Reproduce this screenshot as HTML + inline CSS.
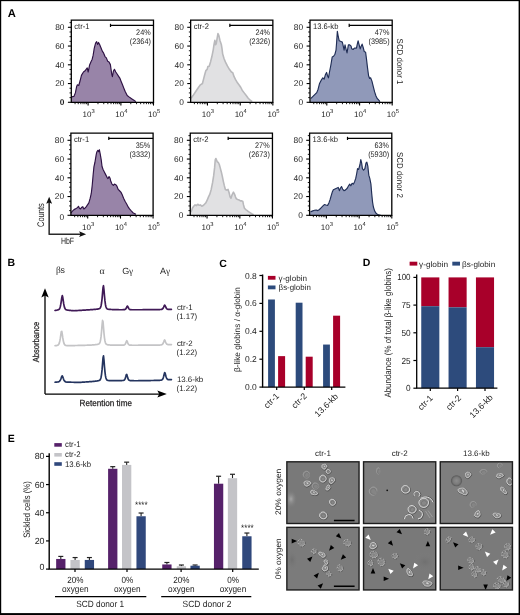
<!DOCTYPE html>
<html><head><meta charset="utf-8"><style>
html,body{margin:0;padding:0;background:#fff;}
svg{display:block;font-family:"Liberation Sans", sans-serif;text-rendering:geometricPrecision;}
</style></head><body>
<svg width="520" height="615" viewBox="0 0 520 615">
<defs><filter id="soft" x="0" y="0" width="1" height="1" color-interpolation-filters="sRGB"><feGaussianBlur stdDeviation="0.35"/></filter></defs>
<g filter="url(#soft)">
<rect x="0" y="0" width="520" height="615" fill="#fff"/>
<path d="M71.3,102.3 L72.02,96.92 L74.04,96.25 L75.38,92.88 L76.73,86.15 L77.4,84.81 L78.75,85.48 L80.1,80.77 L81.44,75.38 L83.46,72.02 L84.81,71.08 L86.15,69.33 L87.23,67.98 L88.17,72.02 L89.52,65.29 L90.87,61.92 L92.21,59.23 L93.15,55.19 L94.23,48.46 L95.58,43.08 L96.65,41.73 L97.6,44.42 L98.54,42.4 L99.62,44.42 L100.96,47.79 L102.31,51.15 L103.65,53.17 L105,56.54 L106.35,57.88 L107.69,61.25 L109.04,61.92 L110.38,64.62 L111.73,74.04 L112.4,76.73 L113.35,71.35 L114.42,69.33 L115.77,72.02 L117.12,74.04 L118.46,76.06 L119.81,78.08 L121.15,81.44 L122.5,84.81 L123.85,88.17 L125.19,91.54 L127.21,95.58 L129.9,97.6 L131.92,98.94 L133.94,100.29 L135.96,101.63 L135.96,102.3 Z" fill="#9884a8" stroke="none"/>
<path d="M72.02,96.92 L74.04,96.25 L75.38,92.88 L76.73,86.15 L77.4,84.81 L78.75,85.48 L80.1,80.77 L81.44,75.38 L83.46,72.02 L84.81,71.08 L86.15,69.33 L87.23,67.98 L88.17,72.02 L89.52,65.29 L90.87,61.92 L92.21,59.23 L93.15,55.19 L94.23,48.46 L95.58,43.08 L96.65,41.73 L97.6,44.42 L98.54,42.4 L99.62,44.42 L100.96,47.79 L102.31,51.15 L103.65,53.17 L105,56.54 L106.35,57.88 L107.69,61.25 L109.04,61.92 L110.38,64.62 L111.73,74.04 L112.4,76.73 L113.35,71.35 L114.42,69.33 L115.77,72.02 L117.12,74.04 L118.46,76.06 L119.81,78.08 L121.15,81.44 L122.5,84.81 L123.85,88.17 L125.19,91.54 L127.21,95.58 L129.9,97.6 L131.92,98.94 L133.94,100.29 L135.96,101.63" fill="none" stroke="#2e1244" stroke-width="1.15" stroke-linejoin="round"/>
<path d="M71.3,102.3 L71.3,20.2 L153.5,20.2 L153.5,102.3 Z" fill="none" stroke="#000" stroke-width="1.3"/>
<line x1="67.9" y1="102.3" x2="71.3" y2="102.3" stroke="#000" stroke-width="1.1"/>
<text x="64.5" y="105.2" font-size="8.4" fill="#1e1e1e" text-anchor="end" font-weight="bold">0</text>
<line x1="69.5" y1="97.61" x2="71.3" y2="97.61" stroke="#000" stroke-width="0.9"/>
<line x1="69.5" y1="92.92" x2="71.3" y2="92.92" stroke="#000" stroke-width="0.9"/>
<line x1="69.5" y1="88.24" x2="71.3" y2="88.24" stroke="#000" stroke-width="0.9"/>
<line x1="67.9" y1="83.55" x2="71.3" y2="83.55" stroke="#000" stroke-width="1.1"/>
<text x="64.5" y="86.45" font-size="8.4" fill="#1e1e1e" text-anchor="end">20</text>
<line x1="69.5" y1="78.86" x2="71.3" y2="78.86" stroke="#000" stroke-width="0.9"/>
<line x1="69.5" y1="74.17" x2="71.3" y2="74.17" stroke="#000" stroke-width="0.9"/>
<line x1="69.5" y1="69.49" x2="71.3" y2="69.49" stroke="#000" stroke-width="0.9"/>
<line x1="67.9" y1="64.8" x2="71.3" y2="64.8" stroke="#000" stroke-width="1.1"/>
<text x="64.5" y="67.7" font-size="8.4" fill="#1e1e1e" text-anchor="end">40</text>
<line x1="69.5" y1="60.11" x2="71.3" y2="60.11" stroke="#000" stroke-width="0.9"/>
<line x1="69.5" y1="55.42" x2="71.3" y2="55.42" stroke="#000" stroke-width="0.9"/>
<line x1="69.5" y1="50.74" x2="71.3" y2="50.74" stroke="#000" stroke-width="0.9"/>
<line x1="67.9" y1="46.05" x2="71.3" y2="46.05" stroke="#000" stroke-width="1.1"/>
<text x="64.5" y="48.95" font-size="8.4" fill="#1e1e1e" text-anchor="end">60</text>
<line x1="69.5" y1="41.36" x2="71.3" y2="41.36" stroke="#000" stroke-width="0.9"/>
<line x1="69.5" y1="36.67" x2="71.3" y2="36.67" stroke="#000" stroke-width="0.9"/>
<line x1="69.5" y1="31.99" x2="71.3" y2="31.99" stroke="#000" stroke-width="0.9"/>
<line x1="67.9" y1="27.3" x2="71.3" y2="27.3" stroke="#000" stroke-width="1.1"/>
<text x="64.5" y="30.2" font-size="8.4" fill="#1e1e1e" text-anchor="end">80</text>
<line x1="69.5" y1="22.61" x2="71.3" y2="22.61" stroke="#000" stroke-width="0.9"/>
<line x1="75.05" y1="102.3" x2="75.05" y2="104.2" stroke="#000" stroke-width="0.9"/>
<line x1="78.23" y1="102.3" x2="78.23" y2="104.2" stroke="#000" stroke-width="0.9"/>
<line x1="80.82" y1="102.3" x2="80.82" y2="104.2" stroke="#000" stroke-width="0.9"/>
<line x1="83.02" y1="102.3" x2="83.02" y2="104.2" stroke="#000" stroke-width="0.9"/>
<line x1="84.92" y1="102.3" x2="84.92" y2="104.2" stroke="#000" stroke-width="0.9"/>
<line x1="86.6" y1="102.3" x2="86.6" y2="104.2" stroke="#000" stroke-width="0.9"/>
<line x1="88.1" y1="102.3" x2="88.1" y2="105.6" stroke="#000" stroke-width="1.1"/>
<line x1="97.97" y1="102.3" x2="97.97" y2="104.2" stroke="#000" stroke-width="0.9"/>
<line x1="103.75" y1="102.3" x2="103.75" y2="104.2" stroke="#000" stroke-width="0.9"/>
<line x1="107.85" y1="102.3" x2="107.85" y2="104.2" stroke="#000" stroke-width="0.9"/>
<line x1="111.03" y1="102.3" x2="111.03" y2="104.2" stroke="#000" stroke-width="0.9"/>
<line x1="113.62" y1="102.3" x2="113.62" y2="104.2" stroke="#000" stroke-width="0.9"/>
<line x1="115.82" y1="102.3" x2="115.82" y2="104.2" stroke="#000" stroke-width="0.9"/>
<line x1="117.72" y1="102.3" x2="117.72" y2="104.2" stroke="#000" stroke-width="0.9"/>
<line x1="119.4" y1="102.3" x2="119.4" y2="104.2" stroke="#000" stroke-width="0.9"/>
<line x1="120.9" y1="102.3" x2="120.9" y2="105.6" stroke="#000" stroke-width="1.1"/>
<line x1="130.77" y1="102.3" x2="130.77" y2="104.2" stroke="#000" stroke-width="0.9"/>
<line x1="136.55" y1="102.3" x2="136.55" y2="104.2" stroke="#000" stroke-width="0.9"/>
<line x1="140.65" y1="102.3" x2="140.65" y2="104.2" stroke="#000" stroke-width="0.9"/>
<line x1="143.83" y1="102.3" x2="143.83" y2="104.2" stroke="#000" stroke-width="0.9"/>
<line x1="146.42" y1="102.3" x2="146.42" y2="104.2" stroke="#000" stroke-width="0.9"/>
<line x1="148.62" y1="102.3" x2="148.62" y2="104.2" stroke="#000" stroke-width="0.9"/>
<line x1="150.52" y1="102.3" x2="150.52" y2="104.2" stroke="#000" stroke-width="0.9"/>
<line x1="152.2" y1="102.3" x2="152.2" y2="104.2" stroke="#000" stroke-width="0.9"/>
<line x1="153.5" y1="102.3" x2="153.5" y2="105.6" stroke="#000" stroke-width="1.1"/>
<text x="82.5" y="116.8" font-size="8" fill="#1e1e1e">10<tspan dy="-3.6" font-size="5.8">3</tspan></text>
<text x="115.3" y="116.8" font-size="8" fill="#1e1e1e">10<tspan dy="-3.6" font-size="5.8">4</tspan></text>
<text x="148.1" y="116.8" font-size="8" fill="#1e1e1e">10<tspan dy="-3.6" font-size="5.8">5</tspan></text>
<text x="74.3" y="28.9" font-size="8.1" fill="#1e1e1e" textLength="15.23" lengthAdjust="spacingAndGlyphs">ctr-1</text>
<line x1="110.5" y1="25.4" x2="153.5" y2="25.4" stroke="#000" stroke-width="1.2"/>
<line x1="110.5" y1="23.8" x2="110.5" y2="27" stroke="#000" stroke-width="1.2"/>
<text x="150.7" y="34.8" font-size="8.1" fill="#1e1e1e" text-anchor="end" textLength="14.59" lengthAdjust="spacingAndGlyphs">24%</text>
<text x="150.9" y="43.8" font-size="8.1" fill="#1e1e1e" text-anchor="end" textLength="21.07" lengthAdjust="spacingAndGlyphs">(2364)</text>
<path d="M190.65,102.3 L191.02,98.27 L193.04,95.58 L195.73,91.54 L198.42,87.5 L200.44,84.81 L202.46,83.46 L203.81,78.08 L204.88,74.04 L205.83,70.67 L207.17,69.33 L207.85,66.63 L209.19,66.23 L210.54,61.92 L211.88,56.54 L213.23,49.81 L214.04,44.42 L214.85,40.38 L215.52,44.69 L216.19,43.75 L217,39.04 L217.94,33.52 L218.88,35.67 L219.96,40.38 L221.31,44.42 L221.98,48.46 L222.65,53.85 L224,58.56 L225.35,61.92 L227.37,65.96 L229.38,69.33 L231.4,72.02 L232.75,72.69 L234.1,76.73 L235.44,79.42 L237.46,82.79 L239.48,85.48 L240.83,87.5 L242.17,90.19 L244.19,92.88 L246.21,95.58 L248.23,98.27 L250.25,100.29 L252.27,101.63 L252.27,102.3 Z" fill="#e1e1e3" stroke="none"/>
<path d="M191.02,98.27 L193.04,95.58 L195.73,91.54 L198.42,87.5 L200.44,84.81 L202.46,83.46 L203.81,78.08 L204.88,74.04 L205.83,70.67 L207.17,69.33 L207.85,66.63 L209.19,66.23 L210.54,61.92 L211.88,56.54 L213.23,49.81 L214.04,44.42 L214.85,40.38 L215.52,44.69 L216.19,43.75 L217,39.04 L217.94,33.52 L218.88,35.67 L219.96,40.38 L221.31,44.42 L221.98,48.46 L222.65,53.85 L224,58.56 L225.35,61.92 L227.37,65.96 L229.38,69.33 L231.4,72.02 L232.75,72.69 L234.1,76.73 L235.44,79.42 L237.46,82.79 L239.48,85.48 L240.83,87.5 L242.17,90.19 L244.19,92.88 L246.21,95.58 L248.23,98.27 L250.25,100.29 L252.27,101.63" fill="none" stroke="#b9b9bc" stroke-width="1.6" stroke-linejoin="round"/>
<path d="M190.65,102.3 L190.65,20.2 L272.85,20.2 L272.85,102.3 Z" fill="none" stroke="#000" stroke-width="1.3"/>
<line x1="187.25" y1="102.3" x2="190.65" y2="102.3" stroke="#000" stroke-width="1.1"/>
<text x="183.85" y="105.2" font-size="8.4" fill="#1e1e1e" text-anchor="end">0</text>
<line x1="188.85" y1="97.61" x2="190.65" y2="97.61" stroke="#000" stroke-width="0.9"/>
<line x1="188.85" y1="92.92" x2="190.65" y2="92.92" stroke="#000" stroke-width="0.9"/>
<line x1="188.85" y1="88.24" x2="190.65" y2="88.24" stroke="#000" stroke-width="0.9"/>
<line x1="187.25" y1="83.55" x2="190.65" y2="83.55" stroke="#000" stroke-width="1.1"/>
<text x="183.85" y="86.45" font-size="8.4" fill="#1e1e1e" text-anchor="end">20</text>
<line x1="188.85" y1="78.86" x2="190.65" y2="78.86" stroke="#000" stroke-width="0.9"/>
<line x1="188.85" y1="74.17" x2="190.65" y2="74.17" stroke="#000" stroke-width="0.9"/>
<line x1="188.85" y1="69.49" x2="190.65" y2="69.49" stroke="#000" stroke-width="0.9"/>
<line x1="187.25" y1="64.8" x2="190.65" y2="64.8" stroke="#000" stroke-width="1.1"/>
<text x="183.85" y="67.7" font-size="8.4" fill="#1e1e1e" text-anchor="end">40</text>
<line x1="188.85" y1="60.11" x2="190.65" y2="60.11" stroke="#000" stroke-width="0.9"/>
<line x1="188.85" y1="55.42" x2="190.65" y2="55.42" stroke="#000" stroke-width="0.9"/>
<line x1="188.85" y1="50.74" x2="190.65" y2="50.74" stroke="#000" stroke-width="0.9"/>
<line x1="187.25" y1="46.05" x2="190.65" y2="46.05" stroke="#000" stroke-width="1.1"/>
<text x="183.85" y="48.95" font-size="8.4" fill="#1e1e1e" text-anchor="end">60</text>
<line x1="188.85" y1="41.36" x2="190.65" y2="41.36" stroke="#000" stroke-width="0.9"/>
<line x1="188.85" y1="36.67" x2="190.65" y2="36.67" stroke="#000" stroke-width="0.9"/>
<line x1="188.85" y1="31.99" x2="190.65" y2="31.99" stroke="#000" stroke-width="0.9"/>
<line x1="187.25" y1="27.3" x2="190.65" y2="27.3" stroke="#000" stroke-width="1.1"/>
<text x="183.85" y="30.2" font-size="8.4" fill="#1e1e1e" text-anchor="end">80</text>
<line x1="188.85" y1="22.61" x2="190.65" y2="22.61" stroke="#000" stroke-width="0.9"/>
<line x1="194.4" y1="102.3" x2="194.4" y2="104.2" stroke="#000" stroke-width="0.9"/>
<line x1="197.58" y1="102.3" x2="197.58" y2="104.2" stroke="#000" stroke-width="0.9"/>
<line x1="200.17" y1="102.3" x2="200.17" y2="104.2" stroke="#000" stroke-width="0.9"/>
<line x1="202.37" y1="102.3" x2="202.37" y2="104.2" stroke="#000" stroke-width="0.9"/>
<line x1="204.27" y1="102.3" x2="204.27" y2="104.2" stroke="#000" stroke-width="0.9"/>
<line x1="205.95" y1="102.3" x2="205.95" y2="104.2" stroke="#000" stroke-width="0.9"/>
<line x1="207.45" y1="102.3" x2="207.45" y2="105.6" stroke="#000" stroke-width="1.1"/>
<line x1="217.32" y1="102.3" x2="217.32" y2="104.2" stroke="#000" stroke-width="0.9"/>
<line x1="223.1" y1="102.3" x2="223.1" y2="104.2" stroke="#000" stroke-width="0.9"/>
<line x1="227.2" y1="102.3" x2="227.2" y2="104.2" stroke="#000" stroke-width="0.9"/>
<line x1="230.38" y1="102.3" x2="230.38" y2="104.2" stroke="#000" stroke-width="0.9"/>
<line x1="232.97" y1="102.3" x2="232.97" y2="104.2" stroke="#000" stroke-width="0.9"/>
<line x1="235.17" y1="102.3" x2="235.17" y2="104.2" stroke="#000" stroke-width="0.9"/>
<line x1="237.07" y1="102.3" x2="237.07" y2="104.2" stroke="#000" stroke-width="0.9"/>
<line x1="238.75" y1="102.3" x2="238.75" y2="104.2" stroke="#000" stroke-width="0.9"/>
<line x1="240.25" y1="102.3" x2="240.25" y2="105.6" stroke="#000" stroke-width="1.1"/>
<line x1="250.12" y1="102.3" x2="250.12" y2="104.2" stroke="#000" stroke-width="0.9"/>
<line x1="255.9" y1="102.3" x2="255.9" y2="104.2" stroke="#000" stroke-width="0.9"/>
<line x1="260" y1="102.3" x2="260" y2="104.2" stroke="#000" stroke-width="0.9"/>
<line x1="263.18" y1="102.3" x2="263.18" y2="104.2" stroke="#000" stroke-width="0.9"/>
<line x1="265.77" y1="102.3" x2="265.77" y2="104.2" stroke="#000" stroke-width="0.9"/>
<line x1="267.97" y1="102.3" x2="267.97" y2="104.2" stroke="#000" stroke-width="0.9"/>
<line x1="269.87" y1="102.3" x2="269.87" y2="104.2" stroke="#000" stroke-width="0.9"/>
<line x1="271.55" y1="102.3" x2="271.55" y2="104.2" stroke="#000" stroke-width="0.9"/>
<line x1="272.85" y1="102.3" x2="272.85" y2="105.6" stroke="#000" stroke-width="1.1"/>
<text x="201.85" y="116.8" font-size="8" fill="#1e1e1e">10<tspan dy="-3.6" font-size="5.8">3</tspan></text>
<text x="234.65" y="116.8" font-size="8" fill="#1e1e1e">10<tspan dy="-3.6" font-size="5.8">4</tspan></text>
<text x="267.45" y="116.8" font-size="8" fill="#1e1e1e">10<tspan dy="-3.6" font-size="5.8">5</tspan></text>
<text x="193.65" y="28.9" font-size="8.1" fill="#1e1e1e" textLength="15.23" lengthAdjust="spacingAndGlyphs">ctr-2</text>
<line x1="229.85" y1="25.4" x2="272.85" y2="25.4" stroke="#000" stroke-width="1.2"/>
<line x1="229.85" y1="23.8" x2="229.85" y2="27" stroke="#000" stroke-width="1.2"/>
<text x="270.05" y="34.8" font-size="8.1" fill="#1e1e1e" text-anchor="end" textLength="14.59" lengthAdjust="spacingAndGlyphs">24%</text>
<text x="270.25" y="43.8" font-size="8.1" fill="#1e1e1e" text-anchor="end" textLength="21.07" lengthAdjust="spacingAndGlyphs">(2326)</text>
<path d="M310,102.3 L310.69,98.65 L312.71,96.63 L314.73,94.62 L316.75,92.6 L318.1,89.23 L319.44,83.85 L321.46,79.81 L322.81,77.79 L324.15,79.13 L325.5,74.42 L326.58,72.4 L327.52,75.77 L328.46,77.79 L329.54,71.73 L330.88,65 L332.23,56.92 L333.58,56.25 L334.92,54.23 L336,50.19 L336.54,43.46 L337.35,31.35 L338.29,36.73 L339.23,40.77 L340.98,41.44 L342.33,42.12 L343.27,46.15 L344.08,50.19 L345.02,44.81 L345.96,48.85 L347.04,52.88 L348.38,44.81 L349.73,44.81 L351.08,46.15 L351.75,48.85 L353.1,49.52 L354.44,48.17 L356.46,48.17 L357.13,44.81 L358.08,40.77 L359.15,44.81 L360.23,48.85 L361.17,46.15 L362.12,44.13 L363.19,47.5 L364.27,51.54 L365.62,52.21 L366.56,59.62 L367.5,67.69 L368.58,75.77 L369.65,78.46 L370.6,77.79 L371.94,81.15 L373.29,86.54 L374.63,91.92 L375.98,95.96 L377.33,98.65 L378.67,100 L380.02,101.62 L380.02,102.3 Z" fill="#9099b9" stroke="none"/>
<path d="M310.69,98.65 L312.71,96.63 L314.73,94.62 L316.75,92.6 L318.1,89.23 L319.44,83.85 L321.46,79.81 L322.81,77.79 L324.15,79.13 L325.5,74.42 L326.58,72.4 L327.52,75.77 L328.46,77.79 L329.54,71.73 L330.88,65 L332.23,56.92 L333.58,56.25 L334.92,54.23 L336,50.19 L336.54,43.46 L337.35,31.35 L338.29,36.73 L339.23,40.77 L340.98,41.44 L342.33,42.12 L343.27,46.15 L344.08,50.19 L345.02,44.81 L345.96,48.85 L347.04,52.88 L348.38,44.81 L349.73,44.81 L351.08,46.15 L351.75,48.85 L353.1,49.52 L354.44,48.17 L356.46,48.17 L357.13,44.81 L358.08,40.77 L359.15,44.81 L360.23,48.85 L361.17,46.15 L362.12,44.13 L363.19,47.5 L364.27,51.54 L365.62,52.21 L366.56,59.62 L367.5,67.69 L368.58,75.77 L369.65,78.46 L370.6,77.79 L371.94,81.15 L373.29,86.54 L374.63,91.92 L375.98,95.96 L377.33,98.65 L378.67,100 L380.02,101.62" fill="none" stroke="#1f2d55" stroke-width="1.15" stroke-linejoin="round"/>
<path d="M310,102.3 L310,20.2 L392.2,20.2 L392.2,102.3 Z" fill="none" stroke="#000" stroke-width="1.3"/>
<line x1="306.6" y1="102.3" x2="310" y2="102.3" stroke="#000" stroke-width="1.1"/>
<text x="303.2" y="105.2" font-size="8.4" fill="#1e1e1e" text-anchor="end">0</text>
<line x1="308.2" y1="97.61" x2="310" y2="97.61" stroke="#000" stroke-width="0.9"/>
<line x1="308.2" y1="92.92" x2="310" y2="92.92" stroke="#000" stroke-width="0.9"/>
<line x1="308.2" y1="88.24" x2="310" y2="88.24" stroke="#000" stroke-width="0.9"/>
<line x1="306.6" y1="83.55" x2="310" y2="83.55" stroke="#000" stroke-width="1.1"/>
<text x="303.2" y="86.45" font-size="8.4" fill="#1e1e1e" text-anchor="end">20</text>
<line x1="308.2" y1="78.86" x2="310" y2="78.86" stroke="#000" stroke-width="0.9"/>
<line x1="308.2" y1="74.17" x2="310" y2="74.17" stroke="#000" stroke-width="0.9"/>
<line x1="308.2" y1="69.49" x2="310" y2="69.49" stroke="#000" stroke-width="0.9"/>
<line x1="306.6" y1="64.8" x2="310" y2="64.8" stroke="#000" stroke-width="1.1"/>
<text x="303.2" y="67.7" font-size="8.4" fill="#1e1e1e" text-anchor="end">40</text>
<line x1="308.2" y1="60.11" x2="310" y2="60.11" stroke="#000" stroke-width="0.9"/>
<line x1="308.2" y1="55.42" x2="310" y2="55.42" stroke="#000" stroke-width="0.9"/>
<line x1="308.2" y1="50.74" x2="310" y2="50.74" stroke="#000" stroke-width="0.9"/>
<line x1="306.6" y1="46.05" x2="310" y2="46.05" stroke="#000" stroke-width="1.1"/>
<text x="303.2" y="48.95" font-size="8.4" fill="#1e1e1e" text-anchor="end">60</text>
<line x1="308.2" y1="41.36" x2="310" y2="41.36" stroke="#000" stroke-width="0.9"/>
<line x1="308.2" y1="36.67" x2="310" y2="36.67" stroke="#000" stroke-width="0.9"/>
<line x1="308.2" y1="31.99" x2="310" y2="31.99" stroke="#000" stroke-width="0.9"/>
<line x1="306.6" y1="27.3" x2="310" y2="27.3" stroke="#000" stroke-width="1.1"/>
<text x="303.2" y="30.2" font-size="8.4" fill="#1e1e1e" text-anchor="end">80</text>
<line x1="308.2" y1="22.61" x2="310" y2="22.61" stroke="#000" stroke-width="0.9"/>
<line x1="313.75" y1="102.3" x2="313.75" y2="104.2" stroke="#000" stroke-width="0.9"/>
<line x1="316.93" y1="102.3" x2="316.93" y2="104.2" stroke="#000" stroke-width="0.9"/>
<line x1="319.52" y1="102.3" x2="319.52" y2="104.2" stroke="#000" stroke-width="0.9"/>
<line x1="321.72" y1="102.3" x2="321.72" y2="104.2" stroke="#000" stroke-width="0.9"/>
<line x1="323.62" y1="102.3" x2="323.62" y2="104.2" stroke="#000" stroke-width="0.9"/>
<line x1="325.3" y1="102.3" x2="325.3" y2="104.2" stroke="#000" stroke-width="0.9"/>
<line x1="326.8" y1="102.3" x2="326.8" y2="105.6" stroke="#000" stroke-width="1.1"/>
<line x1="336.67" y1="102.3" x2="336.67" y2="104.2" stroke="#000" stroke-width="0.9"/>
<line x1="342.45" y1="102.3" x2="342.45" y2="104.2" stroke="#000" stroke-width="0.9"/>
<line x1="346.55" y1="102.3" x2="346.55" y2="104.2" stroke="#000" stroke-width="0.9"/>
<line x1="349.73" y1="102.3" x2="349.73" y2="104.2" stroke="#000" stroke-width="0.9"/>
<line x1="352.32" y1="102.3" x2="352.32" y2="104.2" stroke="#000" stroke-width="0.9"/>
<line x1="354.52" y1="102.3" x2="354.52" y2="104.2" stroke="#000" stroke-width="0.9"/>
<line x1="356.42" y1="102.3" x2="356.42" y2="104.2" stroke="#000" stroke-width="0.9"/>
<line x1="358.1" y1="102.3" x2="358.1" y2="104.2" stroke="#000" stroke-width="0.9"/>
<line x1="359.6" y1="102.3" x2="359.6" y2="105.6" stroke="#000" stroke-width="1.1"/>
<line x1="369.47" y1="102.3" x2="369.47" y2="104.2" stroke="#000" stroke-width="0.9"/>
<line x1="375.25" y1="102.3" x2="375.25" y2="104.2" stroke="#000" stroke-width="0.9"/>
<line x1="379.35" y1="102.3" x2="379.35" y2="104.2" stroke="#000" stroke-width="0.9"/>
<line x1="382.53" y1="102.3" x2="382.53" y2="104.2" stroke="#000" stroke-width="0.9"/>
<line x1="385.12" y1="102.3" x2="385.12" y2="104.2" stroke="#000" stroke-width="0.9"/>
<line x1="387.32" y1="102.3" x2="387.32" y2="104.2" stroke="#000" stroke-width="0.9"/>
<line x1="389.22" y1="102.3" x2="389.22" y2="104.2" stroke="#000" stroke-width="0.9"/>
<line x1="390.9" y1="102.3" x2="390.9" y2="104.2" stroke="#000" stroke-width="0.9"/>
<line x1="392.2" y1="102.3" x2="392.2" y2="105.6" stroke="#000" stroke-width="1.1"/>
<text x="321.2" y="116.8" font-size="8" fill="#1e1e1e">10<tspan dy="-3.6" font-size="5.8">3</tspan></text>
<text x="354" y="116.8" font-size="8" fill="#1e1e1e">10<tspan dy="-3.6" font-size="5.8">4</tspan></text>
<text x="386.8" y="116.8" font-size="8" fill="#1e1e1e">10<tspan dy="-3.6" font-size="5.8">5</tspan></text>
<text x="313" y="28.9" font-size="8.1" fill="#1e1e1e" textLength="25.4" lengthAdjust="spacingAndGlyphs">13.6-kb</text>
<line x1="349.2" y1="25.4" x2="392.2" y2="25.4" stroke="#000" stroke-width="1.2"/>
<line x1="349.2" y1="23.8" x2="349.2" y2="27" stroke="#000" stroke-width="1.2"/>
<text x="389.4" y="34.8" font-size="8.1" fill="#1e1e1e" text-anchor="end" textLength="14.59" lengthAdjust="spacingAndGlyphs">47%</text>
<text x="389.6" y="43.8" font-size="8.1" fill="#1e1e1e" text-anchor="end" textLength="21.07" lengthAdjust="spacingAndGlyphs">(3985)</text>
<text x="397" y="38.6" font-size="8.6" fill="#1e1e1e" textLength="45.8" lengthAdjust="spacingAndGlyphs" transform="rotate(90 397 38.6)">SCD donor 1</text>
<path d="M70.9,215.3 L70.9,212.98 L72.69,210.96 L74.04,209.62 L76.06,208.54 L77.4,207.6 L78.48,206.25 L79.42,208.27 L80.5,208.94 L81.85,207.19 L82.79,206.65 L83.87,208.94 L84.81,208.27 L86.15,206.92 L87.5,204.9 L88.85,202.88 L90.19,198.17 L91.27,193.46 L92.21,185.38 L93.15,174.62 L93.96,166.54 L94.9,162.5 L95.58,158.46 L96.25,154.42 L96.92,151.73 L97.87,150.38 L98.67,151.73 L99.35,149.71 L100.29,154.42 L101.23,159.81 L102.04,166.54 L102.98,169.23 L104.33,171.92 L105.67,174.62 L107.02,177.31 L107.96,178.65 L109.04,176.63 L109.98,177.98 L110.79,181.35 L112,184.04 L113.35,185.38 L114.42,184.04 L115.77,184.71 L116.85,186.06 L118.19,189.42 L119.54,190.77 L120.88,192.12 L122.23,194.81 L123.58,198.17 L125.19,201.54 L126.81,204.23 L128.15,206.92 L129.5,208.94 L131.25,210.96 L133.27,212.98 L135.96,214.33 L135.96,215.3 Z" fill="#9884a8" stroke="none"/>
<path d="M70.9,212.98 L72.69,210.96 L74.04,209.62 L76.06,208.54 L77.4,207.6 L78.48,206.25 L79.42,208.27 L80.5,208.94 L81.85,207.19 L82.79,206.65 L83.87,208.94 L84.81,208.27 L86.15,206.92 L87.5,204.9 L88.85,202.88 L90.19,198.17 L91.27,193.46 L92.21,185.38 L93.15,174.62 L93.96,166.54 L94.9,162.5 L95.58,158.46 L96.25,154.42 L96.92,151.73 L97.87,150.38 L98.67,151.73 L99.35,149.71 L100.29,154.42 L101.23,159.81 L102.04,166.54 L102.98,169.23 L104.33,171.92 L105.67,174.62 L107.02,177.31 L107.96,178.65 L109.04,176.63 L109.98,177.98 L110.79,181.35 L112,184.04 L113.35,185.38 L114.42,184.04 L115.77,184.71 L116.85,186.06 L118.19,189.42 L119.54,190.77 L120.88,192.12 L122.23,194.81 L123.58,198.17 L125.19,201.54 L126.81,204.23 L128.15,206.92 L129.5,208.94 L131.25,210.96 L133.27,212.98 L135.96,214.33" fill="none" stroke="#2e1244" stroke-width="1.15" stroke-linejoin="round"/>
<path d="M70.9,215.3 L70.9,133.2 L153.1,133.2 L153.1,215.3 Z" fill="none" stroke="#000" stroke-width="1.3"/>
<line x1="67.5" y1="215.3" x2="70.9" y2="215.3" stroke="#000" stroke-width="1.1"/>
<text x="64.1" y="220.1" font-size="8.4" fill="#1e1e1e" text-anchor="end">0</text>
<line x1="69.1" y1="210.61" x2="70.9" y2="210.61" stroke="#000" stroke-width="0.9"/>
<line x1="69.1" y1="205.93" x2="70.9" y2="205.93" stroke="#000" stroke-width="0.9"/>
<line x1="69.1" y1="201.24" x2="70.9" y2="201.24" stroke="#000" stroke-width="0.9"/>
<line x1="67.5" y1="196.55" x2="70.9" y2="196.55" stroke="#000" stroke-width="1.1"/>
<text x="64.1" y="199.45" font-size="8.4" fill="#1e1e1e" text-anchor="end">20</text>
<line x1="69.1" y1="191.86" x2="70.9" y2="191.86" stroke="#000" stroke-width="0.9"/>
<line x1="69.1" y1="187.18" x2="70.9" y2="187.18" stroke="#000" stroke-width="0.9"/>
<line x1="69.1" y1="182.49" x2="70.9" y2="182.49" stroke="#000" stroke-width="0.9"/>
<line x1="67.5" y1="177.8" x2="70.9" y2="177.8" stroke="#000" stroke-width="1.1"/>
<text x="64.1" y="180.7" font-size="8.4" fill="#1e1e1e" text-anchor="end">40</text>
<line x1="69.1" y1="173.11" x2="70.9" y2="173.11" stroke="#000" stroke-width="0.9"/>
<line x1="69.1" y1="168.43" x2="70.9" y2="168.43" stroke="#000" stroke-width="0.9"/>
<line x1="69.1" y1="163.74" x2="70.9" y2="163.74" stroke="#000" stroke-width="0.9"/>
<line x1="67.5" y1="159.05" x2="70.9" y2="159.05" stroke="#000" stroke-width="1.1"/>
<text x="64.1" y="161.95" font-size="8.4" fill="#1e1e1e" text-anchor="end">60</text>
<line x1="69.1" y1="154.36" x2="70.9" y2="154.36" stroke="#000" stroke-width="0.9"/>
<line x1="69.1" y1="149.68" x2="70.9" y2="149.68" stroke="#000" stroke-width="0.9"/>
<line x1="69.1" y1="144.99" x2="70.9" y2="144.99" stroke="#000" stroke-width="0.9"/>
<line x1="67.5" y1="140.3" x2="70.9" y2="140.3" stroke="#000" stroke-width="1.1"/>
<text x="64.1" y="143.2" font-size="8.4" fill="#1e1e1e" text-anchor="end">80</text>
<line x1="69.1" y1="135.61" x2="70.9" y2="135.61" stroke="#000" stroke-width="0.9"/>
<line x1="74.65" y1="215.3" x2="74.65" y2="217.2" stroke="#000" stroke-width="0.9"/>
<line x1="77.83" y1="215.3" x2="77.83" y2="217.2" stroke="#000" stroke-width="0.9"/>
<line x1="80.42" y1="215.3" x2="80.42" y2="217.2" stroke="#000" stroke-width="0.9"/>
<line x1="82.62" y1="215.3" x2="82.62" y2="217.2" stroke="#000" stroke-width="0.9"/>
<line x1="84.52" y1="215.3" x2="84.52" y2="217.2" stroke="#000" stroke-width="0.9"/>
<line x1="86.2" y1="215.3" x2="86.2" y2="217.2" stroke="#000" stroke-width="0.9"/>
<line x1="87.7" y1="215.3" x2="87.7" y2="218.6" stroke="#000" stroke-width="1.1"/>
<line x1="97.57" y1="215.3" x2="97.57" y2="217.2" stroke="#000" stroke-width="0.9"/>
<line x1="103.35" y1="215.3" x2="103.35" y2="217.2" stroke="#000" stroke-width="0.9"/>
<line x1="107.45" y1="215.3" x2="107.45" y2="217.2" stroke="#000" stroke-width="0.9"/>
<line x1="110.63" y1="215.3" x2="110.63" y2="217.2" stroke="#000" stroke-width="0.9"/>
<line x1="113.22" y1="215.3" x2="113.22" y2="217.2" stroke="#000" stroke-width="0.9"/>
<line x1="115.42" y1="215.3" x2="115.42" y2="217.2" stroke="#000" stroke-width="0.9"/>
<line x1="117.32" y1="215.3" x2="117.32" y2="217.2" stroke="#000" stroke-width="0.9"/>
<line x1="119" y1="215.3" x2="119" y2="217.2" stroke="#000" stroke-width="0.9"/>
<line x1="120.5" y1="215.3" x2="120.5" y2="218.6" stroke="#000" stroke-width="1.1"/>
<line x1="130.37" y1="215.3" x2="130.37" y2="217.2" stroke="#000" stroke-width="0.9"/>
<line x1="136.15" y1="215.3" x2="136.15" y2="217.2" stroke="#000" stroke-width="0.9"/>
<line x1="140.25" y1="215.3" x2="140.25" y2="217.2" stroke="#000" stroke-width="0.9"/>
<line x1="143.43" y1="215.3" x2="143.43" y2="217.2" stroke="#000" stroke-width="0.9"/>
<line x1="146.02" y1="215.3" x2="146.02" y2="217.2" stroke="#000" stroke-width="0.9"/>
<line x1="148.22" y1="215.3" x2="148.22" y2="217.2" stroke="#000" stroke-width="0.9"/>
<line x1="150.12" y1="215.3" x2="150.12" y2="217.2" stroke="#000" stroke-width="0.9"/>
<line x1="151.8" y1="215.3" x2="151.8" y2="217.2" stroke="#000" stroke-width="0.9"/>
<line x1="153.1" y1="215.3" x2="153.1" y2="218.6" stroke="#000" stroke-width="1.1"/>
<text x="82.1" y="229.8" font-size="8" fill="#1e1e1e">10<tspan dy="-3.6" font-size="5.8">3</tspan></text>
<text x="114.9" y="229.8" font-size="8" fill="#1e1e1e">10<tspan dy="-3.6" font-size="5.8">4</tspan></text>
<text x="147.7" y="229.8" font-size="8" fill="#1e1e1e">10<tspan dy="-3.6" font-size="5.8">5</tspan></text>
<text x="73.9" y="141.9" font-size="8.1" fill="#1e1e1e" textLength="15.23" lengthAdjust="spacingAndGlyphs">ctr-1</text>
<line x1="108.8" y1="138.4" x2="153.1" y2="138.4" stroke="#000" stroke-width="1.2"/>
<line x1="108.8" y1="136.8" x2="108.8" y2="140" stroke="#000" stroke-width="1.2"/>
<text x="150.3" y="147.8" font-size="8.1" fill="#1e1e1e" text-anchor="end" textLength="14.59" lengthAdjust="spacingAndGlyphs">35%</text>
<text x="150.5" y="156.8" font-size="8.1" fill="#1e1e1e" text-anchor="end" textLength="21.07" lengthAdjust="spacingAndGlyphs">(3332)</text>
<path d="M190.25,215.3 L191.02,212.31 L192.37,208.27 L193.71,206.25 L195.06,204.9 L196.4,205.58 L197.75,204.23 L199.1,205.31 L200.44,204.9 L201.79,206.25 L203.13,205.58 L204.48,204.23 L205.83,202.88 L207.17,200.19 L208.52,196.83 L209.87,194.13 L211.21,189.42 L212.56,182.69 L213.63,175.96 L214.58,167.88 L215.25,159.81 L215.92,158.46 L217.27,161.83 L218.35,162.5 L219.29,164.52 L220.23,167.88 L221.31,171.92 L222.38,176.63 L223.33,181.35 L224.27,185.38 L225.35,189.42 L226.69,190.1 L228.04,189.42 L229.12,192.79 L230.06,196.83 L231,198.17 L232.08,194.81 L233.42,192.12 L234.5,194.13 L235.44,196.83 L236.38,198.85 L237.73,199.52 L239.08,199.92 L240.42,200.87 L241.77,200.87 L242.85,201.54 L243.52,204.9 L244.46,208.27 L245.81,209.62 L247.56,210.96 L249.58,212.31 L251.6,213.65 L253.62,214.73 L253.62,215.3 Z" fill="#e1e1e3" stroke="none"/>
<path d="M191.02,212.31 L192.37,208.27 L193.71,206.25 L195.06,204.9 L196.4,205.58 L197.75,204.23 L199.1,205.31 L200.44,204.9 L201.79,206.25 L203.13,205.58 L204.48,204.23 L205.83,202.88 L207.17,200.19 L208.52,196.83 L209.87,194.13 L211.21,189.42 L212.56,182.69 L213.63,175.96 L214.58,167.88 L215.25,159.81 L215.92,158.46 L217.27,161.83 L218.35,162.5 L219.29,164.52 L220.23,167.88 L221.31,171.92 L222.38,176.63 L223.33,181.35 L224.27,185.38 L225.35,189.42 L226.69,190.1 L228.04,189.42 L229.12,192.79 L230.06,196.83 L231,198.17 L232.08,194.81 L233.42,192.12 L234.5,194.13 L235.44,196.83 L236.38,198.85 L237.73,199.52 L239.08,199.92 L240.42,200.87 L241.77,200.87 L242.85,201.54 L243.52,204.9 L244.46,208.27 L245.81,209.62 L247.56,210.96 L249.58,212.31 L251.6,213.65 L253.62,214.73" fill="none" stroke="#b9b9bc" stroke-width="1.6" stroke-linejoin="round"/>
<path d="M190.25,215.3 L190.25,133.2 L272.45,133.2 L272.45,215.3 Z" fill="none" stroke="#000" stroke-width="1.3"/>
<line x1="186.85" y1="215.3" x2="190.25" y2="215.3" stroke="#000" stroke-width="1.1"/>
<text x="183.45" y="218.2" font-size="8.4" fill="#1e1e1e" text-anchor="end">0</text>
<line x1="188.45" y1="210.61" x2="190.25" y2="210.61" stroke="#000" stroke-width="0.9"/>
<line x1="188.45" y1="205.93" x2="190.25" y2="205.93" stroke="#000" stroke-width="0.9"/>
<line x1="188.45" y1="201.24" x2="190.25" y2="201.24" stroke="#000" stroke-width="0.9"/>
<line x1="186.85" y1="196.55" x2="190.25" y2="196.55" stroke="#000" stroke-width="1.1"/>
<text x="183.45" y="199.45" font-size="8.4" fill="#1e1e1e" text-anchor="end">20</text>
<line x1="188.45" y1="191.86" x2="190.25" y2="191.86" stroke="#000" stroke-width="0.9"/>
<line x1="188.45" y1="187.18" x2="190.25" y2="187.18" stroke="#000" stroke-width="0.9"/>
<line x1="188.45" y1="182.49" x2="190.25" y2="182.49" stroke="#000" stroke-width="0.9"/>
<line x1="186.85" y1="177.8" x2="190.25" y2="177.8" stroke="#000" stroke-width="1.1"/>
<text x="183.45" y="180.7" font-size="8.4" fill="#1e1e1e" text-anchor="end">40</text>
<line x1="188.45" y1="173.11" x2="190.25" y2="173.11" stroke="#000" stroke-width="0.9"/>
<line x1="188.45" y1="168.43" x2="190.25" y2="168.43" stroke="#000" stroke-width="0.9"/>
<line x1="188.45" y1="163.74" x2="190.25" y2="163.74" stroke="#000" stroke-width="0.9"/>
<line x1="186.85" y1="159.05" x2="190.25" y2="159.05" stroke="#000" stroke-width="1.1"/>
<text x="183.45" y="161.95" font-size="8.4" fill="#1e1e1e" text-anchor="end">60</text>
<line x1="188.45" y1="154.36" x2="190.25" y2="154.36" stroke="#000" stroke-width="0.9"/>
<line x1="188.45" y1="149.68" x2="190.25" y2="149.68" stroke="#000" stroke-width="0.9"/>
<line x1="188.45" y1="144.99" x2="190.25" y2="144.99" stroke="#000" stroke-width="0.9"/>
<line x1="186.85" y1="140.3" x2="190.25" y2="140.3" stroke="#000" stroke-width="1.1"/>
<text x="183.45" y="143.2" font-size="8.4" fill="#1e1e1e" text-anchor="end">80</text>
<line x1="188.45" y1="135.61" x2="190.25" y2="135.61" stroke="#000" stroke-width="0.9"/>
<line x1="194" y1="215.3" x2="194" y2="217.2" stroke="#000" stroke-width="0.9"/>
<line x1="197.18" y1="215.3" x2="197.18" y2="217.2" stroke="#000" stroke-width="0.9"/>
<line x1="199.77" y1="215.3" x2="199.77" y2="217.2" stroke="#000" stroke-width="0.9"/>
<line x1="201.97" y1="215.3" x2="201.97" y2="217.2" stroke="#000" stroke-width="0.9"/>
<line x1="203.87" y1="215.3" x2="203.87" y2="217.2" stroke="#000" stroke-width="0.9"/>
<line x1="205.55" y1="215.3" x2="205.55" y2="217.2" stroke="#000" stroke-width="0.9"/>
<line x1="207.05" y1="215.3" x2="207.05" y2="218.6" stroke="#000" stroke-width="1.1"/>
<line x1="216.92" y1="215.3" x2="216.92" y2="217.2" stroke="#000" stroke-width="0.9"/>
<line x1="222.7" y1="215.3" x2="222.7" y2="217.2" stroke="#000" stroke-width="0.9"/>
<line x1="226.8" y1="215.3" x2="226.8" y2="217.2" stroke="#000" stroke-width="0.9"/>
<line x1="229.98" y1="215.3" x2="229.98" y2="217.2" stroke="#000" stroke-width="0.9"/>
<line x1="232.57" y1="215.3" x2="232.57" y2="217.2" stroke="#000" stroke-width="0.9"/>
<line x1="234.77" y1="215.3" x2="234.77" y2="217.2" stroke="#000" stroke-width="0.9"/>
<line x1="236.67" y1="215.3" x2="236.67" y2="217.2" stroke="#000" stroke-width="0.9"/>
<line x1="238.35" y1="215.3" x2="238.35" y2="217.2" stroke="#000" stroke-width="0.9"/>
<line x1="239.85" y1="215.3" x2="239.85" y2="218.6" stroke="#000" stroke-width="1.1"/>
<line x1="249.72" y1="215.3" x2="249.72" y2="217.2" stroke="#000" stroke-width="0.9"/>
<line x1="255.5" y1="215.3" x2="255.5" y2="217.2" stroke="#000" stroke-width="0.9"/>
<line x1="259.6" y1="215.3" x2="259.6" y2="217.2" stroke="#000" stroke-width="0.9"/>
<line x1="262.78" y1="215.3" x2="262.78" y2="217.2" stroke="#000" stroke-width="0.9"/>
<line x1="265.37" y1="215.3" x2="265.37" y2="217.2" stroke="#000" stroke-width="0.9"/>
<line x1="267.57" y1="215.3" x2="267.57" y2="217.2" stroke="#000" stroke-width="0.9"/>
<line x1="269.47" y1="215.3" x2="269.47" y2="217.2" stroke="#000" stroke-width="0.9"/>
<line x1="271.15" y1="215.3" x2="271.15" y2="217.2" stroke="#000" stroke-width="0.9"/>
<line x1="272.45" y1="215.3" x2="272.45" y2="218.6" stroke="#000" stroke-width="1.1"/>
<text x="201.45" y="229.8" font-size="8" fill="#1e1e1e">10<tspan dy="-3.6" font-size="5.8">3</tspan></text>
<text x="234.25" y="229.8" font-size="8" fill="#1e1e1e">10<tspan dy="-3.6" font-size="5.8">4</tspan></text>
<text x="267.05" y="229.8" font-size="8" fill="#1e1e1e">10<tspan dy="-3.6" font-size="5.8">5</tspan></text>
<text x="193.25" y="141.9" font-size="8.1" fill="#1e1e1e" textLength="15.23" lengthAdjust="spacingAndGlyphs">ctr-2</text>
<line x1="228.15" y1="138.4" x2="272.45" y2="138.4" stroke="#000" stroke-width="1.2"/>
<line x1="228.15" y1="136.8" x2="228.15" y2="140" stroke="#000" stroke-width="1.2"/>
<text x="269.65" y="147.8" font-size="8.1" fill="#1e1e1e" text-anchor="end" textLength="14.59" lengthAdjust="spacingAndGlyphs">27%</text>
<text x="269.85" y="156.8" font-size="8.1" fill="#1e1e1e" text-anchor="end" textLength="21.07" lengthAdjust="spacingAndGlyphs">(2673)</text>
<path d="M309.6,215.3 L310.45,211.92 L312.09,211.11 L314.54,210.29 L316.17,209.96 L317.81,210.62 L319.44,209.47 L321.08,207.84 L322.71,206.2 L324.35,204.57 L325.98,205.06 L327.62,205.39 L328.92,202.93 L330.07,199.66 L331.21,195.58 L332.19,192.31 L333.34,189.86 L334.97,189.04 L336.61,188.22 L338.24,187.4 L339.38,190.67 L340.37,188.22 L341.51,186.59 L342.65,189.04 L343.96,190.67 L345.6,189.86 L347.23,188.22 L348.54,185.77 L349.68,184.13 L350.83,185.77 L352.13,183.32 L353.44,184.13 L354.59,181.68 L355.73,178.41 L356.71,173.51 L357.53,168.61 L358.67,169.42 L359.98,164.52 L360.8,159.62 L361.62,162.88 L362.43,168.61 L363.58,170.24 L364.89,168.61 L366.03,162.88 L366.85,162.07 L367.83,166.15 L368.81,175.14 L369.79,178.41 L370.93,184.13 L371.75,193.94 L372.57,202.12 L373.39,207.02 L374.69,211.11 L376.33,213.56 L378.29,214.87 L380.74,215.3 L380.74,215.3 Z" fill="#9099b9" stroke="none"/>
<path d="M310.45,211.92 L312.09,211.11 L314.54,210.29 L316.17,209.96 L317.81,210.62 L319.44,209.47 L321.08,207.84 L322.71,206.2 L324.35,204.57 L325.98,205.06 L327.62,205.39 L328.92,202.93 L330.07,199.66 L331.21,195.58 L332.19,192.31 L333.34,189.86 L334.97,189.04 L336.61,188.22 L338.24,187.4 L339.38,190.67 L340.37,188.22 L341.51,186.59 L342.65,189.04 L343.96,190.67 L345.6,189.86 L347.23,188.22 L348.54,185.77 L349.68,184.13 L350.83,185.77 L352.13,183.32 L353.44,184.13 L354.59,181.68 L355.73,178.41 L356.71,173.51 L357.53,168.61 L358.67,169.42 L359.98,164.52 L360.8,159.62 L361.62,162.88 L362.43,168.61 L363.58,170.24 L364.89,168.61 L366.03,162.88 L366.85,162.07 L367.83,166.15 L368.81,175.14 L369.79,178.41 L370.93,184.13 L371.75,193.94 L372.57,202.12 L373.39,207.02 L374.69,211.11 L376.33,213.56 L378.29,214.87 L380.74,215.3" fill="none" stroke="#1f2d55" stroke-width="1.15" stroke-linejoin="round"/>
<path d="M309.6,215.3 L309.6,133.2 L391.8,133.2 L391.8,215.3 Z" fill="none" stroke="#000" stroke-width="1.3"/>
<line x1="306.2" y1="215.3" x2="309.6" y2="215.3" stroke="#000" stroke-width="1.1"/>
<text x="302.8" y="218.2" font-size="8.4" fill="#1e1e1e" text-anchor="end">0</text>
<line x1="307.8" y1="210.61" x2="309.6" y2="210.61" stroke="#000" stroke-width="0.9"/>
<line x1="307.8" y1="205.93" x2="309.6" y2="205.93" stroke="#000" stroke-width="0.9"/>
<line x1="307.8" y1="201.24" x2="309.6" y2="201.24" stroke="#000" stroke-width="0.9"/>
<line x1="306.2" y1="196.55" x2="309.6" y2="196.55" stroke="#000" stroke-width="1.1"/>
<text x="302.8" y="199.45" font-size="8.4" fill="#1e1e1e" text-anchor="end">20</text>
<line x1="307.8" y1="191.86" x2="309.6" y2="191.86" stroke="#000" stroke-width="0.9"/>
<line x1="307.8" y1="187.18" x2="309.6" y2="187.18" stroke="#000" stroke-width="0.9"/>
<line x1="307.8" y1="182.49" x2="309.6" y2="182.49" stroke="#000" stroke-width="0.9"/>
<line x1="306.2" y1="177.8" x2="309.6" y2="177.8" stroke="#000" stroke-width="1.1"/>
<text x="302.8" y="180.7" font-size="8.4" fill="#1e1e1e" text-anchor="end">40</text>
<line x1="307.8" y1="173.11" x2="309.6" y2="173.11" stroke="#000" stroke-width="0.9"/>
<line x1="307.8" y1="168.43" x2="309.6" y2="168.43" stroke="#000" stroke-width="0.9"/>
<line x1="307.8" y1="163.74" x2="309.6" y2="163.74" stroke="#000" stroke-width="0.9"/>
<line x1="306.2" y1="159.05" x2="309.6" y2="159.05" stroke="#000" stroke-width="1.1"/>
<text x="302.8" y="161.95" font-size="8.4" fill="#1e1e1e" text-anchor="end">60</text>
<line x1="307.8" y1="154.36" x2="309.6" y2="154.36" stroke="#000" stroke-width="0.9"/>
<line x1="307.8" y1="149.68" x2="309.6" y2="149.68" stroke="#000" stroke-width="0.9"/>
<line x1="307.8" y1="144.99" x2="309.6" y2="144.99" stroke="#000" stroke-width="0.9"/>
<line x1="306.2" y1="140.3" x2="309.6" y2="140.3" stroke="#000" stroke-width="1.1"/>
<text x="302.8" y="143.2" font-size="8.4" fill="#1e1e1e" text-anchor="end">80</text>
<line x1="307.8" y1="135.61" x2="309.6" y2="135.61" stroke="#000" stroke-width="0.9"/>
<line x1="313.35" y1="215.3" x2="313.35" y2="217.2" stroke="#000" stroke-width="0.9"/>
<line x1="316.53" y1="215.3" x2="316.53" y2="217.2" stroke="#000" stroke-width="0.9"/>
<line x1="319.12" y1="215.3" x2="319.12" y2="217.2" stroke="#000" stroke-width="0.9"/>
<line x1="321.32" y1="215.3" x2="321.32" y2="217.2" stroke="#000" stroke-width="0.9"/>
<line x1="323.22" y1="215.3" x2="323.22" y2="217.2" stroke="#000" stroke-width="0.9"/>
<line x1="324.9" y1="215.3" x2="324.9" y2="217.2" stroke="#000" stroke-width="0.9"/>
<line x1="326.4" y1="215.3" x2="326.4" y2="218.6" stroke="#000" stroke-width="1.1"/>
<line x1="336.27" y1="215.3" x2="336.27" y2="217.2" stroke="#000" stroke-width="0.9"/>
<line x1="342.05" y1="215.3" x2="342.05" y2="217.2" stroke="#000" stroke-width="0.9"/>
<line x1="346.15" y1="215.3" x2="346.15" y2="217.2" stroke="#000" stroke-width="0.9"/>
<line x1="349.33" y1="215.3" x2="349.33" y2="217.2" stroke="#000" stroke-width="0.9"/>
<line x1="351.92" y1="215.3" x2="351.92" y2="217.2" stroke="#000" stroke-width="0.9"/>
<line x1="354.12" y1="215.3" x2="354.12" y2="217.2" stroke="#000" stroke-width="0.9"/>
<line x1="356.02" y1="215.3" x2="356.02" y2="217.2" stroke="#000" stroke-width="0.9"/>
<line x1="357.7" y1="215.3" x2="357.7" y2="217.2" stroke="#000" stroke-width="0.9"/>
<line x1="359.2" y1="215.3" x2="359.2" y2="218.6" stroke="#000" stroke-width="1.1"/>
<line x1="369.07" y1="215.3" x2="369.07" y2="217.2" stroke="#000" stroke-width="0.9"/>
<line x1="374.85" y1="215.3" x2="374.85" y2="217.2" stroke="#000" stroke-width="0.9"/>
<line x1="378.95" y1="215.3" x2="378.95" y2="217.2" stroke="#000" stroke-width="0.9"/>
<line x1="382.13" y1="215.3" x2="382.13" y2="217.2" stroke="#000" stroke-width="0.9"/>
<line x1="384.72" y1="215.3" x2="384.72" y2="217.2" stroke="#000" stroke-width="0.9"/>
<line x1="386.92" y1="215.3" x2="386.92" y2="217.2" stroke="#000" stroke-width="0.9"/>
<line x1="388.82" y1="215.3" x2="388.82" y2="217.2" stroke="#000" stroke-width="0.9"/>
<line x1="390.5" y1="215.3" x2="390.5" y2="217.2" stroke="#000" stroke-width="0.9"/>
<line x1="391.8" y1="215.3" x2="391.8" y2="218.6" stroke="#000" stroke-width="1.1"/>
<text x="320.8" y="229.8" font-size="8" fill="#1e1e1e">10<tspan dy="-3.6" font-size="5.8">3</tspan></text>
<text x="353.6" y="229.8" font-size="8" fill="#1e1e1e">10<tspan dy="-3.6" font-size="5.8">4</tspan></text>
<text x="386.4" y="229.8" font-size="8" fill="#1e1e1e">10<tspan dy="-3.6" font-size="5.8">5</tspan></text>
<text x="312.6" y="141.9" font-size="8.1" fill="#1e1e1e" textLength="25.4" lengthAdjust="spacingAndGlyphs">13.6-kb</text>
<line x1="347.5" y1="138.4" x2="391.8" y2="138.4" stroke="#000" stroke-width="1.2"/>
<line x1="347.5" y1="136.8" x2="347.5" y2="140" stroke="#000" stroke-width="1.2"/>
<text x="389" y="147.8" font-size="8.1" fill="#1e1e1e" text-anchor="end" textLength="14.59" lengthAdjust="spacingAndGlyphs">63%</text>
<text x="389.2" y="156.8" font-size="8.1" fill="#1e1e1e" text-anchor="end" textLength="21.07" lengthAdjust="spacingAndGlyphs">(5930)</text>
<text x="397" y="152" font-size="8.6" fill="#1e1e1e" textLength="45.8" lengthAdjust="spacingAndGlyphs" transform="rotate(90 397 152)">SCD donor 2</text>
<text x="7.7" y="16.9" font-size="11.2" fill="#000" font-weight="bold">A</text>
<path d="M49.15,234.2 L49.15,201 M48.5,234.2 L81,234.2" stroke="#2a2a2a" stroke-width="1.5" fill="none"/>
<path d="M49.15,196.8 L52.1,203.8 L49.15,202.4 L46.2,203.8 Z" fill="#111"/>
<path d="M86.1,234.2 L79.1,237.1 L80.5,234.2 L79.1,231.3 Z" fill="#111"/>
<text x="43.9" y="227" font-size="9.6" fill="#1e1e1e" textLength="23.8" lengthAdjust="spacingAndGlyphs" transform="rotate(-90 43.9 227)">Counts</text>
<text x="60.9" y="243.5" font-size="9.0" fill="#1e1e1e" textLength="13.2" lengthAdjust="spacingAndGlyphs">HbF</text>
<text x="7.6" y="266.4" font-size="10.5" fill="#000" font-weight="bold">B</text>
<path d="M55,310.48 L55.48,310.4 L55.97,310.31 L56.45,310.22 L56.94,310.12 L57.42,310.01 L57.91,309.87 L58.4,309.74 L58.88,309.5 L59.37,309.02 L59.85,308.1 L60.34,306.53 L60.82,304.18 L61.3,301.08 L61.79,297.62 L62.27,295.6 L62.76,297.29 L63.25,300.73 L63.73,303.9 L64.22,306.33 L64.7,307.97 L65.19,308.94 L65.67,309.46 L66.16,309.73 L66.64,309.9 L67.12,310.01 L67.61,310.09 L68.09,310.16 L68.58,310.23 L69.06,310.28 L69.55,310.34 L70.03,310.39 L70.52,310.44 L71,310.48 L71.49,310.53 L71.97,310.57 L72.46,310.61 L72.94,310.65 L73.43,310.69 L73.92,310.73 L74.4,310.72 L74.89,310.69 L75.37,310.66 L75.86,310.64 L76.34,310.61 L76.83,310.58 L77.31,310.55 L77.8,310.52 L78.28,310.49 L78.77,310.46 L79.25,310.43 L79.73,310.4 L80.22,310.37 L80.7,310.34 L81.19,310.31 L81.67,310.28 L82.16,310.25 L82.64,310.22 L83.13,310.19 L83.62,310.16 L84.1,310.13 L84.59,310.1 L85.07,310.07 L85.56,310.03 L86.04,310 L86.53,309.97 L87.01,309.94 L87.5,309.91 L87.98,309.88 L88.47,309.84 L88.95,309.81 L89.44,309.78 L89.92,309.74 L90.41,309.71 L90.89,309.68 L91.38,309.64 L91.86,309.61 L92.34,309.57 L92.83,309.54 L93.31,309.5 L93.8,309.46 L94.28,309.42 L94.77,309.38 L95.25,309.33 L95.74,309.29 L96.22,309.24 L96.71,309.18 L97.2,309.12 L97.68,309.05 L98.16,308.96 L98.65,308.86 L99.13,308.72 L99.62,308.49 L100.11,308.08 L100.59,307.28 L101.08,305.72 L101.56,302.98 L102.05,298.85 L102.53,293.44 L103.02,287.72 L103.5,285.73 L103.99,290.01 L104.47,295.91 L104.96,300.88 L105.44,304.48 L105.92,306.73 L106.41,307.98 L106.9,308.62 L107.38,308.93 L107.87,309.11 L108.35,309.22 L108.84,309.29 L109.32,309.35 L109.81,309.39 L110.29,309.43 L110.78,309.46 L111.26,309.49 L111.75,309.52 L112.23,309.54 L112.72,309.56 L113.2,309.58 L113.69,309.6 L114.17,309.61 L114.66,309.63 L115.14,309.64 L115.62,309.65 L116.11,309.66 L116.59,309.68 L117.08,309.69 L117.56,309.7 L118.05,309.71 L118.53,309.72 L119.02,309.73 L119.51,309.74 L119.99,309.74 L120.47,309.74 L120.96,309.74 L121.45,309.74 L121.93,309.73 L122.42,309.73 L122.9,309.72 L123.39,309.71 L123.87,309.69 L124.36,309.65 L124.84,309.55 L125.33,309.32 L125.81,308.85 L126.3,308.07 L126.78,307 L127.27,306.05 L127.75,306.39 L128.24,307.5 L128.72,308.46 L129.2,309.1 L129.69,309.45 L130.18,309.61 L130.66,309.68 L131.14,309.71 L131.63,309.73 L132.12,309.74 L132.6,309.75 L133.09,309.75 L133.57,309.76 L134.06,309.76 L134.54,309.77 L135.03,309.77 L135.51,309.77 L136,309.77 L136.48,309.76 L136.97,309.76 L137.45,309.76 L137.94,309.76 L138.42,309.75 L138.91,309.75 L139.39,309.75 L139.88,309.74 L140.36,309.74 L140.84,309.74 L141.33,309.73 L141.81,309.73 L142.3,309.73 L142.79,309.72 L143.27,309.72 L143.75,309.72 L144.24,309.71 L144.72,309.71 L145.21,309.7 L145.69,309.7 L146.18,309.7 L146.67,309.69 L147.15,309.69 L147.63,309.69 L148.12,309.68 L148.61,309.68 L149.09,309.67 L149.57,309.67 L150.06,309.67 L150.55,309.66 L151.03,309.66 L151.52,309.65 L152,309.65 L152.49,309.64 L152.97,309.64 L153.45,309.63 L153.94,309.63 L154.43,309.62 L154.91,309.62 L155.4,309.61 L155.88,309.61 L156.37,309.6 L156.85,309.6 L157.34,309.59 L157.82,309.58 L158.31,309.57 L158.79,309.56 L159.28,309.55 L159.76,309.54 L160.25,309.52 L160.73,309.49 L161.22,309.44 L161.7,309.35 L162.19,309.16 L162.67,308.78 L163.16,308.13 L163.64,307.16 L164.12,305.96 L164.61,305.04 L165.1,305.51 L165.58,306.7 L166.06,307.76 L166.55,308.51 L167.04,308.97 L167.52,309.2 L168,309.3 L168.49,309.34 L168.97,309.36 L169.46,309.37 L169.94,309.37 L170.43,309.37 L170.92,309.37 L171.4,309.36" fill="none" stroke="#401a57" stroke-width="1.7" stroke-linejoin="round" stroke-linecap="round"/>
<path d="M55,345.75 L55.48,345.69 L55.97,345.62 L56.45,345.54 L56.94,345.45 L57.42,345.32 L57.91,345.12 L58.4,344.75 L58.88,344.07 L59.37,342.85 L59.85,340.9 L60.34,338.21 L60.82,334.88 L61.3,331.72 L61.79,331.31 L62.27,334.19 L62.76,337.65 L63.25,340.54 L63.73,342.64 L64.22,343.98 L64.7,344.75 L65.19,345.16 L65.67,345.37 L66.16,345.48 L66.64,345.53 L67.12,345.56 L67.61,345.58 L68.09,345.59 L68.58,345.6 L69.06,345.6 L69.55,345.6 L70.03,345.6 L70.52,345.6 L71,345.59 L71.49,345.59 L71.97,345.58 L72.46,345.57 L72.94,345.56 L73.43,345.56 L73.92,345.55 L74.4,345.54 L74.89,345.53 L75.37,345.52 L75.86,345.51 L76.34,345.5 L76.83,345.49 L77.31,345.48 L77.8,345.46 L78.28,345.45 L78.77,345.44 L79.25,345.43 L79.73,345.42 L80.22,345.41 L80.7,345.39 L81.19,345.38 L81.67,345.37 L82.16,345.36 L82.64,345.34 L83.13,345.33 L83.62,345.32 L84.1,345.3 L84.59,345.29 L85.07,345.28 L85.56,345.26 L86.04,345.25 L86.53,345.24 L87.01,345.22 L87.5,345.21 L87.98,345.19 L88.47,345.18 L88.95,345.16 L89.44,345.15 L89.92,345.13 L90.41,345.1 L90.89,345.07 L91.38,345.03 L91.86,345 L92.34,344.96 L92.83,344.92 L93.31,344.88 L93.8,344.84 L94.28,344.8 L94.77,344.75 L95.25,344.7 L95.74,344.64 L96.22,344.58 L96.71,344.52 L97.2,344.44 L97.68,344.35 L98.16,344.22 L98.65,344.05 L99.13,343.74 L99.62,343.14 L100.11,341.97 L100.59,339.85 L101.08,336.38 L101.56,331.46 L102.05,325.44 L102.53,320.47 L103.02,321.59 L103.5,327.41 L103.99,333.27 L104.47,337.84 L104.96,340.95 L105.44,342.8 L105.92,343.78 L106.41,344.27 L106.9,344.54 L107.38,344.7 L107.87,344.82 L108.35,344.89 L108.84,344.94 L109.32,344.97 L109.81,345 L110.29,345.03 L110.78,345.05 L111.26,345.07 L111.75,345.09 L112.23,345.1 L112.72,345.11 L113.2,345.12 L113.69,345.13 L114.17,345.14 L114.66,345.15 L115.14,345.16 L115.62,345.16 L116.11,345.17 L116.59,345.17 L117.08,345.18 L117.56,345.18 L118.05,345.18 L118.53,345.19 L119.02,345.19 L119.51,345.19 L119.99,345.19 L120.47,345.19 L120.96,345.19 L121.45,345.19 L121.93,345.18 L122.42,345.17 L122.9,345.16 L123.39,345.13 L123.87,345.07 L124.36,344.93 L124.84,344.59 L125.33,343.94 L125.81,342.9 L126.3,341.57 L126.78,340.67 L127.27,341.46 L127.75,342.81 L128.24,343.89 L128.72,344.58 L129.2,344.94 L129.69,345.1 L130.18,345.17 L130.66,345.2 L131.14,345.21 L131.63,345.22 L132.12,345.23 L132.6,345.23 L133.09,345.23 L133.57,345.23 L134.06,345.24 L134.54,345.24 L135.03,345.23 L135.51,345.23 L136,345.23 L136.48,345.23 L136.97,345.23 L137.45,345.23 L137.94,345.23 L138.42,345.22 L138.91,345.22 L139.39,345.22 L139.88,345.22 L140.36,345.21 L140.84,345.21 L141.33,345.21 L141.81,345.2 L142.3,345.2 L142.79,345.2 L143.27,345.2 L143.75,345.19 L144.24,345.19 L144.72,345.19 L145.21,345.18 L145.69,345.18 L146.18,345.18 L146.67,345.17 L147.15,345.17 L147.63,345.17 L148.12,345.16 L148.61,345.16 L149.09,345.16 L149.57,345.15 L150.06,345.15 L150.55,345.15 L151.03,345.14 L151.52,345.14 L152,345.14 L152.49,345.13 L152.97,345.13 L153.45,345.12 L153.94,345.12 L154.43,345.11 L154.91,345.11 L155.4,345.11 L155.88,345.1 L156.37,345.09 L156.85,345.09 L157.34,345.08 L157.82,345.07 L158.31,345.06 L158.79,345.05 L159.28,345.04 L159.76,345.03 L160.25,345 L160.73,344.95 L161.22,344.88 L161.7,344.76 L162.19,344.5 L162.67,344.03 L163.16,343.23 L163.64,342.1 L164.12,340.76 L164.61,339.99 L165.1,340.77 L165.58,342.07 L166.06,343.15 L166.55,343.88 L167.04,344.31 L167.52,344.51 L168,344.59 L168.49,344.61 L168.97,344.62 L169.46,344.61 L169.94,344.6 L170.43,344.59 L170.92,344.58 L171.4,344.56" fill="none" stroke="#c4c4c6" stroke-width="1.7" stroke-linejoin="round" stroke-linecap="round"/>
<path d="M55,382.24 L55.48,382.2 L55.97,382.16 L56.45,382.12 L56.94,382.07 L57.42,382.02 L57.91,381.95 L58.4,381.85 L58.88,381.69 L59.37,381.39 L59.85,380.89 L60.34,380.14 L60.82,379.08 L61.3,377.76 L61.79,376.4 L62.27,375.89 L62.76,376.83 L63.25,378.26 L63.73,379.54 L64.22,380.53 L64.7,381.21 L65.19,381.63 L65.67,381.86 L66.16,381.98 L66.64,382.05 L67.12,382.09 L67.61,382.12 L68.09,382.14 L68.58,382.16 L69.06,382.17 L69.55,382.19 L70.03,382.2 L70.52,382.21 L71,382.22 L71.49,382.23 L71.97,382.24 L72.46,382.25 L72.94,382.26 L73.43,382.27 L73.92,382.28 L74.4,382.29 L74.89,382.3 L75.37,382.3 L75.86,382.31 L76.34,382.32 L76.83,382.33 L77.31,382.33 L77.8,382.34 L78.28,382.35 L78.77,382.35 L79.25,382.36 L79.73,382.37 L80.22,382.36 L80.7,382.32 L81.19,382.29 L81.67,382.26 L82.16,382.22 L82.64,382.19 L83.13,382.16 L83.62,382.13 L84.1,382.09 L84.59,382.06 L85.07,382.02 L85.56,381.99 L86.04,381.96 L86.53,381.92 L87.01,381.89 L87.5,381.85 L87.98,381.82 L88.47,381.78 L88.95,381.75 L89.44,381.71 L89.92,381.68 L90.41,381.64 L90.89,381.6 L91.38,381.57 L91.86,381.53 L92.34,381.49 L92.83,381.45 L93.31,381.41 L93.8,381.37 L94.28,381.32 L94.77,381.27 L95.25,381.22 L95.74,381.16 L96.22,381.1 L96.71,381.03 L97.2,380.96 L97.68,380.88 L98.16,380.78 L98.65,380.66 L99.13,380.5 L99.62,380.26 L100.11,379.81 L100.59,378.93 L101.08,377.24 L101.56,374.32 L102.05,369.91 L102.53,364.15 L103.02,358.06 L103.5,355.92 L103.99,360.42 L104.47,366.63 L104.96,371.87 L105.44,375.64 L105.92,378 L106.41,379.29 L106.9,379.93 L107.38,380.23 L107.87,380.39 L108.35,380.48 L108.84,380.54 L109.32,380.58 L109.81,380.62 L110.29,380.64 L110.78,380.66 L111.26,380.67 L111.75,380.68 L112.23,380.69 L112.72,380.69 L113.2,380.69 L113.69,380.69 L114.17,380.69 L114.66,380.69 L115.14,380.68 L115.62,380.68 L116.11,380.68 L116.59,380.67 L117.08,380.66 L117.56,380.66 L118.05,380.65 L118.53,380.64 L119.02,380.63 L119.51,380.62 L119.99,380.61 L120.47,380.6 L120.96,380.58 L121.45,380.56 L121.93,380.54 L122.42,380.52 L122.9,380.48 L123.39,380.42 L123.87,380.29 L124.36,379.98 L124.84,379.35 L125.33,378.22 L125.81,376.58 L126.3,374.74 L126.78,374.41 L127.27,376.12 L127.75,377.89 L128.24,379.17 L128.72,379.93 L129.2,380.3 L129.69,380.47 L130.18,380.55 L130.66,380.59 L131.14,380.62 L131.63,380.65 L132.12,380.67 L132.6,380.69 L133.09,380.7 L133.57,380.72 L134.06,380.73 L134.54,380.75 L135.03,380.76 L135.51,380.76 L136,380.75 L136.48,380.74 L136.97,380.74 L137.45,380.73 L137.94,380.73 L138.42,380.72 L138.91,380.71 L139.39,380.71 L139.88,380.7 L140.36,380.69 L140.84,380.69 L141.33,380.68 L141.81,380.67 L142.3,380.66 L142.79,380.66 L143.27,380.65 L143.75,380.64 L144.24,380.63 L144.72,380.63 L145.21,380.62 L145.69,380.61 L146.18,380.6 L146.67,380.6 L147.15,380.59 L147.63,380.58 L148.12,380.57 L148.61,380.56 L149.09,380.56 L149.57,380.55 L150.06,380.54 L150.55,380.53 L151.03,380.52 L151.52,380.51 L152,380.5 L152.49,380.5 L152.97,380.49 L153.45,380.48 L153.94,380.47 L154.43,380.46 L154.91,380.45 L155.4,380.44 L155.88,380.43 L156.37,380.42 L156.85,380.4 L157.34,380.39 L157.82,380.38 L158.31,380.36 L158.79,380.34 L159.28,380.32 L159.76,380.3 L160.25,380.26 L160.73,380.19 L161.22,380.1 L161.7,379.95 L162.19,379.65 L162.67,379.08 L163.16,378.06 L163.64,376.51 L164.12,374.51 L164.61,372.69 L165.1,372.94 L165.58,374.86 L166.06,376.72 L166.55,378.08 L167.04,378.92 L167.52,379.35 L168,379.54 L168.49,379.61 L168.97,379.62 L169.46,379.62 L169.94,379.6 L170.43,379.58 L170.92,379.56 L171.4,379.54" fill="none" stroke="#24345f" stroke-width="1.7" stroke-linejoin="round" stroke-linecap="round"/>
<path d="M45,394.1 L45,294 M45,394.1 L161,394.1" stroke="#000" stroke-width="1.3" fill="none"/>
<path d="M45,288.2 L48.7,297.6 L45,295.6 L41.3,297.6 Z" fill="#000"/>
<path d="M166.8,394.1 L157.3,397.6 L159.2,394.1 L157.3,390.6 Z" fill="#000"/>
<text x="39.4" y="362.2" font-size="8.8" fill="#1e1e1e" textLength="40.5" lengthAdjust="spacingAndGlyphs" transform="rotate(-90 39.4 362.2)" stroke="#231f20" stroke-width="0.25">Absorbance</text>
<text x="79.5" y="406.4" font-size="8.8" fill="#1e1e1e" textLength="52.5" lengthAdjust="spacingAndGlyphs" stroke="#231f20" stroke-width="0.25">Retention time</text>
<text x="56" y="273.4" font-size="9.4" fill="#2a2a2a" font-family="Liberation Serif">β</text>
<text x="60.6" y="273.4" font-size="8.8" fill="#2a2a2a">s</text>
<text x="99.4" y="273.9" font-size="9.8" fill="#2a2a2a" font-family="Liberation Serif">α</text>
<text x="122.3" y="273.6" font-size="9.0" fill="#2a2a2a">G</text>
<text x="129" y="273.6" font-size="9.2" fill="#2a2a2a" font-family="Liberation Serif">γ</text>
<text x="159.9" y="273.6" font-size="9.0" fill="#2a2a2a">A</text>
<text x="166" y="273.6" font-size="9.2" fill="#2a2a2a" font-family="Liberation Serif">γ</text>
<text x="176.9" y="310.2" font-size="7.9" fill="#1e1e1e">ctr-1</text>
<text x="176.6" y="319.1" font-size="7.9" fill="#1e1e1e">(1.17)</text>
<text x="176.9" y="346.2" font-size="7.9" fill="#1e1e1e">ctr-2</text>
<text x="176.6" y="355.1" font-size="7.9" fill="#1e1e1e">(1.22)</text>
<text x="176.9" y="382.4" font-size="7.9" fill="#1e1e1e">13.6-kb</text>
<text x="176.6" y="391.3" font-size="7.9" fill="#1e1e1e">(1.22)</text>
<text x="219.2" y="266.6" font-size="10.5" fill="#000" font-weight="bold">C</text>
<line x1="259.4" y1="387.1" x2="262.6" y2="387.1" stroke="#000" stroke-width="1.2"/>
<text x="256.8" y="390.1" font-size="8.6" fill="#1e1e1e" text-anchor="end" textLength="11.8" lengthAdjust="spacingAndGlyphs">0.0</text>
<line x1="259.4" y1="359.2" x2="262.6" y2="359.2" stroke="#000" stroke-width="1.2"/>
<text x="256.8" y="362.2" font-size="8.6" fill="#1e1e1e" text-anchor="end" textLength="11.8" lengthAdjust="spacingAndGlyphs">0.2</text>
<line x1="259.4" y1="331.3" x2="262.6" y2="331.3" stroke="#000" stroke-width="1.2"/>
<text x="256.8" y="334.3" font-size="8.6" fill="#1e1e1e" text-anchor="end" textLength="11.8" lengthAdjust="spacingAndGlyphs">0.4</text>
<line x1="259.4" y1="303.4" x2="262.6" y2="303.4" stroke="#000" stroke-width="1.2"/>
<text x="256.8" y="306.4" font-size="8.6" fill="#1e1e1e" text-anchor="end" textLength="11.8" lengthAdjust="spacingAndGlyphs">0.6</text>
<line x1="259.4" y1="275.5" x2="262.6" y2="275.5" stroke="#000" stroke-width="1.2"/>
<text x="256.8" y="278.5" font-size="8.6" fill="#1e1e1e" text-anchor="end" textLength="11.8" lengthAdjust="spacingAndGlyphs">0.8</text>
<rect x="268.1" y="299.49" width="6.8" height="87.61" fill="#2d4b7c"/>
<rect x="278.1" y="356.13" width="7" height="30.97" fill="#a8002a"/>
<line x1="276.7" y1="387.1" x2="276.7" y2="389.9" stroke="#000" stroke-width="1.2"/>
<rect x="295.7" y="302.7" width="6.8" height="84.4" fill="#2d4b7c"/>
<rect x="305.7" y="356.69" width="7" height="30.41" fill="#a8002a"/>
<line x1="304.3" y1="387.1" x2="304.3" y2="389.9" stroke="#000" stroke-width="1.2"/>
<rect x="323.1" y="344.55" width="6.8" height="42.55" fill="#2d4b7c"/>
<rect x="333.1" y="315.68" width="7" height="71.42" fill="#a8002a"/>
<line x1="331.7" y1="387.1" x2="331.7" y2="389.9" stroke="#000" stroke-width="1.2"/>
<path d="M262.6,274.6 L262.6,387.1 L345.4,387.1" stroke="#000" stroke-width="1.4" fill="none"/>
<rect x="267.9" y="275.9" width="7.6" height="3.8" fill="#a8002a"/>
<rect x="267.9" y="285.5" width="7.6" height="3.8" fill="#2d4b7c"/>
<text x="278.6" y="280.7" font-size="8" fill="#1e1e1e" textLength="28.4" lengthAdjust="spacingAndGlyphs">γ-globin</text>
<text x="278.6" y="289.9" font-size="8" fill="#1e1e1e" textLength="32.2" lengthAdjust="spacingAndGlyphs">βs-globin</text>
<text x="240.4" y="372" font-size="8.3" fill="#1e1e1e" textLength="84.8" lengthAdjust="spacingAndGlyphs" transform="rotate(-90 240.4 372)">β-like globins / α-globin</text>
<text x="279.6" y="396.6" font-size="8.7" fill="#1e1e1e" text-anchor="end" transform="rotate(-45 279.6 396.6)">ctr-1</text>
<text x="307.3" y="396.6" font-size="8.7" fill="#1e1e1e" text-anchor="end" transform="rotate(-45 307.3 396.6)">ctr-2</text>
<text x="338.6" y="397" font-size="8.7" fill="#1e1e1e" text-anchor="end" transform="rotate(-45 338.6 397)">13.6-kb</text>
<text x="362.8" y="266.4" font-size="10.5" fill="#000" font-weight="bold">D</text>
<line x1="413.4" y1="388.2" x2="416.7" y2="388.2" stroke="#000" stroke-width="1.2"/>
<text x="410.6" y="391.2" font-size="8.8" fill="#1e1e1e" text-anchor="end" textLength="4.6" lengthAdjust="spacingAndGlyphs">0</text>
<line x1="413.4" y1="360.5" x2="416.7" y2="360.5" stroke="#000" stroke-width="1.2"/>
<text x="410.6" y="363.5" font-size="8.8" fill="#1e1e1e" text-anchor="end" textLength="9.2" lengthAdjust="spacingAndGlyphs">25</text>
<line x1="413.4" y1="332.8" x2="416.7" y2="332.8" stroke="#000" stroke-width="1.2"/>
<text x="410.6" y="335.8" font-size="8.8" fill="#1e1e1e" text-anchor="end" textLength="9.2" lengthAdjust="spacingAndGlyphs">50</text>
<line x1="413.4" y1="305.1" x2="416.7" y2="305.1" stroke="#000" stroke-width="1.2"/>
<text x="410.6" y="308.1" font-size="8.8" fill="#1e1e1e" text-anchor="end" textLength="9.2" lengthAdjust="spacingAndGlyphs">75</text>
<line x1="413.4" y1="277.4" x2="416.7" y2="277.4" stroke="#000" stroke-width="1.2"/>
<text x="410.6" y="280.4" font-size="8.8" fill="#1e1e1e" text-anchor="end" textLength="13.4" lengthAdjust="spacingAndGlyphs">100</text>
<rect x="421.25" y="277.4" width="18.1" height="28.81" fill="#a8002a"/>
<rect x="421.25" y="306.21" width="18.1" height="81.99" fill="#2d4b7c"/>
<line x1="430.3" y1="388.2" x2="430.3" y2="391" stroke="#000" stroke-width="1.2"/>
<rect x="448.55" y="277.4" width="18.1" height="29.92" fill="#a8002a"/>
<rect x="448.55" y="307.32" width="18.1" height="80.88" fill="#2d4b7c"/>
<line x1="457.6" y1="388.2" x2="457.6" y2="391" stroke="#000" stroke-width="1.2"/>
<rect x="475.95" y="277.4" width="18.1" height="69.8" fill="#a8002a"/>
<rect x="475.95" y="347.2" width="18.1" height="41" fill="#2d4b7c"/>
<line x1="485" y1="388.2" x2="485" y2="391" stroke="#000" stroke-width="1.2"/>
<path d="M416.7,274.6 L416.7,388.2 L497.4,388.2" stroke="#000" stroke-width="1.3" fill="none"/>
<rect x="409.6" y="261.7" width="7.7" height="3.9" fill="#a8002a"/>
<text x="419" y="266.7" font-size="8" fill="#1e1e1e" textLength="29" lengthAdjust="spacingAndGlyphs">γ-globin</text>
<rect x="452.3" y="261.7" width="7.7" height="3.9" fill="#2d4b7c"/>
<text x="462" y="266.7" font-size="8" fill="#1e1e1e" textLength="33.2" lengthAdjust="spacingAndGlyphs">βs-globin</text>
<text x="391.2" y="397.6" font-size="9.2" fill="#1e1e1e" textLength="129.4" lengthAdjust="spacingAndGlyphs" transform="rotate(-90 391.2 397.6)">Abundance (% of total β-like globins)</text>
<text x="433.5" y="398.5" font-size="8.7" fill="#1e1e1e" text-anchor="end" transform="rotate(-45 433.5 398.5)">ctr-1</text>
<text x="461.7" y="398.5" font-size="8.7" fill="#1e1e1e" text-anchor="end" transform="rotate(-45 461.7 398.5)">ctr-2</text>
<text x="493.5" y="398" font-size="8.7" fill="#1e1e1e" text-anchor="end" transform="rotate(-45 493.5 398)">13.6-kb</text>
<text x="7.8" y="442" font-size="10.5" fill="#000" font-weight="bold">E</text>
<line x1="46" y1="569.1" x2="49.2" y2="569.1" stroke="#000" stroke-width="1.2"/>
<text x="44.5" y="570.4" font-size="8.9" fill="#1e1e1e" text-anchor="end">0</text>
<line x1="46" y1="540.92" x2="49.2" y2="540.92" stroke="#000" stroke-width="1.2"/>
<text x="44.5" y="544.02" font-size="8.9" fill="#1e1e1e" text-anchor="end">20</text>
<line x1="46" y1="512.74" x2="49.2" y2="512.74" stroke="#000" stroke-width="1.2"/>
<text x="44.5" y="515.84" font-size="8.9" fill="#1e1e1e" text-anchor="end">40</text>
<line x1="46" y1="484.56" x2="49.2" y2="484.56" stroke="#000" stroke-width="1.2"/>
<text x="44.5" y="487.66" font-size="8.9" fill="#1e1e1e" text-anchor="end">60</text>
<line x1="46" y1="456.38" x2="49.2" y2="456.38" stroke="#000" stroke-width="1.2"/>
<text x="44.5" y="459.48" font-size="8.9" fill="#1e1e1e" text-anchor="end">80</text>
<line x1="60.8" y1="556.42" x2="60.8" y2="558.96" stroke="#222" stroke-width="1.1"/>
<line x1="58.3" y1="556.42" x2="63.3" y2="556.42" stroke="#222" stroke-width="1.2"/>
<rect x="56.15" y="558.96" width="9.3" height="10.14" fill="#56216a"/>
<line x1="75.1" y1="557.55" x2="75.1" y2="559.94" stroke="#222" stroke-width="1.1"/>
<line x1="72.6" y1="557.55" x2="77.6" y2="557.55" stroke="#222" stroke-width="1.2"/>
<rect x="70.45" y="559.94" width="9.3" height="9.16" fill="#c4c4c8"/>
<line x1="89.4" y1="557.55" x2="89.4" y2="559.94" stroke="#222" stroke-width="1.1"/>
<line x1="86.9" y1="557.55" x2="91.9" y2="557.55" stroke="#222" stroke-width="1.2"/>
<rect x="84.75" y="559.94" width="9.3" height="9.16" fill="#30487c"/>
<line x1="112.75" y1="466.67" x2="112.75" y2="468.78" stroke="#222" stroke-width="1.1"/>
<line x1="110.25" y1="466.67" x2="115.25" y2="466.67" stroke="#222" stroke-width="1.2"/>
<rect x="108.1" y="468.78" width="9.3" height="100.32" fill="#56216a"/>
<line x1="126.65" y1="462.16" x2="126.65" y2="464.9" stroke="#222" stroke-width="1.1"/>
<line x1="124.15" y1="462.16" x2="129.15" y2="462.16" stroke="#222" stroke-width="1.2"/>
<rect x="122" y="464.9" width="9.3" height="104.2" fill="#c4c4c8"/>
<line x1="141.1" y1="513.02" x2="141.1" y2="516.26" stroke="#222" stroke-width="1.1"/>
<line x1="138.6" y1="513.02" x2="143.6" y2="513.02" stroke="#222" stroke-width="1.2"/>
<rect x="136.45" y="516.26" width="9.3" height="52.84" fill="#30487c"/>
<line x1="166.9" y1="562.48" x2="166.9" y2="564.45" stroke="#222" stroke-width="1.1"/>
<line x1="164.4" y1="562.48" x2="169.4" y2="562.48" stroke="#222" stroke-width="1.2"/>
<rect x="162.25" y="564.45" width="9.3" height="4.65" fill="#56216a"/>
<line x1="181.4" y1="565.01" x2="181.4" y2="566.28" stroke="#222" stroke-width="1.1"/>
<line x1="178.9" y1="565.01" x2="183.9" y2="565.01" stroke="#222" stroke-width="1.2"/>
<rect x="176.75" y="566.28" width="9.3" height="2.82" fill="#c4c4c8"/>
<line x1="195.1" y1="565.01" x2="195.1" y2="565.72" stroke="#222" stroke-width="1.1"/>
<line x1="192.6" y1="565.01" x2="197.6" y2="565.01" stroke="#222" stroke-width="1.2"/>
<rect x="190.45" y="565.72" width="9.3" height="3.38" fill="#30487c"/>
<line x1="218.6" y1="476.25" x2="218.6" y2="483.71" stroke="#222" stroke-width="1.1"/>
<line x1="216.1" y1="476.25" x2="221.1" y2="476.25" stroke="#222" stroke-width="1.2"/>
<rect x="213.95" y="483.71" width="9.3" height="85.39" fill="#56216a"/>
<line x1="232.5" y1="474.27" x2="232.5" y2="478.22" stroke="#222" stroke-width="1.1"/>
<line x1="230" y1="474.27" x2="235" y2="474.27" stroke="#222" stroke-width="1.2"/>
<rect x="227.85" y="478.22" width="9.3" height="90.88" fill="#c4c4c8"/>
<line x1="246.9" y1="533.03" x2="246.9" y2="536.27" stroke="#222" stroke-width="1.1"/>
<line x1="244.4" y1="533.03" x2="249.4" y2="533.03" stroke="#222" stroke-width="1.2"/>
<rect x="242.25" y="536.27" width="9.3" height="32.83" fill="#30487c"/>
<path d="M49.2,453.2 L49.2,569.1 L258.8,569.1" stroke="#000" stroke-width="1.4" fill="none"/>
<line x1="75" y1="569.1" x2="75" y2="571.9" stroke="#000" stroke-width="1.2"/>
<line x1="127" y1="569.1" x2="127" y2="571.9" stroke="#000" stroke-width="1.2"/>
<line x1="181.1" y1="569.1" x2="181.1" y2="571.9" stroke="#000" stroke-width="1.2"/>
<line x1="232.7" y1="569.1" x2="232.7" y2="571.9" stroke="#000" stroke-width="1.2"/>
<text x="141.3" y="508.4" font-size="9.4" fill="#1e1e1e" text-anchor="middle" textLength="12.6" lengthAdjust="spacingAndGlyphs">****</text>
<text x="247.4" y="531.2" font-size="9.4" fill="#1e1e1e" text-anchor="middle" textLength="12.6" lengthAdjust="spacingAndGlyphs">****</text>
<text x="75.3" y="582.8" font-size="9.0" fill="#1e1e1e" text-anchor="middle" textLength="16.21" lengthAdjust="spacingAndGlyphs">20%</text>
<text x="75.3" y="591.8" font-size="9.0" fill="#1e1e1e" text-anchor="middle" textLength="26.6" lengthAdjust="spacingAndGlyphs">oxygen</text>
<text x="127.3" y="582.8" font-size="9.0" fill="#1e1e1e" text-anchor="middle" textLength="11.71" lengthAdjust="spacingAndGlyphs">0%</text>
<text x="127.3" y="591.8" font-size="9.0" fill="#1e1e1e" text-anchor="middle" textLength="26.6" lengthAdjust="spacingAndGlyphs">oxygen</text>
<text x="181.4" y="582.8" font-size="9.0" fill="#1e1e1e" text-anchor="middle" textLength="16.21" lengthAdjust="spacingAndGlyphs">20%</text>
<text x="181.4" y="591.8" font-size="9.0" fill="#1e1e1e" text-anchor="middle" textLength="26.6" lengthAdjust="spacingAndGlyphs">oxygen</text>
<text x="233" y="582.8" font-size="9.0" fill="#1e1e1e" text-anchor="middle" textLength="11.71" lengthAdjust="spacingAndGlyphs">0%</text>
<text x="233" y="591.8" font-size="9.0" fill="#1e1e1e" text-anchor="middle" textLength="26.6" lengthAdjust="spacingAndGlyphs">oxygen</text>
<line x1="55" y1="596.6" x2="146.3" y2="596.6" stroke="#000" stroke-width="1.2"/>
<line x1="161.2" y1="596.6" x2="251.3" y2="596.6" stroke="#000" stroke-width="1.2"/>
<text x="100.2" y="607.4" font-size="9.0" fill="#1e1e1e" text-anchor="middle" textLength="47.8" lengthAdjust="spacingAndGlyphs">SCD donor 1</text>
<text x="207" y="607.4" font-size="9.0" fill="#1e1e1e" text-anchor="middle" textLength="48.8" lengthAdjust="spacingAndGlyphs">SCD donor 2</text>
<text x="29.6" y="537.8" font-size="9.4" fill="#1e1e1e" textLength="56.6" lengthAdjust="spacingAndGlyphs" transform="rotate(-90 29.6 537.8)">Sickled cells (%)</text>
<rect x="54.3" y="443.1" width="7.5" height="3.6" fill="#56216a"/>
<rect x="54.3" y="453" width="7.5" height="3.6" fill="#c4c4c8"/>
<rect x="54.3" y="462.2" width="7.5" height="3.6" fill="#30487c"/>
<text x="65" y="447.3" font-size="8.2" fill="#1e1e1e" textLength="15.58" lengthAdjust="spacingAndGlyphs">ctr-1</text>
<text x="65" y="457" font-size="8.2" fill="#1e1e1e" textLength="15.58" lengthAdjust="spacingAndGlyphs">ctr-2</text>
<text x="65" y="466.6" font-size="8.2" fill="#1e1e1e" textLength="25.98" lengthAdjust="spacingAndGlyphs">13.6-kb</text>
<text x="322.95" y="456.2" font-size="8" fill="#1e1e1e" text-anchor="middle">ctr-1</text>
<text x="399.65" y="456.2" font-size="8" fill="#1e1e1e" text-anchor="middle">ctr-2</text>
<text x="476.35" y="456.2" font-size="8" fill="#1e1e1e" text-anchor="middle">13.6-kb</text>
<text x="281.3" y="515" font-size="8.0" fill="#1e1e1e" textLength="46.3" lengthAdjust="spacingAndGlyphs" transform="rotate(-90 281.3 515)">20% oxygen</text>
<text x="281.3" y="579.2" font-size="8.0" fill="#1e1e1e" textLength="40.8" lengthAdjust="spacingAndGlyphs" transform="rotate(-90 281.3 579.2)">0% oxygen</text>
<defs><radialGradient id="blob" cx="0.5" cy="0.5" r="0.5"><stop offset="0" stop-color="#a6a6a6"/><stop offset="1" stop-color="#7e7e7e" stop-opacity="0"/></radialGradient><radialGradient id="oof" cx="0.5" cy="0.5" r="0.5"><stop offset="0" stop-color="#8c8c8c"/><stop offset="0.55" stop-color="#7a7a7a"/><stop offset="0.8" stop-color="#5e5e5e"/><stop offset="1" stop-color="#7e7e7e" stop-opacity="0"/></radialGradient><radialGradient id="dk" cx="0.5" cy="0.5" r="0.5"><stop offset="0" stop-color="#707070"/><stop offset="1" stop-color="#7e7e7e" stop-opacity="0"/></radialGradient></defs>
<clipPath id="clip00"><rect x="286.85" y="461.8" width="72.2" height="61.7"/></clipPath>
<g clip-path="url(#clip00)">
<rect x="286.85" y="461.8" width="72.2" height="61.7" fill="#797979"/>
<ellipse cx="291" cy="499" rx="6" ry="9" fill="url(#blob)"/>
<path d="M327.35,467.39 Q326.96,467.86 326.59,468.15 Q326.23,468.44 326.05,469.12 Q325.87,469.79 325.11,470 Q324.36,470.21 323.63,469.79 Q322.89,469.38 322.38,468.84 Q321.87,468.31 321.87,467.69 Q321.87,467.07 321.9,466.55 Q321.92,466.03 322.11,465.49 Q322.29,464.96 322.93,464.86 Q323.57,464.75 324.19,464.54 Q324.8,464.33 325.65,464.34 Q326.5,464.35 327.01,464.98 Q327.52,465.61 327.63,466.27 Q327.75,466.92 327.35,467.39 Z" fill="none" stroke="#454545" stroke-width="0.8"/>
<path d="M326.6,466.86 Q326.26,467.25 325.95,467.49 Q325.63,467.73 325.48,468.31 Q325.33,468.89 324.68,469.05 Q324.02,469.22 323.38,468.86 Q322.73,468.5 322.28,468.04 Q321.83,467.58 321.83,467.06 Q321.82,466.53 321.84,466.09 Q321.86,465.65 322.01,465.2 Q322.17,464.75 322.73,464.66 Q323.29,464.58 323.82,464.41 Q324.35,464.24 325.09,464.25 Q325.83,464.27 326.28,464.81 Q326.73,465.34 326.84,465.9 Q326.94,466.47 326.6,466.86 Z" fill="#8e8e8e" stroke="#d8d8d8" stroke-width="0.9"/>
<path d="M325.33,467.39 Q325.11,467.53 324.85,467.5 Q324.59,467.47 324.38,467.32 Q324.17,467.17 324.02,467.01 Q323.87,466.85 323.61,466.7 Q323.35,466.56 323.24,466.25 Q323.13,465.95 323.26,465.71 Q323.4,465.48 323.57,465.32 Q323.74,465.16 323.98,465.17 Q324.22,465.18 324.43,465.26 Q324.65,465.34 324.87,465.46 Q325.08,465.59 325.17,465.84 Q325.26,466.09 325.36,466.34 Q325.47,466.59 325.51,466.92 Q325.56,467.25 325.33,467.39 Z" fill="#d0d0d0" stroke="#5a5a5a" stroke-width="0.5"/>
<path d="M331.14,471.28 Q331.26,471.85 331.11,472.41 Q330.96,472.96 330.55,473.34 Q330.14,473.72 329.66,473.93 Q329.17,474.14 328.63,474.22 Q328.09,474.3 327.58,474.07 Q327.07,473.83 326.72,473.39 Q326.37,472.95 326.22,472.4 Q326.07,471.85 326.23,471.3 Q326.38,470.76 326.74,470.32 Q327.09,469.89 327.6,469.67 Q328.1,469.46 328.64,469.52 Q329.17,469.57 329.68,469.74 Q330.2,469.91 330.61,470.31 Q331.02,470.71 331.14,471.28 Z" fill="none" stroke="#505050" stroke-width="0.8"/>
<path d="M330.19,470.94 Q330.29,471.4 330.17,471.84 Q330.04,472.29 329.72,472.59 Q329.39,472.9 329.01,473.06 Q328.62,473.23 328.19,473.3 Q327.75,473.36 327.34,473.17 Q326.94,472.98 326.66,472.63 Q326.38,472.28 326.26,471.84 Q326.14,471.4 326.26,470.96 Q326.39,470.53 326.67,470.18 Q326.95,469.83 327.36,469.66 Q327.76,469.49 328.19,469.53 Q328.62,469.58 329.03,469.71 Q329.44,469.85 329.77,470.17 Q330.1,470.49 330.19,470.94 Z" fill="#888" stroke="#e2e2e2" stroke-width="1.0"/>
<path d="M329.45,471.48 Q329.49,471.7 329.5,471.95 Q329.52,472.19 329.38,472.41 Q329.24,472.63 329,472.71 Q328.75,472.79 328.5,472.8 Q328.25,472.81 328.03,472.69 Q327.81,472.57 327.68,472.36 Q327.56,472.15 327.5,471.93 Q327.44,471.7 327.51,471.48 Q327.58,471.26 327.7,471.05 Q327.81,470.84 328.02,470.66 Q328.22,470.48 328.49,470.52 Q328.76,470.55 328.96,470.71 Q329.16,470.87 329.29,471.07 Q329.41,471.26 329.45,471.48 Z" fill="none" stroke="#6a6a6a" stroke-width="0.6"/>
<path d="M309.31,473.92 Q309.42,474.6 309.39,475.32 Q309.37,476.03 308.96,476.66 Q308.54,477.29 307.86,477.66 Q307.19,478.04 306.41,477.98 Q305.64,477.92 305.05,477.48 Q304.46,477.03 303.99,476.51 Q303.52,475.99 303.32,475.29 Q303.12,474.6 303.31,473.9 Q303.5,473.2 303.9,472.59 Q304.3,471.97 304.97,471.63 Q305.64,471.28 306.4,471.28 Q307.16,471.28 307.85,471.6 Q308.53,471.92 308.87,472.59 Q309.2,473.25 309.31,473.92 Z" fill="#858585" stroke="#a0a0a0" stroke-width="0.9"/>
<path d="M309.22,474.55 Q309.26,475.1 309.16,475.62 Q309.06,476.14 308.73,476.57 Q308.41,476.99 307.91,477.17 Q307.41,477.35 306.87,477.48 Q306.33,477.61 305.75,477.44 Q305.18,477.26 304.88,476.74 Q304.58,476.22 304.53,475.66 Q304.48,475.1 304.7,474.62 Q304.93,474.15 305.21,473.75 Q305.5,473.35 305.91,472.93 Q306.31,472.52 306.9,472.51 Q307.49,472.5 307.99,472.8 Q308.49,473.11 308.83,473.56 Q309.17,474.01 309.22,474.55 Z" fill="none" stroke="#6e6e6e" stroke-width="0.6"/>
<path d="M326.93,478.22 Q327.16,479.05 326.9,479.87 Q326.65,480.69 326.13,481.35 Q325.62,482.02 324.87,482.46 Q324.13,482.89 323.24,482.92 Q322.36,482.95 321.52,482.62 Q320.67,482.28 320.19,481.52 Q319.7,480.76 319.66,479.9 Q319.62,479.05 319.75,478.24 Q319.88,477.43 320.35,476.72 Q320.82,476.01 321.59,475.57 Q322.35,475.13 323.26,475.09 Q324.16,475.05 324.92,475.53 Q325.67,476.01 326.19,476.7 Q326.7,477.39 326.93,478.22 Z" fill="none" stroke="#505050" stroke-width="0.8"/>
<path d="M326.01,477.88 Q326.21,478.6 325.98,479.31 Q325.76,480.03 325.31,480.61 Q324.87,481.19 324.22,481.57 Q323.56,481.95 322.79,481.98 Q322.02,482 321.29,481.71 Q320.55,481.42 320.13,480.75 Q319.71,480.09 319.67,479.34 Q319.64,478.6 319.75,477.89 Q319.86,477.19 320.27,476.57 Q320.68,475.95 321.35,475.56 Q322.02,475.18 322.81,475.14 Q323.6,475.11 324.25,475.53 Q324.91,475.95 325.36,476.55 Q325.81,477.15 326.01,477.88 Z" fill="#888" stroke="#e2e2e2" stroke-width="1.0"/>
<path d="M325.01,478.46 Q325.1,478.9 324.99,479.33 Q324.87,479.75 324.52,480 Q324.17,480.24 323.81,480.36 Q323.46,480.47 323.07,480.6 Q322.68,480.73 322.27,480.59 Q321.86,480.46 321.58,480.11 Q321.3,479.77 321.22,479.33 Q321.14,478.9 321.32,478.51 Q321.49,478.13 321.73,477.81 Q321.97,477.48 322.33,477.29 Q322.69,477.09 323.09,477.15 Q323.49,477.21 323.87,477.33 Q324.26,477.44 324.59,477.73 Q324.92,478.02 325.01,478.46 Z" fill="none" stroke="#6a6a6a" stroke-width="0.6"/>
<path d="M333.09,483.48 Q332.78,484.21 332.06,484.42 Q331.34,484.64 330.65,484.21 Q329.97,483.77 329.54,483.04 Q329.11,482.31 329.29,481.5 Q329.48,480.69 329.61,480.02 Q329.75,479.36 330.08,478.75 Q330.41,478.14 331.06,478.13 Q331.71,478.11 332.32,477.94 Q332.93,477.76 333.71,477.86 Q334.49,477.95 334.95,478.69 Q335.41,479.44 335.5,480.3 Q335.6,481.17 335.02,481.73 Q334.43,482.3 333.92,482.53 Q333.41,482.75 333.09,483.48 Z" fill="none" stroke="#454545" stroke-width="0.8"/>
<path d="M332.58,482.68 Q332.31,483.32 331.69,483.51 Q331.06,483.7 330.47,483.31 Q329.87,482.93 329.5,482.28 Q329.12,481.64 329.28,480.92 Q329.44,480.2 329.55,479.62 Q329.67,479.04 329.95,478.5 Q330.24,477.96 330.8,477.95 Q331.37,477.94 331.89,477.79 Q332.42,477.63 333.1,477.72 Q333.78,477.81 334.18,478.46 Q334.58,479.12 334.66,479.88 Q334.75,480.65 334.24,481.14 Q333.74,481.64 333.29,481.84 Q332.85,482.04 332.58,482.68 Z" fill="#8e8e8e" stroke="#d8d8d8" stroke-width="0.9"/>
<path d="M331.61,481.32 Q331.37,481.29 331.18,481.13 Q330.99,480.97 330.83,480.73 Q330.67,480.5 330.74,480.19 Q330.81,479.88 330.96,479.59 Q331.1,479.31 331.34,479.08 Q331.58,478.85 331.86,478.95 Q332.15,479.05 332.34,479.17 Q332.53,479.29 332.74,479.38 Q332.96,479.46 333.12,479.69 Q333.27,479.91 333.35,480.25 Q333.43,480.59 333.2,480.87 Q332.97,481.16 332.64,481.18 Q332.31,481.2 332.08,481.27 Q331.85,481.34 331.61,481.32 Z" fill="#d0d0d0" stroke="#5a5a5a" stroke-width="0.5"/>
<path d="M303.9,483.25 Q303.87,482.54 304.53,482.18 Q305.18,481.81 305.77,481.53 Q306.35,481.25 307.07,481.18 Q307.79,481.11 308.6,481.27 Q309.41,481.43 310.48,481.75 Q311.55,482.08 311.74,482.96 Q311.94,483.84 311.27,484.41 Q310.6,484.99 310.2,485.4 Q309.81,485.81 309.29,486.1 Q308.78,486.39 308.08,486.73 Q307.39,487.07 306.38,487.01 Q305.37,486.95 304.9,486.16 Q304.44,485.36 304.19,484.65 Q303.94,483.95 303.9,483.25 Z" fill="none" stroke="#454545" stroke-width="0.8"/>
<path d="M303.9,482.8 Q303.86,482.19 304.45,481.87 Q305.03,481.56 305.54,481.32 Q306.06,481.09 306.7,481.03 Q307.34,480.98 308.07,481.12 Q308.79,481.26 309.74,481.56 Q310.7,481.86 310.88,482.62 Q311.07,483.39 310.47,483.88 Q309.88,484.38 309.53,484.73 Q309.19,485.08 308.73,485.33 Q308.27,485.58 307.65,485.87 Q307.04,486.16 306.14,486.1 Q305.24,486.04 304.82,485.34 Q304.39,484.64 304.16,484.03 Q303.94,483.41 303.9,482.8 Z" fill="#8e8e8e" stroke="#d8d8d8" stroke-width="0.9"/>
<path d="M306.34,481.96 Q306.61,481.83 306.89,481.84 Q307.17,481.85 307.41,482.02 Q307.65,482.2 307.86,482.34 Q308.08,482.48 308.42,482.68 Q308.77,482.88 308.85,483.26 Q308.94,483.65 308.76,483.92 Q308.59,484.19 308.37,484.34 Q308.14,484.49 307.88,484.45 Q307.61,484.41 307.36,484.4 Q307.11,484.39 306.83,484.24 Q306.55,484.1 306.43,483.78 Q306.3,483.46 306.17,483.13 Q306.03,482.8 306.05,482.44 Q306.06,482.09 306.34,481.96 Z" fill="#d0d0d0" stroke="#5a5a5a" stroke-width="0.5"/>
<path d="M318.47,485.33 Q318.75,486 318.65,486.76 Q318.54,487.51 317.97,488.01 Q317.4,488.5 316.74,488.76 Q316.09,489.01 315.4,489.02 Q314.71,489.03 314.09,488.72 Q313.48,488.41 312.99,487.9 Q312.5,487.4 312.33,486.7 Q312.17,486 312.33,485.3 Q312.49,484.6 312.88,483.97 Q313.27,483.33 313.97,483.08 Q314.68,482.83 315.37,482.95 Q316.07,483.07 316.68,483.35 Q317.28,483.64 317.73,484.15 Q318.18,484.66 318.47,485.33 Z" fill="#858585" stroke="#a0a0a0" stroke-width="0.9"/>
<path d="M318.44,485.91 Q318.54,486.5 318.29,487.02 Q318.04,487.53 317.68,487.91 Q317.32,488.28 316.85,488.45 Q316.38,488.62 315.88,488.71 Q315.37,488.8 314.85,488.64 Q314.33,488.47 314.03,488.01 Q313.74,487.54 313.57,487.02 Q313.39,486.5 313.5,485.95 Q313.6,485.39 314.02,485.03 Q314.44,484.67 314.92,484.48 Q315.4,484.29 315.89,484.33 Q316.38,484.38 316.86,484.54 Q317.34,484.7 317.83,485.01 Q318.33,485.33 318.44,485.91 Z" fill="none" stroke="#6e6e6e" stroke-width="0.6"/>
<path d="M327.39,490.89 Q326.75,490.96 326.21,490.58 Q325.66,490.21 325.91,489.41 Q326.15,488.62 326.42,488.13 Q326.68,487.64 326.81,487.14 Q326.94,486.64 327.3,486.16 Q327.66,485.68 328.25,485.21 Q328.85,484.75 329.44,485 Q330.04,485.26 330.22,485.91 Q330.39,486.57 330.63,487.05 Q330.86,487.53 330.73,488.11 Q330.59,488.69 330.22,489.12 Q329.86,489.55 329.49,490.02 Q329.13,490.48 328.58,490.65 Q328.04,490.82 327.39,490.89 Z" fill="none" stroke="#454545" stroke-width="0.8"/>
<path d="M327.13,489.98 Q326.59,490.05 326.13,489.74 Q325.68,489.42 325.89,488.74 Q326.11,488.06 326.34,487.64 Q326.57,487.22 326.68,486.8 Q326.79,486.37 327.1,485.96 Q327.4,485.55 327.91,485.15 Q328.41,484.74 328.91,484.95 Q329.4,485.17 329.55,485.72 Q329.69,486.27 329.88,486.68 Q330.07,487.09 329.95,487.59 Q329.83,488.08 329.52,488.45 Q329.21,488.82 328.9,489.22 Q328.59,489.62 328.13,489.77 Q327.67,489.92 327.13,489.98 Z" fill="#8e8e8e" stroke="#d8d8d8" stroke-width="0.9"/>
<path d="M327.32,487.92 Q327.18,487.77 327.25,487.57 Q327.32,487.37 327.37,487.19 Q327.43,487.02 327.52,486.79 Q327.61,486.56 327.86,486.45 Q328.11,486.34 328.38,486.36 Q328.65,486.37 328.79,486.56 Q328.94,486.74 328.93,486.94 Q328.92,487.14 329.04,487.28 Q329.16,487.43 329.16,487.65 Q329.16,487.87 328.97,488.04 Q328.78,488.21 328.53,488.32 Q328.28,488.42 328.05,488.36 Q327.81,488.29 327.64,488.17 Q327.46,488.06 327.32,487.92 Z" fill="#d0d0d0" stroke="#5a5a5a" stroke-width="0.5"/>
<path d="M318.22,493.2 Q318.87,493.92 318.27,494.53 Q317.67,495.15 316.83,495.37 Q316,495.6 315.23,495.56 Q314.47,495.52 313.84,495.31 Q313.21,495.1 312.37,495.01 Q311.54,494.91 311.05,494.35 Q310.55,493.78 310.62,493.13 Q310.69,492.48 310.71,491.77 Q310.74,491.06 311.46,490.67 Q312.17,490.28 313.04,490.36 Q313.9,490.45 314.6,490.67 Q315.29,490.89 315.71,491.34 Q316.13,491.79 316.85,492.13 Q317.57,492.47 318.22,493.2 Z" fill="none" stroke="#454545" stroke-width="0.8"/>
<path d="M317.37,492.71 Q317.95,493.33 317.42,493.85 Q316.89,494.37 316.15,494.57 Q315.41,494.76 314.73,494.72 Q314.05,494.68 313.49,494.49 Q312.93,494.31 312.19,494.23 Q311.45,494.14 311.01,493.65 Q310.56,493.16 310.62,492.61 Q310.68,492.05 310.7,491.44 Q310.72,490.83 311.35,490.5 Q311.98,490.16 312.75,490.24 Q313.52,490.32 314.14,490.52 Q314.76,490.71 315.13,491.1 Q315.5,491.48 316.15,491.78 Q316.79,492.08 317.37,492.71 Z" fill="#8e8e8e" stroke="#d8d8d8" stroke-width="0.9"/>
<path d="M315.09,493.33 Q314.97,493.56 314.75,493.7 Q314.53,493.84 314.23,493.79 Q313.92,493.74 313.67,493.52 Q313.42,493.3 313.18,493.07 Q312.95,492.85 312.92,492.56 Q312.89,492.27 312.98,492.06 Q313.07,491.86 313.07,491.57 Q313.07,491.29 313.26,491.1 Q313.45,490.91 313.77,490.92 Q314.08,490.94 314.37,491.16 Q314.66,491.38 314.73,491.72 Q314.8,492.06 314.88,492.29 Q314.97,492.51 315.09,492.81 Q315.22,493.11 315.09,493.33 Z" fill="#d0d0d0" stroke="#5a5a5a" stroke-width="0.5"/>
<path d="M336.17,501.89 Q336.35,502.65 336.22,503.43 Q336.09,504.21 335.58,504.82 Q335.07,505.43 334.35,505.77 Q333.64,506.1 332.85,506.12 Q332.05,506.14 331.41,505.7 Q330.76,505.27 330.32,504.67 Q329.88,504.08 329.61,503.36 Q329.34,502.65 329.46,501.86 Q329.58,501.08 330.06,500.41 Q330.54,499.75 331.3,499.46 Q332.06,499.17 332.82,499.3 Q333.58,499.44 334.27,499.72 Q334.96,500.01 335.48,500.57 Q336,501.13 336.17,501.89 Z" fill="none" stroke="#505050" stroke-width="0.8"/>
<path d="M335.25,501.55 Q335.4,502.2 335.29,502.87 Q335.18,503.54 334.74,504.06 Q334.3,504.59 333.69,504.87 Q333.08,505.16 332.4,505.17 Q331.72,505.19 331.17,504.81 Q330.61,504.44 330.23,503.93 Q329.86,503.42 329.62,502.81 Q329.39,502.2 329.5,501.53 Q329.6,500.85 330.01,500.28 Q330.42,499.71 331.07,499.46 Q331.72,499.22 332.37,499.33 Q333.03,499.44 333.62,499.69 Q334.21,499.93 334.65,500.42 Q335.1,500.9 335.25,501.55 Z" fill="#888" stroke="#e2e2e2" stroke-width="1.0"/>
<path d="M334.15,502.17 Q334.21,502.5 334.16,502.84 Q334.11,503.18 333.96,503.53 Q333.8,503.88 333.44,504.03 Q333.08,504.19 332.71,504.15 Q332.33,504.11 331.98,503.98 Q331.62,503.85 331.42,503.53 Q331.23,503.21 331.19,502.85 Q331.16,502.5 331.23,502.16 Q331.3,501.82 331.51,501.55 Q331.72,501.28 332.01,501.02 Q332.3,500.76 332.71,500.72 Q333.12,500.67 333.42,500.94 Q333.73,501.21 333.9,501.52 Q334.08,501.84 334.15,502.17 Z" fill="none" stroke="#6a6a6a" stroke-width="0.6"/>
<path d="M327.51,514.99 Q327.81,515.85 327.71,516.8 Q327.61,517.76 326.94,518.45 Q326.27,519.13 325.41,519.45 Q324.54,519.77 323.66,519.7 Q322.79,519.64 322,519.27 Q321.22,518.89 320.53,518.29 Q319.84,517.68 319.6,516.77 Q319.36,515.85 319.65,514.95 Q319.93,514.06 320.49,513.33 Q321.06,512.6 321.9,512.25 Q322.75,511.89 323.64,511.92 Q324.54,511.95 325.35,512.32 Q326.17,512.69 326.69,513.41 Q327.21,514.13 327.51,514.99 Z" fill="none" stroke="#505050" stroke-width="0.8"/>
<path d="M326.59,514.65 Q326.85,515.4 326.76,516.24 Q326.67,517.07 326.09,517.68 Q325.5,518.28 324.74,518.56 Q323.98,518.84 323.21,518.78 Q322.44,518.73 321.75,518.4 Q321.07,518.07 320.46,517.54 Q319.86,517.01 319.65,516.21 Q319.44,515.4 319.68,514.61 Q319.93,513.83 320.43,513.19 Q320.92,512.55 321.67,512.24 Q322.41,511.93 323.19,511.95 Q323.98,511.98 324.7,512.3 Q325.41,512.63 325.87,513.26 Q326.33,513.89 326.59,514.65 Z" fill="#888" stroke="#e2e2e2" stroke-width="1.0"/>
<path d="M325.43,515.26 Q325.54,515.7 325.47,516.16 Q325.4,516.62 325.09,516.95 Q324.77,517.29 324.35,517.44 Q323.93,517.59 323.49,517.63 Q323.05,517.66 322.7,517.41 Q322.34,517.16 322.11,516.82 Q321.89,516.48 321.68,516.09 Q321.48,515.7 321.53,515.24 Q321.58,514.78 321.86,514.39 Q322.14,514 322.59,513.85 Q323.04,513.7 323.47,513.85 Q323.89,514.01 324.26,514.15 Q324.62,514.29 324.97,514.56 Q325.31,514.83 325.43,515.26 Z" fill="none" stroke="#6a6a6a" stroke-width="0.6"/>
<line x1="333.9" y1="520.4" x2="354.6" y2="520.4" stroke="#000" stroke-width="1.5"/>
</g>
<rect x="286.85" y="461.8" width="72.2" height="61.7" fill="none" stroke="#1e1e1e" stroke-width="1.4"/>
<clipPath id="clip01"><rect x="363.55" y="461.8" width="72.2" height="61.7"/></clipPath>
<g clip-path="url(#clip01)">
<rect x="363.55" y="461.8" width="72.2" height="61.7" fill="#7f7f7f"/>
<path d="M379.85,470.36 Q380,471 379.96,471.73 Q379.92,472.47 379.65,473.01 Q379.38,473.55 379.03,473.87 Q378.69,474.2 378.3,474.16 Q377.92,474.13 377.59,473.79 Q377.27,473.44 377.03,472.9 Q376.79,472.37 376.74,471.68 Q376.69,471 376.74,470.32 Q376.8,469.64 376.98,468.97 Q377.16,468.31 377.53,468 Q377.9,467.7 378.29,467.78 Q378.68,467.87 379,468.24 Q379.31,468.61 379.51,469.17 Q379.7,469.73 379.85,470.36 Z" fill="#858585" stroke="#a0a0a0" stroke-width="0.9"/>
<path d="M380,470.98 Q380.04,471.5 380,472.03 Q379.96,472.55 379.75,472.9 Q379.54,473.25 379.3,473.47 Q379.07,473.69 378.79,473.79 Q378.51,473.89 378.23,473.69 Q377.96,473.49 377.74,473.07 Q377.53,472.65 377.51,472.08 Q377.5,471.5 377.65,471.05 Q377.8,470.6 377.94,470.18 Q378.07,469.77 378.29,469.46 Q378.51,469.14 378.81,469.1 Q379.1,469.05 379.38,469.25 Q379.67,469.46 379.81,469.96 Q379.95,470.46 380,470.98 Z" fill="none" stroke="#6e6e6e" stroke-width="0.6"/>
<path d="M376.79,490.21 Q376.8,491.1 376.62,491.9 Q376.44,492.71 376.04,493.5 Q375.65,494.29 374.83,494.71 Q374.02,495.12 373.1,495.13 Q372.18,495.14 371.36,494.72 Q370.54,494.31 370.06,493.55 Q369.57,492.8 369.34,491.95 Q369.11,491.1 369.35,490.25 Q369.59,489.41 370.18,488.79 Q370.77,488.17 371.48,487.66 Q372.2,487.15 373.12,487.05 Q374.05,486.96 374.88,487.38 Q375.72,487.81 376.25,488.57 Q376.78,489.33 376.79,490.21 Z" fill="#858585" stroke="#a0a0a0" stroke-width="0.9"/>
<path d="M376.27,491.03 Q376.58,491.6 376.54,492.3 Q376.5,493 376.08,493.59 Q375.65,494.18 374.98,494.43 Q374.31,494.69 373.65,494.47 Q373,494.25 372.45,493.99 Q371.9,493.74 371.39,493.32 Q370.88,492.91 370.75,492.25 Q370.61,491.6 370.7,490.92 Q370.79,490.25 371.22,489.69 Q371.64,489.14 372.28,488.89 Q372.92,488.63 373.61,488.6 Q374.29,488.57 374.83,488.98 Q375.37,489.38 375.66,489.92 Q375.96,490.46 376.27,491.03 Z" fill="none" stroke="#6e6e6e" stroke-width="0.6"/>
<circle cx="387.2" cy="490.3" r="0.9" fill="#111"/>
<path d="M410.31,488.77 Q410.6,489.75 410.44,490.79 Q410.27,491.83 409.52,492.56 Q408.77,493.29 407.83,493.56 Q406.88,493.84 405.93,493.91 Q404.98,493.98 404.07,493.62 Q403.16,493.25 402.48,492.5 Q401.8,491.75 401.52,490.75 Q401.25,489.75 401.58,488.77 Q401.9,487.8 402.52,487.02 Q403.15,486.23 404.04,485.78 Q404.94,485.33 405.92,485.44 Q406.91,485.55 407.78,485.95 Q408.66,486.35 409.34,487.07 Q410.03,487.79 410.31,488.77 Z" fill="none" stroke="#505050" stroke-width="0.8"/>
<path d="M409.38,488.43 Q409.63,489.3 409.49,490.23 Q409.34,491.15 408.68,491.8 Q408.01,492.44 407.17,492.69 Q406.33,492.94 405.49,493 Q404.64,493.06 403.83,492.74 Q403.02,492.41 402.41,491.75 Q401.81,491.08 401.57,490.19 Q401.32,489.3 401.61,488.43 Q401.9,487.57 402.45,486.87 Q403.01,486.17 403.81,485.77 Q404.6,485.37 405.48,485.47 Q406.35,485.57 407.13,485.92 Q407.91,486.28 408.52,486.92 Q409.13,487.55 409.38,488.43 Z" fill="#888" stroke="#e2e2e2" stroke-width="1.0"/>
<path d="M407.91,489.11 Q407.98,489.6 407.81,490.05 Q407.65,490.49 407.4,490.89 Q407.15,491.3 406.72,491.49 Q406.28,491.69 405.8,491.67 Q405.33,491.65 404.83,491.55 Q404.32,491.45 403.98,491.05 Q403.64,490.64 403.6,490.12 Q403.56,489.6 403.73,489.14 Q403.91,488.69 404.26,488.4 Q404.61,488.11 404.97,487.83 Q405.33,487.55 405.84,487.4 Q406.34,487.24 406.8,487.5 Q407.26,487.77 407.55,488.19 Q407.84,488.62 407.91,489.11 Z" fill="none" stroke="#6a6a6a" stroke-width="0.6"/>
<path d="M413.98,496.4 A3.6,3.6 0 1 1 419.86,496.91" fill="none" stroke="#4a4a4a" stroke-width="0.8"/>
<path d="M414.2,495.8 A3,3 0 1 1 419.1,496.23" fill="none" stroke="#dcdcdc" stroke-width="0.9" stroke-linecap="round"/>
<path d="M429.43,502.02 Q429.62,503.25 429.21,504.37 Q428.79,505.49 428.1,506.41 Q427.41,507.34 426.36,507.82 Q425.3,508.31 424.15,508.3 Q423,508.3 421.91,507.86 Q420.82,507.42 420.09,506.49 Q419.35,505.56 418.99,504.41 Q418.63,503.25 418.89,502.04 Q419.14,500.84 420.05,500.04 Q420.96,499.25 422,498.82 Q423.04,498.39 424.17,498.31 Q425.29,498.24 426.39,498.65 Q427.48,499.07 428.36,499.94 Q429.24,500.8 429.43,502.02 Z" fill="none" stroke="#505050" stroke-width="0.8"/>
<path d="M428.48,501.69 Q428.66,502.8 428.28,503.81 Q427.9,504.82 427.28,505.67 Q426.66,506.51 425.7,506.94 Q424.75,507.38 423.7,507.38 Q422.66,507.37 421.67,506.98 Q420.69,506.58 420.02,505.74 Q419.36,504.89 419.03,503.85 Q418.7,502.8 418.93,501.71 Q419.17,500.62 419.99,499.9 Q420.81,499.18 421.75,498.79 Q422.69,498.39 423.72,498.33 Q424.74,498.26 425.73,498.64 Q426.72,499.02 427.51,499.8 Q428.31,500.58 428.48,501.69 Z" fill="#888" stroke="#e2e2e2" stroke-width="1.0"/>
<path d="M426.77,502.45 Q426.84,503.1 426.54,503.64 Q426.23,504.18 425.87,504.59 Q425.51,505 425.03,505.23 Q424.54,505.47 423.97,505.59 Q423.4,505.72 422.8,505.54 Q422.2,505.35 421.9,504.81 Q421.59,504.26 421.45,503.68 Q421.32,503.1 421.44,502.51 Q421.56,501.92 422,501.54 Q422.44,501.15 422.94,500.91 Q423.45,500.67 424,500.66 Q424.56,500.65 425.1,500.84 Q425.65,501.03 426.18,501.42 Q426.7,501.8 426.77,502.45 Z" fill="none" stroke="#6a6a6a" stroke-width="0.6"/>
<path d="M420.98,497.92 A8.4,8.4 0 0 1 433.69,501.93" fill="none" stroke="#4a4a4a" stroke-width="0.8"/>
<path d="M421.03,498.11 A7.8,7.8 0 0 1 432.83,501.83" fill="none" stroke="#e4e4e4" stroke-width="1.0" stroke-linecap="round"/>
<path d="M416.96,508.73 Q417.23,509.75 416.9,510.74 Q416.56,511.73 415.89,512.47 Q415.21,513.21 414.3,513.55 Q413.39,513.89 412.43,513.96 Q411.47,514.03 410.52,513.7 Q409.57,513.37 408.97,512.54 Q408.38,511.71 408.12,510.73 Q407.87,509.75 408.07,508.74 Q408.26,507.73 408.96,506.99 Q409.65,506.24 410.56,505.84 Q411.46,505.43 412.43,505.5 Q413.4,505.57 414.27,505.98 Q415.13,506.38 415.92,507.04 Q416.7,507.71 416.96,508.73 Z" fill="none" stroke="#505050" stroke-width="0.8"/>
<path d="M416.01,508.39 Q416.25,509.3 415.95,510.18 Q415.66,511.06 415.05,511.72 Q414.45,512.37 413.65,512.68 Q412.84,512.98 411.99,513.04 Q411.13,513.11 410.28,512.81 Q409.44,512.51 408.91,511.78 Q408.38,511.04 408.15,510.17 Q407.93,509.3 408.1,508.4 Q408.28,507.51 408.9,506.85 Q409.51,506.18 410.32,505.82 Q411.12,505.46 411.99,505.52 Q412.85,505.58 413.62,505.94 Q414.39,506.31 415.08,506.89 Q415.77,507.48 416.01,508.39 Z" fill="#888" stroke="#e2e2e2" stroke-width="1.0"/>
<path d="M414.48,509.08 Q414.5,509.6 414.25,510.01 Q414,510.42 413.79,510.81 Q413.57,511.2 413.19,511.5 Q412.8,511.81 412.29,511.85 Q411.78,511.89 411.29,511.68 Q410.8,511.48 410.57,511.01 Q410.35,510.54 410.29,510.07 Q410.22,509.6 410.27,509.12 Q410.32,508.65 410.66,508.31 Q411,507.97 411.41,507.76 Q411.83,507.54 412.32,507.45 Q412.81,507.37 413.28,507.57 Q413.75,507.78 414.1,508.17 Q414.46,508.56 414.48,509.08 Z" fill="none" stroke="#6a6a6a" stroke-width="0.6"/>
<path d="M404.1,519.1 A4.9,4.9 0 0 1 413.83,518.25" fill="none" stroke="#4a4a4a" stroke-width="0.8"/>
<path d="M404.4,518.8 A4.3,4.3 0 0 1 412.93,518.05" fill="none" stroke="#e2e2e2" stroke-width="1.0" stroke-linecap="round"/>
<path d="M420.01,510.1 A5,5 0 0 1 418.74,519.78" fill="none" stroke="#4a4a4a" stroke-width="0.8"/>
<path d="M419.5,510.37 A4.4,4.4 0 0 1 418.38,518.88" fill="none" stroke="#e2e2e2" stroke-width="1.0" stroke-linecap="round"/>
<path d="M425.5,511 L430,518 M428,510.5 L432.5,517" stroke="#a8a8a8" stroke-width="0.7"/>
</g>
<rect x="363.55" y="461.8" width="72.2" height="61.7" fill="none" stroke="#1e1e1e" stroke-width="1.4"/>
<clipPath id="clip02"><rect x="440.25" y="461.8" width="72.2" height="61.7"/></clipPath>
<g clip-path="url(#clip02)">
<rect x="440.25" y="461.8" width="72.2" height="61.7" fill="#7e7e7e"/>
<circle cx="456.5" cy="480.8" r="6.4" fill="url(#oof)"/>
<path d="M469.96,477.27 Q469.7,477.72 469.22,478.02 Q468.74,478.32 468.03,478.54 Q467.31,478.76 466.6,478.26 Q465.88,477.76 465.77,476.87 Q465.66,475.98 465.52,475.27 Q465.38,474.57 465.57,473.93 Q465.77,473.3 466.32,473.07 Q466.88,472.83 467.36,472.55 Q467.85,472.27 468.49,472.35 Q469.12,472.43 469.83,472.73 Q470.54,473.02 471.21,473.7 Q471.88,474.37 471.57,475.21 Q471.26,476.04 470.74,476.43 Q470.22,476.82 469.96,477.27 Z" fill="none" stroke="#454545" stroke-width="0.8"/>
<path d="M469.35,476.54 Q469.13,476.94 468.73,477.2 Q468.32,477.45 467.7,477.64 Q467.09,477.82 466.46,477.37 Q465.84,476.93 465.74,476.15 Q465.63,475.37 465.5,474.75 Q465.37,474.13 465.53,473.57 Q465.7,473.02 466.17,472.82 Q466.64,472.62 467.06,472.38 Q467.48,472.14 468.03,472.22 Q468.58,472.29 469.19,472.56 Q469.81,472.83 470.39,473.43 Q470.98,474.03 470.72,474.75 Q470.46,475.48 470.02,475.82 Q469.57,476.15 469.35,476.54 Z" fill="#8e8e8e" stroke="#d8d8d8" stroke-width="0.9"/>
<path d="M468.09,475.98 Q467.84,476.08 467.6,475.95 Q467.37,475.82 467.25,475.55 Q467.12,475.28 467.02,475 Q466.92,474.72 467.05,474.44 Q467.18,474.15 467.37,474 Q467.57,473.84 467.72,473.62 Q467.86,473.4 468.11,473.28 Q468.35,473.17 468.63,473.21 Q468.91,473.25 469.09,473.52 Q469.26,473.79 469.14,474.15 Q469.02,474.5 468.95,474.74 Q468.88,474.98 468.82,475.26 Q468.76,475.53 468.55,475.7 Q468.35,475.88 468.09,475.98 Z" fill="#d0d0d0" stroke="#5a5a5a" stroke-width="0.5"/>
<path d="M467.67,491.78 Q468.08,492.56 467.95,493.46 Q467.82,494.35 467.09,495.15 Q466.37,495.94 465,495.58 Q463.63,495.22 462.83,494.61 Q462.03,494 461.13,493.82 Q460.23,493.65 459.48,493.06 Q458.74,492.48 458.25,491.61 Q457.77,490.74 458.12,489.86 Q458.46,488.98 459.65,488.75 Q460.83,488.53 461.79,488.29 Q462.76,488.06 463.81,488.24 Q464.87,488.42 465.42,489.15 Q465.96,489.89 466.61,490.44 Q467.25,491 467.67,491.78 Z" fill="none" stroke="#454545" stroke-width="0.8"/>
<path d="M466.89,491.29 Q467.27,491.99 467.16,492.79 Q467.05,493.58 466.38,494.28 Q465.72,494.99 464.46,494.66 Q463.21,494.33 462.47,493.79 Q461.74,493.24 460.92,493.08 Q460.09,492.92 459.4,492.39 Q458.72,491.87 458.27,491.1 Q457.82,490.32 458.13,489.54 Q458.45,488.76 459.53,488.56 Q460.62,488.37 461.5,488.16 Q462.38,487.96 463.34,488.12 Q464.31,488.29 464.82,488.94 Q465.32,489.6 465.91,490.1 Q466.51,490.59 466.89,491.29 Z" fill="#8e8e8e" stroke="#d8d8d8" stroke-width="0.9"/>
<path d="M464.49,492.33 Q464.47,492.75 464.12,492.89 Q463.77,493.03 463.35,492.94 Q462.92,492.84 462.6,492.48 Q462.28,492.13 462.16,491.76 Q462.05,491.4 461.74,491.09 Q461.44,490.79 461.29,490.34 Q461.13,489.89 461.35,489.59 Q461.57,489.3 461.91,489.17 Q462.26,489.03 462.66,489.23 Q463.07,489.42 463.39,489.66 Q463.71,489.89 464.03,490.17 Q464.36,490.44 464.41,490.82 Q464.47,491.2 464.49,491.55 Q464.52,491.9 464.49,492.33 Z" fill="#d0d0d0" stroke="#5a5a5a" stroke-width="0.5"/>
<path d="M486.69,471.32 Q486.72,471.8 486.6,472.25 Q486.48,472.71 486.07,473.12 Q485.65,473.53 484.95,473.79 Q484.24,474.06 483.39,474.09 Q482.53,474.12 481.86,473.81 Q481.18,473.5 480.77,473.1 Q480.36,472.69 480.12,472.25 Q479.88,471.8 480.05,471.33 Q480.22,470.86 480.67,470.46 Q481.13,470.06 481.85,469.82 Q482.57,469.59 483.39,469.61 Q484.21,469.63 484.97,469.82 Q485.74,470.01 486.2,470.42 Q486.67,470.84 486.69,471.32 Z" fill="#858585" stroke="#a0a0a0" stroke-width="0.9"/>
<path d="M486.2,471.99 Q486.37,472.3 486.34,472.66 Q486.31,473.01 486.01,473.34 Q485.7,473.68 485.13,473.89 Q484.57,474.09 483.94,474 Q483.3,473.9 482.81,473.71 Q482.32,473.51 481.91,473.26 Q481.49,473.01 481.41,472.65 Q481.33,472.3 481.43,471.95 Q481.53,471.6 481.85,471.29 Q482.17,470.98 482.73,470.81 Q483.28,470.64 483.92,470.58 Q484.56,470.53 485.09,470.75 Q485.63,470.98 485.83,471.32 Q486.03,471.67 486.2,471.99 Z" fill="none" stroke="#6e6e6e" stroke-width="0.6"/>
<path d="M502.05,464.87 Q502.2,465.4 502.02,465.92 Q501.84,466.43 501.45,466.77 Q501.06,467.11 500.64,467.38 Q500.21,467.65 499.68,467.73 Q499.15,467.8 498.63,467.6 Q498.11,467.39 497.75,466.95 Q497.39,466.51 497.39,465.96 Q497.38,465.4 497.52,464.91 Q497.67,464.42 497.95,463.98 Q498.22,463.54 498.7,463.32 Q499.17,463.1 499.71,463.07 Q500.24,463.04 500.74,463.25 Q501.25,463.46 501.57,463.9 Q501.9,464.34 502.05,464.87 Z" fill="#858585" stroke="#a0a0a0" stroke-width="0.9"/>
<path d="M501.81,465.55 Q501.95,465.9 501.88,466.29 Q501.82,466.68 501.61,467.04 Q501.4,467.4 501.01,467.56 Q500.62,467.72 500.21,467.69 Q499.8,467.66 499.41,467.52 Q499.03,467.37 498.83,467.01 Q498.64,466.65 498.62,466.27 Q498.59,465.9 498.61,465.52 Q498.63,465.14 498.84,464.8 Q499.05,464.45 499.4,464.2 Q499.75,463.95 500.2,463.96 Q500.64,463.98 500.94,464.29 Q501.23,464.6 501.45,464.9 Q501.67,465.19 501.81,465.55 Z" fill="none" stroke="#6e6e6e" stroke-width="0.6"/>
<path d="M504.23,475.43 Q504.52,476.1 503.72,476.59 Q502.92,477.08 502.28,477.29 Q501.64,477.49 501.24,477.96 Q500.84,478.43 500.05,478.6 Q499.26,478.77 498.35,478.64 Q497.44,478.51 496.89,477.96 Q496.35,477.41 496.57,476.75 Q496.79,476.1 496.86,475.55 Q496.93,475 497.43,474.56 Q497.92,474.12 498.68,474.09 Q499.45,474.05 500.16,473.87 Q500.86,473.69 501.71,473.79 Q502.55,473.88 503.24,474.32 Q503.94,474.77 504.23,475.43 Z" fill="none" stroke="#454545" stroke-width="0.8"/>
<path d="M503.37,475.04 Q503.63,475.6 502.92,476.01 Q502.2,476.43 501.64,476.6 Q501.07,476.78 500.71,477.18 Q500.36,477.58 499.65,477.72 Q498.95,477.86 498.14,477.75 Q497.34,477.64 496.85,477.17 Q496.36,476.71 496.56,476.15 Q496.76,475.6 496.82,475.13 Q496.89,474.67 497.32,474.3 Q497.76,473.93 498.44,473.9 Q499.12,473.87 499.75,473.71 Q500.38,473.56 501.13,473.64 Q501.88,473.72 502.49,474.1 Q503.11,474.47 503.37,475.04 Z" fill="#8e8e8e" stroke="#d8d8d8" stroke-width="0.9"/>
<path d="M501.3,476.21 Q501.05,476.37 500.79,476.4 Q500.54,476.43 500.3,476.43 Q500.07,476.43 499.82,476.33 Q499.57,476.23 499.28,476.1 Q498.99,475.96 498.81,475.69 Q498.63,475.42 498.63,475.15 Q498.62,474.89 498.63,474.61 Q498.63,474.33 498.88,474.25 Q499.14,474.17 499.44,474.28 Q499.74,474.4 499.98,474.5 Q500.22,474.6 500.43,474.77 Q500.65,474.94 500.93,475.16 Q501.21,475.38 501.38,475.72 Q501.54,476.05 501.3,476.21 Z" fill="#d0d0d0" stroke="#5a5a5a" stroke-width="0.5"/>
<path d="M513.11,481.08 Q513.26,481.95 513.19,482.87 Q513.12,483.79 512.69,484.59 Q512.26,485.39 511.52,485.68 Q510.79,485.97 510.07,485.89 Q509.34,485.8 508.72,485.4 Q508.1,484.99 507.63,484.33 Q507.17,483.67 506.89,482.81 Q506.61,481.95 506.79,481.03 Q506.96,480.1 507.48,479.42 Q507.99,478.75 508.65,478.32 Q509.3,477.89 510.04,477.94 Q510.78,477.99 511.41,478.42 Q512.05,478.84 512.5,479.52 Q512.96,480.21 513.11,481.08 Z" fill="none" stroke="#505050" stroke-width="0.8"/>
<path d="M512.2,480.73 Q512.32,481.5 512.26,482.31 Q512.21,483.11 511.84,483.82 Q511.47,484.52 510.85,484.78 Q510.23,485.03 509.61,484.96 Q509,484.88 508.47,484.53 Q507.94,484.17 507.55,483.59 Q507.16,483.01 506.92,482.26 Q506.68,481.5 506.83,480.69 Q506.98,479.88 507.42,479.28 Q507.85,478.69 508.41,478.31 Q508.97,477.94 509.59,477.98 Q510.22,478.03 510.76,478.4 Q511.29,478.77 511.68,479.37 Q512.07,479.97 512.2,480.73 Z" fill="#888" stroke="#e2e2e2" stroke-width="1.0"/>
<path d="M511.4,481.34 Q511.44,481.8 511.39,482.25 Q511.35,482.7 511.11,483.03 Q510.87,483.37 510.54,483.47 Q510.22,483.57 509.9,483.59 Q509.58,483.61 509.28,483.45 Q508.98,483.29 508.7,483 Q508.43,482.71 508.28,482.26 Q508.14,481.8 508.32,481.37 Q508.5,480.93 508.76,480.66 Q509.02,480.39 509.3,480.19 Q509.58,480 509.9,479.98 Q510.23,479.96 510.57,480.07 Q510.91,480.18 511.14,480.53 Q511.37,480.89 511.4,481.34 Z" fill="none" stroke="#6a6a6a" stroke-width="0.6"/>
<path d="M507.39,493.24 Q507.45,493.96 506.94,494.33 Q506.42,494.7 505.56,494.55 Q504.7,494.41 503.9,493.71 Q503.11,493.01 502.42,492.51 Q501.73,492.01 501.2,491.33 Q500.66,490.66 500.74,490.1 Q500.83,489.54 500.72,488.88 Q500.6,488.22 500.91,487.69 Q501.22,487.16 502.04,487.21 Q502.87,487.26 503.79,487.71 Q504.7,488.16 505.15,489.05 Q505.6,489.93 505.79,490.5 Q505.97,491.07 506.65,491.79 Q507.34,492.52 507.39,493.24 Z" fill="none" stroke="#454545" stroke-width="0.8"/>
<path d="M506.63,492.55 Q506.7,493.17 506.27,493.47 Q505.83,493.77 505.07,493.61 Q504.31,493.46 503.59,492.83 Q502.87,492.19 502.25,491.74 Q501.63,491.28 501.14,490.68 Q500.64,490.08 500.7,489.6 Q500.75,489.12 500.63,488.55 Q500.51,487.97 500.76,487.53 Q501.01,487.08 501.73,487.15 Q502.46,487.23 503.27,487.65 Q504.09,488.07 504.52,488.85 Q504.95,489.63 505.12,490.12 Q505.3,490.62 505.93,491.27 Q506.56,491.92 506.63,492.55 Z" fill="#8e8e8e" stroke="#d8d8d8" stroke-width="0.9"/>
<path d="M504.04,491.72 Q503.92,491.99 503.7,491.9 Q503.48,491.81 503.28,491.6 Q503.08,491.4 502.88,491.11 Q502.67,490.81 502.65,490.39 Q502.62,489.97 502.7,489.65 Q502.78,489.33 502.91,489.15 Q503.05,488.98 503.21,488.92 Q503.37,488.87 503.55,488.67 Q503.73,488.46 503.99,488.59 Q504.24,488.72 504.35,489.17 Q504.46,489.63 504.48,490.02 Q504.5,490.42 504.42,490.7 Q504.34,490.98 504.25,491.21 Q504.16,491.45 504.04,491.72 Z" fill="#d0d0d0" stroke="#5a5a5a" stroke-width="0.5"/>
<path d="M475.95,503.73 Q476.1,504.4 475.87,505.04 Q475.64,505.67 475.17,506.09 Q474.69,506.52 474.17,506.88 Q473.65,507.25 472.98,507.36 Q472.3,507.46 471.66,507.17 Q471.03,506.87 470.6,506.32 Q470.17,505.76 470.13,505.08 Q470.09,504.4 470.27,503.78 Q470.44,503.17 470.79,502.61 Q471.13,502.06 471.74,501.79 Q472.35,501.53 473,501.51 Q473.66,501.5 474.31,501.73 Q474.95,501.96 475.37,502.51 Q475.79,503.05 475.95,503.73 Z" fill="#858585" stroke="#a0a0a0" stroke-width="0.9"/>
<path d="M475.69,504.38 Q475.73,504.9 475.49,505.32 Q475.25,505.74 475.03,506.15 Q474.82,506.55 474.42,506.87 Q474.02,507.18 473.49,507.23 Q472.96,507.29 472.46,507.06 Q471.96,506.83 471.76,506.33 Q471.55,505.84 471.5,505.37 Q471.45,504.9 471.47,504.42 Q471.5,503.94 471.82,503.56 Q472.14,503.19 472.57,502.95 Q473,502.71 473.51,502.65 Q474.03,502.6 474.49,502.84 Q474.95,503.08 475.31,503.47 Q475.66,503.86 475.69,504.38 Z" fill="none" stroke="#6e6e6e" stroke-width="0.6"/>
<path d="M475.01,516.91 Q474.4,516.52 474.59,515.76 Q474.79,515 475.01,514.4 Q475.24,513.8 475.52,513.14 Q475.79,512.47 476.46,511.91 Q477.12,511.34 478.08,510.83 Q479.04,510.32 479.8,510.78 Q480.57,511.23 480.5,512.13 Q480.44,513.04 480.61,513.54 Q480.78,514.03 480.81,514.65 Q480.84,515.27 480.53,516 Q480.22,516.73 479.5,517.41 Q478.79,518.09 477.89,517.97 Q476.99,517.84 476.3,517.57 Q475.62,517.3 475.01,516.91 Z" fill="none" stroke="#454545" stroke-width="0.8"/>
<path d="M474.9,516.14 Q474.36,515.81 474.55,515.14 Q474.73,514.48 474.94,513.95 Q475.15,513.42 475.4,512.84 Q475.65,512.26 476.25,511.75 Q476.85,511.25 477.71,510.79 Q478.56,510.34 479.24,510.72 Q479.91,511.11 479.84,511.9 Q479.77,512.69 479.91,513.12 Q480.06,513.56 480.08,514.1 Q480.1,514.64 479.81,515.28 Q479.53,515.92 478.89,516.52 Q478.24,517.13 477.45,517.03 Q476.65,516.93 476.04,516.7 Q475.44,516.48 474.9,516.14 Z" fill="#8e8e8e" stroke="#d8d8d8" stroke-width="0.9"/>
<path d="M476.42,513.82 Q476.52,513.59 476.58,513.39 Q476.65,513.19 476.74,512.9 Q476.83,512.61 477.19,512.55 Q477.55,512.49 477.9,512.59 Q478.26,512.69 478.58,512.85 Q478.89,513 479,513.27 Q479.1,513.55 479.11,513.8 Q479.12,514.05 478.99,514.26 Q478.85,514.47 478.6,514.57 Q478.34,514.68 478.1,514.88 Q477.85,515.09 477.44,515.11 Q477.03,515.14 476.76,514.87 Q476.5,514.6 476.41,514.33 Q476.31,514.05 476.42,513.82 Z" fill="#d0d0d0" stroke="#5a5a5a" stroke-width="0.5"/>
<path d="M492.94,515.12 Q492.73,514.27 493.54,513.86 Q494.35,513.44 495.15,513.34 Q495.95,513.25 496.65,513.44 Q497.35,513.62 498.02,513.74 Q498.69,513.86 499.8,514.02 Q500.91,514.19 501.31,515.01 Q501.71,515.84 501.28,516.53 Q500.86,517.23 500.38,517.73 Q499.9,518.23 499.15,518.34 Q498.41,518.46 497.71,518.56 Q497.01,518.66 496.19,518.53 Q495.37,518.4 494.89,517.79 Q494.4,517.19 493.77,516.57 Q493.14,515.96 492.94,515.12 Z" fill="none" stroke="#454545" stroke-width="0.8"/>
<path d="M492.99,514.68 Q492.8,513.95 493.52,513.59 Q494.24,513.23 494.95,513.16 Q495.66,513.08 496.29,513.25 Q496.92,513.42 497.51,513.53 Q498.11,513.64 499.1,513.79 Q500.1,513.95 500.46,514.67 Q500.82,515.38 500.45,515.99 Q500.07,516.59 499.65,517.02 Q499.23,517.45 498.56,517.54 Q497.9,517.64 497.28,517.72 Q496.66,517.8 495.93,517.68 Q495.2,517.56 494.76,517.03 Q494.32,516.5 493.75,515.95 Q493.18,515.41 492.99,514.68 Z" fill="#8e8e8e" stroke="#d8d8d8" stroke-width="0.9"/>
<path d="M495.89,513.89 Q496.14,513.71 496.46,513.8 Q496.78,513.9 497.04,513.93 Q497.3,513.96 497.54,514.17 Q497.78,514.37 497.89,514.67 Q498,514.96 498.13,515.26 Q498.27,515.57 498.23,515.89 Q498.2,516.2 498.04,516.46 Q497.88,516.73 497.59,516.82 Q497.3,516.91 497.01,516.61 Q496.73,516.3 496.56,516.07 Q496.39,515.84 496.16,515.65 Q495.92,515.46 495.79,515.13 Q495.66,514.81 495.65,514.44 Q495.65,514.07 495.89,513.89 Z" fill="#d0d0d0" stroke="#5a5a5a" stroke-width="0.5"/>
</g>
<rect x="440.25" y="461.8" width="72.2" height="61.7" fill="none" stroke="#1e1e1e" stroke-width="1.4"/>
<clipPath id="clip10"><rect x="286.85" y="527.35" width="72.2" height="62.6"/></clipPath>
<g clip-path="url(#clip10)">
<rect x="286.85" y="527.35" width="72.2" height="62.6" fill="#7b7b7b"/>
<ellipse cx="292" cy="560" rx="7" ry="12" fill="url(#dk)"/>
<path d="M304.49,542.08 Q304.66,542.8 304.59,543.57 Q304.51,544.35 304,544.95 Q303.5,545.56 302.78,545.86 Q302.07,546.17 301.29,546.24 Q300.5,546.3 299.89,545.81 Q299.29,545.32 298.94,544.71 Q298.6,544.1 298.3,543.45 Q297.99,542.8 298.05,542.03 Q298.11,541.26 298.52,540.55 Q298.94,539.84 299.71,539.53 Q300.48,539.22 301.24,539.49 Q301.99,539.77 302.62,540.06 Q303.24,540.36 303.78,540.86 Q304.31,541.35 304.49,542.08 Z" fill="#858585" stroke="#c4c4c4" stroke-width="0.9"/>
<path d="M305.07,542.43 Q305.26,543.2 305.18,544.02 Q305.1,544.84 304.56,545.48 Q304.03,546.12 303.27,546.44 Q302.51,546.77 301.68,546.84 Q300.85,546.9 300.21,546.39 Q299.57,545.87 299.21,545.22 Q298.84,544.58 298.52,543.89 Q298.19,543.2 298.26,542.39 Q298.32,541.57 298.76,540.82 Q299.2,540.07 300.02,539.74 Q300.84,539.41 301.63,539.7 Q302.43,539.99 303.1,540.3 Q303.76,540.62 304.32,541.14 Q304.89,541.67 305.07,542.43 Z" fill="none" stroke="#484848" stroke-width="0.8" stroke-dasharray="1.6 1.4"/>
<path d="M302.87,542.7 Q302.97,543 303.07,543.4 Q303.17,543.8 302.9,544.11 Q302.63,544.42 302.26,544.57 Q301.89,544.71 301.49,544.76 Q301.09,544.8 300.77,544.56 Q300.45,544.32 300.24,544.01 Q300.04,543.7 300,543.35 Q299.96,543 300.08,542.69 Q300.21,542.38 300.29,541.97 Q300.36,541.57 300.7,541.28 Q301.04,540.98 301.47,541.1 Q301.91,541.21 302.22,541.46 Q302.53,541.71 302.65,542.05 Q302.77,542.39 302.87,542.7 Z" fill="none" stroke="#aaa" stroke-width="0.7" stroke-dasharray="1.2 0.9"/>
<path d="M350.56,542.03 Q350.72,542.8 350.5,543.54 Q350.28,544.28 349.87,544.96 Q349.47,545.65 348.72,545.91 Q347.97,546.16 347.23,546.03 Q346.49,545.89 345.86,545.58 Q345.23,545.27 344.79,544.72 Q344.35,544.17 343.97,543.49 Q343.58,542.8 343.64,541.96 Q343.69,541.11 344.37,540.6 Q345.04,540.1 345.77,539.88 Q346.49,539.67 347.19,539.7 Q347.9,539.72 348.55,540.01 Q349.19,540.3 349.79,540.78 Q350.39,541.26 350.56,542.03 Z" fill="#858585" stroke="#c4c4c4" stroke-width="0.9"/>
<path d="M351.16,542.39 Q351.33,543.2 351.09,543.98 Q350.86,544.77 350.43,545.49 Q350,546.21 349.21,546.49 Q348.41,546.76 347.63,546.62 Q346.85,546.48 346.18,546.15 Q345.51,545.82 345.05,545.24 Q344.58,544.66 344.17,543.93 Q343.77,543.2 343.83,542.31 Q343.89,541.41 344.6,540.87 Q345.32,540.34 346.08,540.11 Q346.84,539.89 347.59,539.91 Q348.34,539.94 349.03,540.25 Q349.71,540.56 350.34,541.06 Q350.98,541.57 351.16,542.39 Z" fill="none" stroke="#484848" stroke-width="0.8" stroke-dasharray="1.6 1.4"/>
<path d="M348.95,542.67 Q349.15,543 349.11,543.4 Q349.07,543.8 348.86,544.18 Q348.65,544.56 348.22,544.66 Q347.8,544.77 347.45,544.54 Q347.1,544.31 346.8,544.22 Q346.5,544.13 346.18,543.93 Q345.86,543.74 345.72,543.37 Q345.57,543 345.6,542.57 Q345.63,542.15 345.97,541.89 Q346.32,541.64 346.68,541.54 Q347.04,541.44 347.41,541.38 Q347.78,541.32 348.07,541.55 Q348.36,541.79 348.56,542.07 Q348.76,542.35 348.95,542.67 Z" fill="none" stroke="#aaa" stroke-width="0.7" stroke-dasharray="1.2 0.9"/>
<path d="M325.71,557 Q325.4,557.62 324.72,557.81 Q324.04,558 323.38,558.11 Q322.71,558.21 322.07,557.76 Q321.43,557.3 321,556.81 Q320.57,556.32 319.75,555.84 Q318.92,555.36 318.63,554.51 Q318.34,553.67 318.77,553.04 Q319.2,552.41 319.94,552.24 Q320.69,552.07 321.43,552.48 Q322.18,552.89 322.76,552.92 Q323.34,552.96 324.18,553.16 Q325.02,553.36 325.38,554.1 Q325.75,554.85 325.88,555.61 Q326.01,556.38 325.71,557 Z" fill="none" stroke="#454545" stroke-width="0.8"/>
<path d="M324.93,556.3 Q324.67,556.84 324.08,557 Q323.48,557.15 322.9,557.23 Q322.32,557.32 321.76,556.91 Q321.19,556.5 320.8,556.07 Q320.41,555.63 319.69,555.2 Q318.96,554.77 318.69,554.03 Q318.42,553.29 318.79,552.75 Q319.15,552.21 319.8,552.07 Q320.45,551.94 321.11,552.31 Q321.77,552.67 322.28,552.71 Q322.79,552.75 323.53,552.94 Q324.27,553.12 324.6,553.78 Q324.93,554.43 325.05,555.1 Q325.18,555.77 324.93,556.3 Z" fill="#8e8e8e" stroke="#d8d8d8" stroke-width="0.9"/>
<path d="M322.58,555.5 Q322.42,555.67 322.19,555.74 Q321.96,555.8 321.66,555.74 Q321.37,555.67 321.24,555.31 Q321.11,554.95 321.16,554.62 Q321.21,554.28 321.22,553.98 Q321.24,553.68 321.4,553.49 Q321.56,553.29 321.77,553.21 Q321.98,553.14 322.21,553.08 Q322.44,553.03 322.66,553.19 Q322.89,553.34 323.12,553.58 Q323.35,553.82 323.42,554.19 Q323.5,554.56 323.27,554.8 Q323.05,555.03 322.89,555.18 Q322.73,555.33 322.58,555.5 Z" fill="#d0d0d0" stroke="#5a5a5a" stroke-width="0.5"/>
<path d="M316.35,550.65 Q316.43,551.2 316.33,551.74 Q316.23,552.27 315.84,552.64 Q315.45,553.01 314.98,553.23 Q314.51,553.44 314,553.44 Q313.49,553.43 313.04,553.2 Q312.59,552.97 312.12,552.65 Q311.65,552.33 311.48,551.77 Q311.3,551.2 311.57,550.68 Q311.83,550.16 312.21,549.8 Q312.6,549.44 313.06,549.28 Q313.52,549.11 314.02,549.04 Q314.51,548.96 315.07,549.06 Q315.63,549.15 315.95,549.63 Q316.27,550.11 316.35,550.65 Z" fill="#858585" stroke="#c4c4c4" stroke-width="0.9"/>
<path d="M316.94,551.01 Q317.03,551.6 316.92,552.18 Q316.81,552.76 316.39,553.16 Q315.97,553.56 315.46,553.8 Q314.95,554.03 314.4,554.02 Q313.85,554.02 313.36,553.77 Q312.87,553.52 312.36,553.17 Q311.85,552.83 311.67,552.21 Q311.48,551.6 311.77,551.03 Q312.05,550.47 312.47,550.08 Q312.88,549.69 313.38,549.52 Q313.88,549.34 314.42,549.26 Q314.95,549.18 315.56,549.28 Q316.17,549.38 316.51,549.9 Q316.86,550.42 316.94,551.01 Z" fill="none" stroke="#484848" stroke-width="0.8" stroke-dasharray="1.6 1.4"/>
<path d="M315.37,551.14 Q315.48,551.4 315.34,551.64 Q315.2,551.88 315.02,552.04 Q314.83,552.19 314.64,552.36 Q314.46,552.52 314.19,552.57 Q313.92,552.62 313.61,552.57 Q313.31,552.52 313.13,552.26 Q312.96,552 313.06,551.7 Q313.17,551.4 313.23,551.18 Q313.29,550.96 313.39,550.74 Q313.5,550.52 313.71,550.37 Q313.93,550.22 314.22,550.15 Q314.5,550.08 314.75,550.24 Q314.99,550.41 315.13,550.65 Q315.27,550.88 315.37,551.14 Z" fill="none" stroke="#aaa" stroke-width="0.7" stroke-dasharray="1.2 0.9"/>
<path d="M323.97,565.87 Q324.2,565.2 324.82,565.06 Q325.43,564.93 326.15,565.08 Q326.88,565.23 327.41,565.93 Q327.94,566.63 328.05,567.48 Q328.16,568.32 328.28,569.13 Q328.4,569.94 327.93,570.43 Q327.47,570.92 326.89,570.97 Q326.32,571.02 325.84,571.43 Q325.37,571.83 324.66,571.77 Q323.95,571.71 323.26,571.15 Q322.57,570.58 322.3,569.65 Q322.03,568.71 322.59,568.07 Q323.16,567.42 323.44,566.98 Q323.73,566.55 323.97,565.87 Z" fill="none" stroke="#454545" stroke-width="0.8"/>
<path d="M323.74,565.66 Q323.93,565.07 324.46,564.95 Q324.99,564.84 325.61,564.98 Q326.24,565.12 326.7,565.75 Q327.17,566.37 327.27,567.12 Q327.37,567.87 327.48,568.59 Q327.59,569.31 327.2,569.74 Q326.81,570.16 326.31,570.2 Q325.82,570.24 325.41,570.59 Q325.01,570.94 324.4,570.89 Q323.79,570.83 323.19,570.32 Q322.59,569.81 322.34,568.98 Q322.1,568.16 322.58,567.59 Q323.06,567.02 323.3,566.64 Q323.54,566.26 323.74,565.66 Z" fill="#8e8e8e" stroke="#d8d8d8" stroke-width="0.9"/>
<path d="M325.43,566.36 Q325.66,566.53 325.79,566.74 Q325.91,566.95 326.09,567.1 Q326.27,567.26 326.27,567.56 Q326.28,567.86 326.17,568.15 Q326.05,568.44 325.9,568.75 Q325.74,569.06 325.47,569.18 Q325.2,569.31 324.93,569.29 Q324.66,569.27 324.5,569.06 Q324.33,568.84 324.37,568.52 Q324.4,568.2 324.33,567.98 Q324.25,567.75 324.23,567.4 Q324.21,567.05 324.42,566.76 Q324.63,566.48 324.92,566.34 Q325.2,566.2 325.43,566.36 Z" fill="#d0d0d0" stroke="#5a5a5a" stroke-width="0.5"/>
<path d="M326.42,565.32 Q325.91,565.3 325.65,564.75 Q325.39,564.2 325.13,563.89 Q324.87,563.59 324.37,563.18 Q323.86,562.78 323.91,562.04 Q323.97,561.3 324.37,560.72 Q324.78,560.15 325.34,560 Q325.9,559.86 326.33,560.13 Q326.77,560.4 327.22,560.39 Q327.67,560.37 328.05,560.71 Q328.44,561.05 328.47,561.66 Q328.5,562.27 328.56,562.93 Q328.61,563.59 328.3,564.2 Q327.99,564.81 327.47,565.08 Q326.94,565.34 326.42,565.32 Z" fill="none" stroke="#454545" stroke-width="0.8"/>
<path d="M326,564.41 Q325.58,564.4 325.37,563.93 Q325.16,563.46 324.95,563.2 Q324.74,562.94 324.33,562.6 Q323.92,562.25 323.97,561.62 Q324.01,560.99 324.35,560.49 Q324.69,560 325.15,559.87 Q325.61,559.74 325.96,559.97 Q326.32,560.2 326.68,560.19 Q327.05,560.17 327.37,560.46 Q327.68,560.74 327.7,561.27 Q327.72,561.79 327.76,562.35 Q327.81,562.92 327.55,563.44 Q327.29,563.97 326.86,564.2 Q326.42,564.43 326,564.41 Z" fill="#8e8e8e" stroke="#d8d8d8" stroke-width="0.9"/>
<path d="M325.49,562.6 Q325.25,562.6 325.21,562.39 Q325.16,562.18 325.2,561.96 Q325.24,561.75 325.34,561.53 Q325.45,561.31 325.67,561.19 Q325.89,561.07 326.1,561.01 Q326.3,560.95 326.48,560.99 Q326.65,561.02 326.78,561.11 Q326.91,561.2 327.13,561.29 Q327.34,561.38 327.35,561.62 Q327.35,561.87 327.13,562.06 Q326.91,562.26 326.7,562.38 Q326.49,562.49 326.3,562.5 Q326.12,562.52 325.92,562.56 Q325.73,562.6 325.49,562.6 Z" fill="#d0d0d0" stroke="#5a5a5a" stroke-width="0.5"/>
<path d="M330.91,573.58 Q331.08,574 331.12,574.52 Q331.15,575.04 330.83,575.46 Q330.5,575.88 330.01,576.08 Q329.52,576.28 329.03,576.16 Q328.53,576.05 328.17,575.77 Q327.8,575.5 327.42,575.22 Q327.05,574.94 326.89,574.47 Q326.74,574 326.86,573.52 Q326.99,573.03 327.27,572.61 Q327.55,572.18 328.02,571.99 Q328.5,571.8 329,571.82 Q329.49,571.84 329.92,572.07 Q330.35,572.3 330.55,572.73 Q330.75,573.16 330.91,573.58 Z" fill="#858585" stroke="#c4c4c4" stroke-width="0.9"/>
<path d="M331.49,573.94 Q331.67,574.4 331.71,574.97 Q331.75,575.53 331.39,575.99 Q331.03,576.45 330.5,576.67 Q329.97,576.89 329.43,576.76 Q328.89,576.63 328.49,576.34 Q328.09,576.04 327.68,575.73 Q327.27,575.43 327.1,574.91 Q326.93,574.4 327.07,573.87 Q327.21,573.35 327.51,572.88 Q327.82,572.41 328.33,572.21 Q328.85,572 329.39,572.02 Q329.94,572.05 330.41,572.3 Q330.88,572.55 331.09,573.01 Q331.31,573.48 331.49,573.94 Z" fill="none" stroke="#484848" stroke-width="0.8" stroke-dasharray="1.6 1.4"/>
<path d="M330.25,573.97 Q330.36,574.2 330.35,574.47 Q330.34,574.75 330.15,574.95 Q329.96,575.15 329.69,575.17 Q329.43,575.19 329.19,575.21 Q328.96,575.24 328.75,575.14 Q328.53,575.04 328.43,574.83 Q328.33,574.62 328.22,574.41 Q328.12,574.2 328.13,573.95 Q328.14,573.69 328.29,573.46 Q328.43,573.23 328.67,573.1 Q328.92,572.97 329.17,573.1 Q329.42,573.24 329.57,573.39 Q329.73,573.53 329.94,573.64 Q330.14,573.75 330.25,573.97 Z" fill="none" stroke="#aaa" stroke-width="0.7" stroke-dasharray="1.2 0.9"/>
<path d="M342.68,567.38 Q342.79,568 342.76,568.66 Q342.72,569.31 342.32,569.86 Q341.92,570.41 341.3,570.67 Q340.67,570.92 339.97,571.04 Q339.28,571.15 338.65,570.81 Q338.03,570.47 337.74,569.85 Q337.46,569.22 337.35,568.61 Q337.24,568 337.38,567.4 Q337.52,566.81 337.8,566.2 Q338.08,565.59 338.66,565.12 Q339.23,564.65 339.97,564.79 Q340.7,564.94 341.24,565.35 Q341.79,565.76 342.18,566.26 Q342.56,566.76 342.68,567.38 Z" fill="#858585" stroke="#c4c4c4" stroke-width="0.9"/>
<path d="M343.26,567.74 Q343.38,568.4 343.34,569.1 Q343.31,569.8 342.88,570.39 Q342.45,570.97 341.78,571.24 Q341.11,571.51 340.37,571.64 Q339.63,571.76 338.96,571.4 Q338.3,571.04 337.99,570.37 Q337.69,569.71 337.57,569.05 Q337.45,568.4 337.6,567.76 Q337.75,567.13 338.05,566.48 Q338.35,565.83 338.97,565.33 Q339.58,564.82 340.36,564.98 Q341.14,565.14 341.73,565.57 Q342.31,566.01 342.72,566.54 Q343.14,567.08 343.26,567.74 Z" fill="none" stroke="#484848" stroke-width="0.8" stroke-dasharray="1.6 1.4"/>
<path d="M341.67,567.89 Q341.87,568.2 341.83,568.58 Q341.79,568.96 341.45,569.16 Q341.12,569.35 340.82,569.48 Q340.52,569.62 340.2,569.63 Q339.87,569.65 339.62,569.45 Q339.37,569.24 339.14,569.03 Q338.92,568.82 338.81,568.51 Q338.71,568.2 338.73,567.85 Q338.75,567.5 338.91,567.14 Q339.07,566.78 339.46,566.74 Q339.86,566.7 340.16,566.85 Q340.47,567.01 340.74,567.1 Q341.01,567.18 341.24,567.39 Q341.48,567.59 341.67,567.89 Z" fill="none" stroke="#aaa" stroke-width="0.7" stroke-dasharray="1.2 0.9"/>
<path d="M297.1,541.1 L291.66,538.8 L291.66,543.4 Z" fill="#000"/>
<path d="M341.3,538.42 L338.99,532.99 L335.79,536.3 Z" fill="#000"/>
<path d="M329,550.72 L334.31,548.12 L330.83,545.1 Z" fill="#000"/>
<path d="M340.78,559.7 L346.21,557.39 L342.9,554.19 Z" fill="#000"/>
<path d="M312.46,556.54 L306.99,558.76 L310.24,562.01 Z" fill="#000"/>
<path d="M318.86,572.85 L313.6,575.54 L317.12,578.49 Z" fill="#000"/>
<path d="M323.06,583.24 L317.59,585.46 L320.84,588.71 Z" fill="#000"/>
<line x1="333.9" y1="586.2" x2="354.6" y2="586.2" stroke="#000" stroke-width="1.5"/>
</g>
<rect x="286.85" y="527.35" width="72.2" height="62.6" fill="none" stroke="#1e1e1e" stroke-width="1.4"/>
<clipPath id="clip11"><rect x="363.55" y="527.35" width="72.2" height="62.6"/></clipPath>
<g clip-path="url(#clip11)">
<rect x="363.55" y="527.35" width="72.2" height="62.6" fill="#797979"/>
<ellipse cx="425" cy="562" rx="12" ry="10" fill="url(#dk)"/>
<path d="M376.95,545.62 Q377.24,546.2 377.26,546.9 Q377.29,547.59 376.55,548 Q375.82,548.42 375.14,548.92 Q374.46,549.41 373.43,549.64 Q372.4,549.87 371.48,549.44 Q370.55,549.02 369.98,548.36 Q369.4,547.7 369.78,546.95 Q370.17,546.2 370.54,545.72 Q370.91,545.25 370.84,544.42 Q370.77,543.6 371.58,543.04 Q372.39,542.48 373.49,542.51 Q374.6,542.54 375.47,543.01 Q376.35,543.48 376.5,544.26 Q376.66,545.04 376.95,545.62 Z" fill="none" stroke="#454545" stroke-width="0.8"/>
<path d="M376.22,545.19 Q376.48,545.7 376.5,546.31 Q376.53,546.92 375.86,547.28 Q375.2,547.64 374.59,548.08 Q373.97,548.51 373.04,548.71 Q372.11,548.91 371.27,548.54 Q370.43,548.17 369.91,547.59 Q369.39,547.02 369.74,546.36 Q370.09,545.7 370.42,545.28 Q370.75,544.87 370.69,544.14 Q370.63,543.42 371.36,542.93 Q372.09,542.45 373.09,542.47 Q374.09,542.5 374.89,542.91 Q375.68,543.32 375.82,544 Q375.96,544.69 376.22,545.19 Z" fill="#8e8e8e" stroke="#d8d8d8" stroke-width="0.9"/>
<path d="M374.82,546.35 Q374.52,546.52 374.2,546.51 Q373.89,546.5 373.68,546.66 Q373.47,546.82 373.12,546.79 Q372.77,546.77 372.42,546.53 Q372.07,546.29 371.85,545.94 Q371.63,545.58 371.74,545.27 Q371.85,544.96 371.96,544.72 Q372.07,544.47 372.27,544.28 Q372.47,544.09 372.81,544.18 Q373.14,544.27 373.45,544.33 Q373.77,544.39 374.13,544.56 Q374.49,544.74 374.72,545.08 Q374.95,545.42 375.03,545.8 Q375.11,546.18 374.82,546.35 Z" fill="#d0d0d0" stroke="#5a5a5a" stroke-width="0.5"/>
<path d="M377.55,553.79 Q377.93,554.6 377.55,555.41 Q377.17,556.22 376.55,556.75 Q375.94,557.28 375.24,557.57 Q374.54,557.86 373.8,557.86 Q373.06,557.85 372.27,557.68 Q371.48,557.51 370.95,556.87 Q370.41,556.23 370.3,555.42 Q370.2,554.6 370.27,553.77 Q370.35,552.94 370.92,552.32 Q371.49,551.71 372.27,551.5 Q373.04,551.29 373.8,551.31 Q374.55,551.33 375.21,551.67 Q375.87,552.01 376.52,552.49 Q377.16,552.98 377.55,553.79 Z" fill="#858585" stroke="#c4c4c4" stroke-width="0.9"/>
<path d="M378.16,554.14 Q378.56,555 378.16,555.86 Q377.76,556.71 377.11,557.27 Q376.46,557.83 375.72,558.13 Q374.99,558.44 374.2,558.44 Q373.42,558.43 372.59,558.25 Q371.75,558.07 371.19,557.39 Q370.62,556.72 370.51,555.86 Q370.4,555 370.48,554.12 Q370.56,553.25 371.16,552.59 Q371.76,551.94 372.58,551.73 Q373.4,551.51 374.2,551.53 Q374.99,551.54 375.69,551.9 Q376.38,552.26 377.07,552.78 Q377.75,553.29 378.16,554.14 Z" fill="none" stroke="#484848" stroke-width="0.8" stroke-dasharray="1.6 1.4"/>
<path d="M375.97,554.35 Q376.05,554.8 375.75,555.15 Q375.44,555.49 375.2,555.74 Q374.95,555.99 374.67,556.26 Q374.4,556.53 374,556.52 Q373.61,556.51 373.22,556.38 Q372.84,556.26 372.54,555.95 Q372.24,555.65 372.18,555.22 Q372.13,554.8 372.18,554.38 Q372.24,553.95 372.59,553.71 Q372.94,553.47 373.31,553.45 Q373.69,553.44 374.03,553.3 Q374.38,553.15 374.8,553.21 Q375.23,553.26 375.55,553.58 Q375.88,553.89 375.97,554.35 Z" fill="none" stroke="#aaa" stroke-width="0.7" stroke-dasharray="1.2 0.9"/>
<path d="M384.46,561.23 Q384.42,562 384.4,562.74 Q384.37,563.48 384.03,564.23 Q383.68,564.98 382.93,565.4 Q382.17,565.83 381.3,565.82 Q380.43,565.82 379.8,565.25 Q379.16,564.68 378.78,564.04 Q378.41,563.39 378.07,562.7 Q377.74,562 377.91,561.22 Q378.08,560.45 378.55,559.8 Q379.03,559.16 379.74,558.72 Q380.45,558.29 381.29,558.34 Q382.12,558.4 382.88,558.73 Q383.64,559.07 384.07,559.76 Q384.5,560.46 384.46,561.23 Z" fill="#858585" stroke="#c4c4c4" stroke-width="0.9"/>
<path d="M385.04,561.59 Q384.99,562.4 384.97,563.18 Q384.94,563.96 384.58,564.76 Q384.21,565.55 383.42,565.99 Q382.62,566.44 381.7,566.43 Q380.78,566.43 380.11,565.83 Q379.44,565.23 379.04,564.55 Q378.64,563.87 378.29,563.14 Q377.94,562.4 378.12,561.58 Q378.3,560.76 378.8,560.08 Q379.31,559.4 380.06,558.94 Q380.81,558.48 381.69,558.54 Q382.57,558.6 383.37,558.95 Q384.17,559.31 384.62,560.04 Q385.08,560.77 385.04,561.59 Z" fill="none" stroke="#484848" stroke-width="0.8" stroke-dasharray="1.6 1.4"/>
<path d="M383.32,561.77 Q383.34,562.2 383.26,562.61 Q383.18,563.01 382.87,563.27 Q382.55,563.52 382.22,563.68 Q381.88,563.85 381.5,563.85 Q381.12,563.85 380.81,563.66 Q380.49,563.46 380.1,563.26 Q379.7,563.07 379.51,562.63 Q379.32,562.2 379.57,561.8 Q379.82,561.39 380.15,561.15 Q380.47,560.91 380.82,560.84 Q381.17,560.77 381.52,560.71 Q381.86,560.64 382.32,560.61 Q382.78,560.59 383.04,560.96 Q383.3,561.34 383.32,561.77 Z" fill="none" stroke="#aaa" stroke-width="0.7" stroke-dasharray="1.2 0.9"/>
<path d="M372.71,562.48 Q372.75,563 372.8,563.56 Q372.85,564.13 372.56,564.68 Q372.28,565.24 371.69,565.44 Q371.1,565.65 370.5,565.63 Q369.9,565.61 369.41,565.3 Q368.91,564.99 368.6,564.53 Q368.28,564.07 368.1,563.53 Q367.92,563 368.1,562.47 Q368.28,561.93 368.6,561.47 Q368.92,561.01 369.39,560.61 Q369.86,560.2 370.49,560.23 Q371.12,560.27 371.63,560.61 Q372.13,560.95 372.4,561.45 Q372.68,561.95 372.71,562.48 Z" fill="#858585" stroke="#c4c4c4" stroke-width="0.9"/>
<path d="M373.28,562.84 Q373.32,563.4 373.38,564.01 Q373.43,564.62 373.12,565.21 Q372.82,565.81 372.19,566.03 Q371.55,566.25 370.9,566.23 Q370.26,566.21 369.73,565.88 Q369.19,565.54 368.85,565.05 Q368.51,564.55 368.32,563.97 Q368.12,563.4 368.32,562.83 Q368.51,562.25 368.85,561.76 Q369.19,561.26 369.7,560.82 Q370.21,560.39 370.89,560.42 Q371.57,560.46 372.12,560.83 Q372.66,561.19 372.95,561.73 Q373.24,562.27 373.28,562.84 Z" fill="none" stroke="#484848" stroke-width="0.8" stroke-dasharray="1.6 1.4"/>
<path d="M372.1,562.87 Q372.11,563.2 372.01,563.49 Q371.91,563.78 371.68,563.95 Q371.44,564.12 371.2,564.23 Q370.96,564.33 370.68,564.41 Q370.41,564.48 370.17,564.32 Q369.94,564.16 369.73,563.96 Q369.53,563.76 369.36,563.48 Q369.19,563.2 369.31,562.89 Q369.42,562.58 369.65,562.38 Q369.89,562.18 370.17,562.14 Q370.45,562.1 370.69,562.16 Q370.93,562.21 371.23,562.18 Q371.54,562.15 371.81,562.34 Q372.09,562.53 372.1,562.87 Z" fill="none" stroke="#aaa" stroke-width="0.7" stroke-dasharray="1.2 0.9"/>
<path d="M406.96,570.43 Q407.12,569.71 407.59,568.92 Q408.05,568.13 409.04,568.56 Q410.02,568.99 410.59,569.9 Q411.16,570.81 411.62,571.37 Q412.08,571.93 412.38,572.59 Q412.68,573.24 413.01,574.1 Q413.33,574.95 413.13,575.79 Q412.92,576.62 412.03,576.59 Q411.14,576.57 410.37,576.49 Q409.6,576.42 408.82,576.01 Q408.04,575.61 407.71,574.77 Q407.39,573.93 407.13,573.24 Q406.86,572.55 406.83,571.85 Q406.79,571.15 406.96,570.43 Z" fill="none" stroke="#454545" stroke-width="0.8"/>
<path d="M406.86,570.17 Q406.99,569.53 407.38,568.83 Q407.78,568.14 408.66,568.54 Q409.53,568.94 410.05,569.75 Q410.56,570.57 410.98,571.07 Q411.39,571.58 411.66,572.16 Q411.94,572.75 412.24,573.51 Q412.54,574.28 412.38,575.01 Q412.21,575.75 411.43,575.71 Q410.64,575.67 409.96,575.59 Q409.28,575.52 408.59,575.14 Q407.89,574.77 407.59,574.02 Q407.3,573.27 407.05,572.66 Q406.81,572.04 406.77,571.42 Q406.72,570.8 406.86,570.17 Z" fill="#8e8e8e" stroke="#d8d8d8" stroke-width="0.9"/>
<path d="M409.32,570.55 Q409.6,570.52 409.84,570.67 Q410.08,570.82 410.26,571.04 Q410.44,571.27 410.47,571.59 Q410.51,571.91 410.62,572.23 Q410.73,572.56 410.74,573.01 Q410.75,573.47 410.47,573.67 Q410.18,573.88 409.89,573.85 Q409.6,573.83 409.39,573.63 Q409.17,573.43 409.03,573.21 Q408.88,572.99 408.65,572.78 Q408.41,572.58 408.38,572.19 Q408.34,571.8 408.5,571.48 Q408.66,571.17 408.85,570.88 Q409.04,570.58 409.32,570.55 Z" fill="#d0d0d0" stroke="#5a5a5a" stroke-width="0.5"/>
<path d="M432.62,583.15 Q433.07,584 432.41,584.77 Q431.75,585.54 431.07,586.12 Q430.39,586.7 429.43,586.84 Q428.48,586.97 427.61,586.95 Q426.73,586.93 425.81,586.78 Q424.89,586.63 424.47,585.97 Q424.05,585.32 423.5,584.66 Q422.95,584 422.74,583.06 Q422.53,582.11 423.57,581.61 Q424.61,581.1 425.66,581.04 Q426.71,580.99 427.53,581.22 Q428.35,581.46 429.03,581.7 Q429.72,581.95 430.95,582.12 Q432.18,582.3 432.62,583.15 Z" fill="none" stroke="#454545" stroke-width="0.8"/>
<path d="M431.77,582.75 Q432.17,583.5 431.57,584.18 Q430.97,584.86 430.35,585.37 Q429.73,585.88 428.87,586 Q428,586.12 427.2,586.11 Q426.41,586.09 425.57,585.95 Q424.74,585.82 424.36,585.24 Q423.98,584.66 423.47,584.08 Q422.97,583.5 422.78,582.67 Q422.59,581.83 423.53,581.39 Q424.48,580.94 425.44,580.89 Q426.39,580.84 427.14,581.05 Q427.88,581.26 428.5,581.47 Q429.12,581.69 430.24,581.84 Q431.36,582 431.77,582.75 Z" fill="#8e8e8e" stroke="#d8d8d8" stroke-width="0.9"/>
<path d="M428.99,584.23 Q428.87,584.53 428.6,584.72 Q428.34,584.91 427.94,584.73 Q427.55,584.55 427.26,584.42 Q426.98,584.29 426.6,584.18 Q426.23,584.06 425.94,583.73 Q425.66,583.4 425.53,582.98 Q425.41,582.57 425.67,582.32 Q425.93,582.07 426.33,582.1 Q426.72,582.13 426.98,582.03 Q427.24,581.94 427.58,582 Q427.93,582.06 428.24,582.31 Q428.54,582.56 428.82,582.88 Q429.1,583.2 429.11,583.57 Q429.11,583.93 428.99,584.23 Z" fill="#d0d0d0" stroke="#5a5a5a" stroke-width="0.5"/>
<path d="M429.91,531.09 Q430.09,531.7 429.82,532.27 Q429.55,532.83 429.16,533.25 Q428.77,533.67 428.3,534.05 Q427.82,534.44 427.18,534.52 Q426.54,534.59 425.9,534.37 Q425.25,534.14 424.91,533.56 Q424.56,532.97 424.64,532.34 Q424.72,531.7 424.8,531.14 Q424.88,530.58 425.17,530.05 Q425.46,529.52 426.02,529.23 Q426.57,528.93 427.22,528.86 Q427.87,528.79 428.43,529.12 Q428.99,529.45 429.36,529.97 Q429.73,530.48 429.91,531.09 Z" fill="#858585" stroke="#c4c4c4" stroke-width="0.9"/>
<path d="M430.5,531.45 Q430.7,532.1 430.41,532.71 Q430.12,533.31 429.7,533.76 Q429.28,534.21 428.78,534.62 Q428.27,535.03 427.58,535.12 Q426.89,535.2 426.2,534.96 Q425.51,534.71 425.14,534.09 Q424.77,533.46 424.85,532.78 Q424.94,532.1 425.03,531.5 Q425.12,530.9 425.43,530.33 Q425.74,529.77 426.33,529.45 Q426.92,529.13 427.62,529.05 Q428.31,528.98 428.92,529.33 Q429.52,529.69 429.91,530.24 Q430.31,530.8 430.5,531.45 Z" fill="none" stroke="#484848" stroke-width="0.8" stroke-dasharray="1.6 1.4"/>
<path d="M428.54,531.64 Q428.6,531.9 428.64,532.21 Q428.67,532.51 428.55,532.85 Q428.43,533.19 428.08,533.26 Q427.73,533.33 427.41,533.29 Q427.09,533.26 426.8,533.14 Q426.5,533.03 426.37,532.74 Q426.24,532.46 426.18,532.18 Q426.12,531.9 426.16,531.61 Q426.21,531.33 426.38,531.08 Q426.54,530.82 426.78,530.54 Q427.03,530.26 427.39,530.29 Q427.76,530.32 427.98,530.61 Q428.19,530.91 428.34,531.14 Q428.48,531.38 428.54,531.64 Z" fill="none" stroke="#aaa" stroke-width="0.7" stroke-dasharray="1.2 0.9"/>
<path d="M397.7,555.37 Q397.76,556 397.49,556.53 Q397.22,557.07 396.9,557.53 Q396.58,557.99 396.07,558.21 Q395.56,558.43 395,558.43 Q394.45,558.43 393.9,558.24 Q393.36,558.06 393,557.6 Q392.64,557.14 392.42,556.57 Q392.2,556 392.32,555.38 Q392.44,554.77 392.96,554.43 Q393.49,554.1 393.99,553.92 Q394.49,553.74 395.02,553.67 Q395.55,553.61 396.1,553.77 Q396.65,553.94 397.14,554.33 Q397.63,554.73 397.7,555.37 Z" fill="#858585" stroke="#c4c4c4" stroke-width="0.9"/>
<path d="M398.3,555.72 Q398.37,556.4 398.08,556.98 Q397.79,557.55 397.45,558.04 Q397.1,558.54 396.55,558.78 Q396,559.02 395.4,559.02 Q394.8,559.01 394.22,558.82 Q393.63,558.62 393.24,558.12 Q392.86,557.63 392.62,557.01 Q392.39,556.4 392.52,555.74 Q392.65,555.07 393.21,554.71 Q393.77,554.35 394.31,554.16 Q394.85,553.97 395.42,553.9 Q395.99,553.82 396.58,554 Q397.17,554.18 397.7,554.61 Q398.24,555.03 398.3,555.72 Z" fill="none" stroke="#484848" stroke-width="0.8" stroke-dasharray="1.6 1.4"/>
<path d="M396.24,555.97 Q396.32,556.2 396.4,556.51 Q396.48,556.82 396.31,557.09 Q396.13,557.37 395.83,557.51 Q395.53,557.65 395.23,557.54 Q394.92,557.43 394.74,557.22 Q394.55,557.01 394.33,556.87 Q394.1,556.73 393.98,556.47 Q393.87,556.2 393.94,555.92 Q394.02,555.63 394.17,555.36 Q394.31,555.09 394.6,554.98 Q394.9,554.87 395.2,554.88 Q395.5,554.89 395.76,555.03 Q396.02,555.17 396.09,555.46 Q396.15,555.74 396.24,555.97 Z" fill="none" stroke="#aaa" stroke-width="0.7" stroke-dasharray="1.2 0.9"/>
<path d="M370.76,540.06 L368.54,534.59 L365.29,537.84 Z" fill="#fff"/>
<path d="M401.96,534.36 L399.74,528.89 L396.49,532.14 Z" fill="#000"/>
<path d="M393.06,545.85 L391.32,540.21 L387.8,543.16 Z" fill="#000"/>
<path d="M427.9,540.9 L425.6,546.34 L430.2,546.34 Z" fill="#000"/>
<path d="M373,568 L370.7,573.44 L375.3,573.44 Z" fill="#000"/>
<path d="M399.84,563.14 L402.06,568.61 L405.31,565.36 Z" fill="#000"/>
<path d="M413.06,568.42 L418.07,565.28 L414.3,562.65 Z" fill="#fff"/>
<path d="M388.24,568.64 L390.46,574.11 L393.71,570.86 Z" fill="#fff"/>
<path d="M389.1,578.8 L383.66,576.5 L383.66,581.1 Z" fill="#000"/>
<path d="M428.26,579.32 L433.27,576.18 L429.5,573.55 Z" fill="#fff"/>
</g>
<rect x="363.55" y="527.35" width="72.2" height="62.6" fill="none" stroke="#1e1e1e" stroke-width="1.4"/>
<clipPath id="clip12"><rect x="440.25" y="527.35" width="72.2" height="62.6"/></clipPath>
<g clip-path="url(#clip12)">
<rect x="440.25" y="527.35" width="72.2" height="62.6" fill="#7a7a7a"/>
<path d="M450.4,539.69 Q450.03,540.38 449.6,540.99 Q449.17,541.6 448.66,541.93 Q448.16,542.25 447.71,542.33 Q447.26,542.4 446.9,542.26 Q446.53,542.12 446.38,541.67 Q446.24,541.21 446.21,540.61 Q446.18,540.01 446.47,539.25 Q446.76,538.49 447.31,537.99 Q447.86,537.48 448.34,537.2 Q448.82,536.91 449.26,536.8 Q449.7,536.68 450.08,536.78 Q450.47,536.88 450.76,537.22 Q451.05,537.57 450.92,538.29 Q450.78,539 450.4,539.69 Z" fill="#858585" stroke="#c4c4c4" stroke-width="0.9"/>
<path d="M450.99,540.15 Q450.6,540.88 450.14,541.52 Q449.68,542.16 449.13,542.5 Q448.59,542.84 448.1,542.91 Q447.61,542.98 447.2,542.83 Q446.8,542.67 446.63,542.18 Q446.46,541.68 446.41,541.04 Q446.36,540.39 446.66,539.59 Q446.97,538.78 447.56,538.25 Q448.15,537.73 448.67,537.43 Q449.2,537.13 449.68,537.02 Q450.16,536.91 450.58,537.02 Q451,537.14 451.33,537.51 Q451.66,537.89 451.53,538.65 Q451.39,539.42 450.99,540.15 Z" fill="none" stroke="#484848" stroke-width="0.8" stroke-dasharray="1.6 1.4"/>
<path d="M449.67,539.81 Q449.5,540.16 449.25,540.42 Q449.01,540.67 448.77,540.88 Q448.53,541.09 448.32,541.08 Q448.11,541.07 447.95,540.99 Q447.79,540.91 447.58,540.81 Q447.37,540.7 447.41,540.34 Q447.45,539.97 447.67,539.6 Q447.89,539.23 448.14,538.99 Q448.39,538.74 448.62,538.66 Q448.84,538.59 449.08,538.42 Q449.32,538.25 449.58,538.22 Q449.84,538.18 449.88,538.48 Q449.93,538.77 449.88,539.11 Q449.83,539.45 449.67,539.81 Z" fill="none" stroke="#aaa" stroke-width="0.7" stroke-dasharray="1.2 0.9"/>
<path d="M474.6,539.18 Q474.85,539.8 474.65,540.44 Q474.45,541.08 473.91,541.43 Q473.38,541.78 472.87,542.02 Q472.36,542.27 471.78,542.35 Q471.2,542.43 470.58,542.26 Q469.96,542.1 469.45,541.64 Q468.94,541.18 468.94,540.49 Q468.94,539.8 469.19,539.23 Q469.44,538.66 469.77,538.17 Q470.1,537.67 470.65,537.44 Q471.21,537.2 471.81,537.16 Q472.41,537.11 473,537.33 Q473.59,537.56 473.97,538.06 Q474.36,538.57 474.6,539.18 Z" fill="#858585" stroke="#c4c4c4" stroke-width="0.9"/>
<path d="M475.2,539.54 Q475.47,540.2 475.25,540.88 Q475.04,541.57 474.47,541.94 Q473.89,542.32 473.35,542.58 Q472.8,542.85 472.18,542.93 Q471.56,543.01 470.9,542.84 Q470.23,542.67 469.68,542.17 Q469.13,541.68 469.14,540.94 Q469.14,540.2 469.41,539.59 Q469.67,538.98 470.03,538.45 Q470.38,537.92 470.97,537.67 Q471.56,537.42 472.21,537.37 Q472.86,537.32 473.49,537.56 Q474.12,537.8 474.53,538.34 Q474.94,538.88 475.2,539.54 Z" fill="none" stroke="#484848" stroke-width="0.8" stroke-dasharray="1.6 1.4"/>
<path d="M473.16,539.74 Q473.25,540 473.31,540.33 Q473.38,540.66 473.21,540.98 Q473.04,541.3 472.68,541.34 Q472.31,541.38 472,541.36 Q471.69,541.34 471.42,541.21 Q471.14,541.08 471,540.81 Q470.87,540.55 470.76,540.27 Q470.66,540 470.72,539.71 Q470.78,539.41 470.94,539.14 Q471.1,538.87 471.36,538.6 Q471.62,538.34 471.98,538.44 Q472.33,538.54 472.54,538.8 Q472.75,539.06 472.91,539.27 Q473.07,539.48 473.16,539.74 Z" fill="none" stroke="#aaa" stroke-width="0.7" stroke-dasharray="1.2 0.9"/>
<path d="M482.07,545.76 Q482.09,546.5 481.74,547.08 Q481.39,547.65 481.06,548.16 Q480.74,548.68 480.19,549.02 Q479.65,549.36 478.98,549.44 Q478.31,549.53 477.64,549.28 Q476.98,549.04 476.63,548.42 Q476.28,547.81 476.13,547.15 Q475.98,546.5 476.11,545.83 Q476.23,545.17 476.75,544.75 Q477.28,544.34 477.83,544.06 Q478.38,543.79 479.02,543.69 Q479.66,543.59 480.32,543.81 Q480.97,544.03 481.51,544.53 Q482.06,545.03 482.07,545.76 Z" fill="#858585" stroke="#c4c4c4" stroke-width="0.9"/>
<path d="M482.68,546.11 Q482.7,546.9 482.32,547.51 Q481.95,548.13 481.6,548.68 Q481.25,549.22 480.67,549.59 Q480.1,549.95 479.38,550.04 Q478.66,550.13 477.95,549.87 Q477.24,549.61 476.87,548.95 Q476.5,548.3 476.34,547.6 Q476.18,546.9 476.31,546.19 Q476.45,545.48 477,545.04 Q477.56,544.59 478.15,544.3 Q478.74,544.01 479.42,543.9 Q480.11,543.79 480.8,544.03 Q481.5,544.27 482.08,544.8 Q482.66,545.33 482.68,546.11 Z" fill="none" stroke="#484848" stroke-width="0.8" stroke-dasharray="1.6 1.4"/>
<path d="M480.68,546.39 Q480.85,546.7 480.8,547.07 Q480.74,547.44 480.43,547.65 Q480.12,547.85 479.83,548.01 Q479.54,548.18 479.2,548.18 Q478.86,548.17 478.63,547.94 Q478.39,547.72 478.17,547.51 Q477.96,547.3 477.83,547 Q477.7,546.7 477.71,546.34 Q477.71,545.98 477.88,545.63 Q478.06,545.27 478.46,545.25 Q478.87,545.24 479.17,545.38 Q479.47,545.52 479.75,545.59 Q480.03,545.66 480.27,545.87 Q480.5,546.07 480.68,546.39 Z" fill="none" stroke="#aaa" stroke-width="0.7" stroke-dasharray="1.2 0.9"/>
<path d="M510.6,546.05 Q510.5,546.8 510.32,547.41 Q510.14,548.02 509.86,548.65 Q509.58,549.28 508.96,549.65 Q508.34,550.02 507.58,550.1 Q506.83,550.18 506.17,549.8 Q505.52,549.41 505.17,548.77 Q504.83,548.13 504.61,547.47 Q504.39,546.8 504.6,546.13 Q504.8,545.45 505.29,544.98 Q505.78,544.51 506.33,544.1 Q506.89,543.69 507.62,543.6 Q508.35,543.52 509.06,543.79 Q509.78,544.07 510.24,544.69 Q510.7,545.31 510.6,546.05 Z" fill="#858585" stroke="#c4c4c4" stroke-width="0.9"/>
<path d="M511.18,546.41 Q511.08,547.2 510.89,547.85 Q510.7,548.5 510.4,549.17 Q510.1,549.83 509.44,550.23 Q508.78,550.62 507.98,550.71 Q507.18,550.79 506.48,550.38 Q505.79,549.98 505.42,549.3 Q505.06,548.62 504.82,547.91 Q504.59,547.2 504.81,546.48 Q505.03,545.77 505.55,545.27 Q506.06,544.77 506.65,544.33 Q507.24,543.89 508.02,543.8 Q508.8,543.72 509.55,544.01 Q510.31,544.3 510.8,544.96 Q511.29,545.62 511.18,546.41 Z" fill="none" stroke="#484848" stroke-width="0.8" stroke-dasharray="1.6 1.4"/>
<path d="M509.42,546.59 Q509.34,547 509.24,547.32 Q509.14,547.64 508.96,547.94 Q508.78,548.23 508.45,548.32 Q508.12,548.41 507.79,548.46 Q507.46,548.5 507.11,548.4 Q506.77,548.3 506.51,548.02 Q506.25,547.75 506.08,547.37 Q505.91,547 506.13,546.65 Q506.36,546.3 506.69,546.16 Q507.02,546.02 507.25,545.82 Q507.49,545.63 507.82,545.54 Q508.15,545.45 508.54,545.52 Q508.93,545.58 509.21,545.88 Q509.49,546.18 509.42,546.59 Z" fill="none" stroke="#aaa" stroke-width="0.7" stroke-dasharray="1.2 0.9"/>
<path d="M508.07,553.95 Q508.46,554.6 508.36,555.39 Q508.27,556.17 507.72,556.75 Q507.18,557.33 506.48,557.7 Q505.79,558.07 505.02,557.99 Q504.25,557.9 503.59,557.54 Q502.94,557.18 502.47,556.61 Q502.01,556.04 501.96,555.32 Q501.91,554.6 501.95,553.87 Q501.98,553.15 502.31,552.39 Q502.63,551.63 503.41,551.33 Q504.18,551.02 504.98,551.13 Q505.77,551.23 506.36,551.7 Q506.95,552.16 507.31,552.73 Q507.68,553.31 508.07,553.95 Z" fill="#858585" stroke="#c4c4c4" stroke-width="0.9"/>
<path d="M508.65,554.32 Q509.06,555 508.96,555.83 Q508.86,556.67 508.28,557.28 Q507.7,557.89 506.97,558.28 Q506.24,558.67 505.42,558.58 Q504.6,558.5 503.91,558.12 Q503.22,557.74 502.73,557.13 Q502.23,556.52 502.18,555.76 Q502.13,555 502.17,554.23 Q502.2,553.46 502.55,552.66 Q502.89,551.86 503.72,551.54 Q504.54,551.21 505.37,551.32 Q506.21,551.44 506.84,551.92 Q507.46,552.41 507.85,553.02 Q508.24,553.63 508.65,554.32 Z" fill="none" stroke="#484848" stroke-width="0.8" stroke-dasharray="1.6 1.4"/>
<path d="M506.86,554.4 Q506.87,554.8 506.77,555.16 Q506.68,555.51 506.42,555.77 Q506.17,556.02 505.84,556.11 Q505.52,556.19 505.16,556.38 Q504.8,556.56 504.36,556.48 Q503.92,556.4 503.72,556.01 Q503.53,555.61 503.53,555.2 Q503.53,554.8 503.73,554.5 Q503.94,554.19 504.12,553.93 Q504.3,553.67 504.55,553.34 Q504.79,553 505.2,553.01 Q505.61,553.02 505.96,553.22 Q506.3,553.42 506.58,553.71 Q506.85,554 506.86,554.4 Z" fill="none" stroke="#aaa" stroke-width="0.7" stroke-dasharray="1.2 0.9"/>
<path d="M473.81,559.84 Q474.07,560.5 473.84,561.17 Q473.6,561.85 473.16,562.38 Q472.73,562.92 472.09,563.15 Q471.46,563.38 470.81,563.34 Q470.16,563.29 469.56,563.05 Q468.96,562.81 468.62,562.26 Q468.28,561.71 468.06,561.11 Q467.85,560.5 467.82,559.78 Q467.79,559.05 468.29,558.51 Q468.79,557.98 469.46,557.77 Q470.13,557.56 470.77,557.69 Q471.41,557.81 471.92,558.13 Q472.43,558.46 472.99,558.82 Q473.54,559.18 473.81,559.84 Z" fill="#858585" stroke="#c4c4c4" stroke-width="0.9"/>
<path d="M474.41,560.2 Q474.69,560.9 474.44,561.62 Q474.18,562.34 473.72,562.91 Q473.26,563.48 472.58,563.73 Q471.9,563.97 471.21,563.92 Q470.52,563.88 469.88,563.62 Q469.23,563.37 468.87,562.78 Q468.51,562.19 468.28,561.55 Q468.05,560.9 468.02,560.13 Q467.99,559.35 468.52,558.78 Q469.05,558.21 469.77,557.99 Q470.49,557.77 471.17,557.9 Q471.86,558.03 472.4,558.37 Q472.94,558.72 473.53,559.11 Q474.12,559.49 474.41,560.2 Z" fill="none" stroke="#484848" stroke-width="0.8" stroke-dasharray="1.6 1.4"/>
<path d="M472.44,560.36 Q472.45,560.7 472.24,560.95 Q472.04,561.2 471.94,561.48 Q471.84,561.75 471.61,562.06 Q471.38,562.37 471,562.37 Q470.62,562.36 470.3,562.17 Q469.97,561.99 469.84,561.65 Q469.71,561.32 469.72,561.01 Q469.73,560.7 469.7,560.38 Q469.67,560.06 469.87,559.8 Q470.08,559.55 470.38,559.42 Q470.68,559.3 471.02,559.19 Q471.37,559.08 471.7,559.24 Q472.04,559.4 472.23,559.71 Q472.43,560.01 472.44,560.36 Z" fill="none" stroke="#aaa" stroke-width="0.7" stroke-dasharray="1.2 0.9"/>
<path d="M473.96,566.67 Q474.1,567.2 474.02,567.76 Q473.93,568.32 473.53,568.73 Q473.14,569.13 472.67,569.49 Q472.2,569.84 471.58,569.93 Q470.96,570.02 470.44,569.66 Q469.93,569.29 469.63,568.79 Q469.34,568.29 469.32,567.75 Q469.29,567.2 469.38,566.69 Q469.46,566.17 469.66,565.59 Q469.85,565 470.41,564.72 Q470.97,564.43 471.58,564.52 Q472.19,564.6 472.71,564.88 Q473.23,565.16 473.52,565.65 Q473.81,566.14 473.96,566.67 Z" fill="#858585" stroke="#c4c4c4" stroke-width="0.9"/>
<path d="M474.54,567.03 Q474.7,567.6 474.6,568.2 Q474.5,568.81 474.08,569.24 Q473.66,569.68 473.15,570.06 Q472.65,570.45 471.98,570.54 Q471.31,570.63 470.75,570.24 Q470.2,569.85 469.88,569.31 Q469.56,568.77 469.54,568.19 Q469.52,567.6 469.61,567.05 Q469.7,566.49 469.91,565.86 Q470.11,565.23 470.72,564.93 Q471.32,564.62 471.98,564.71 Q472.64,564.8 473.2,565.1 Q473.76,565.4 474.07,565.93 Q474.38,566.46 474.54,567.03 Z" fill="none" stroke="#484848" stroke-width="0.8" stroke-dasharray="1.6 1.4"/>
<path d="M473.06,567.13 Q473.21,567.4 473.16,567.71 Q473.1,568.03 472.92,568.3 Q472.73,568.57 472.4,568.58 Q472.07,568.59 471.83,568.47 Q471.58,568.36 471.31,568.35 Q471.04,568.35 470.8,568.17 Q470.56,568 470.45,567.7 Q470.34,567.4 470.41,567.08 Q470.48,566.76 470.76,566.6 Q471.03,566.44 471.28,566.32 Q471.53,566.21 471.81,566.17 Q472.09,566.14 472.3,566.32 Q472.52,566.5 472.72,566.68 Q472.92,566.86 473.06,567.13 Z" fill="none" stroke="#aaa" stroke-width="0.7" stroke-dasharray="1.2 0.9"/>
<path d="M480.19,568.84 Q480.56,569.4 480.42,570.07 Q480.29,570.74 479.79,571.2 Q479.29,571.65 478.7,571.86 Q478.11,572.08 477.52,571.98 Q476.93,571.88 476.38,571.7 Q475.82,571.51 475.37,571.08 Q474.92,570.64 474.84,570.02 Q474.76,569.4 474.81,568.77 Q474.87,568.13 475.24,567.58 Q475.61,567.03 476.24,566.83 Q476.87,566.64 477.49,566.7 Q478.1,566.76 478.58,567.1 Q479.06,567.45 479.44,567.87 Q479.81,568.29 480.19,568.84 Z" fill="#858585" stroke="#c4c4c4" stroke-width="0.9"/>
<path d="M480.78,569.2 Q481.18,569.8 481.03,570.52 Q480.89,571.24 480.36,571.72 Q479.82,572.21 479.19,572.44 Q478.55,572.67 477.92,572.57 Q477.29,572.46 476.69,572.26 Q476.1,572.06 475.61,571.6 Q475.13,571.13 475.05,570.47 Q474.96,569.8 475.02,569.12 Q475.08,568.44 475.48,567.85 Q475.87,567.26 476.55,567.05 Q477.22,566.84 477.89,566.91 Q478.55,566.97 479.06,567.34 Q479.57,567.71 479.97,568.16 Q480.38,568.61 480.78,569.2 Z" fill="none" stroke="#484848" stroke-width="0.8" stroke-dasharray="1.6 1.4"/>
<path d="M478.82,569.33 Q478.82,569.6 478.9,569.91 Q478.98,570.22 478.81,570.5 Q478.64,570.78 478.33,570.89 Q478.02,571 477.69,571.04 Q477.36,571.09 477.08,570.91 Q476.8,570.73 476.63,570.46 Q476.47,570.19 476.42,569.9 Q476.37,569.6 476.52,569.35 Q476.67,569.1 476.77,568.83 Q476.86,568.55 477.1,568.26 Q477.33,567.97 477.69,568.01 Q478.06,568.04 478.33,568.25 Q478.61,568.46 478.71,568.76 Q478.81,569.06 478.82,569.33 Z" fill="none" stroke="#aaa" stroke-width="0.7" stroke-dasharray="1.2 0.9"/>
<path d="M485.85,571.78 Q485.94,572.4 485.89,573.04 Q485.84,573.67 485.48,574.25 Q485.13,574.82 484.48,574.97 Q483.82,575.13 483.22,575.04 Q482.62,574.95 482.12,574.66 Q481.63,574.37 481.23,573.96 Q480.83,573.54 480.46,572.97 Q480.1,572.4 480.26,571.73 Q480.42,571.06 480.94,570.64 Q481.46,570.22 482.03,569.97 Q482.59,569.73 483.19,569.79 Q483.78,569.84 484.33,570.07 Q484.88,570.3 485.32,570.73 Q485.76,571.17 485.85,571.78 Z" fill="#858585" stroke="#c4c4c4" stroke-width="0.9"/>
<path d="M486.44,572.14 Q486.54,572.8 486.48,573.48 Q486.43,574.16 486.05,574.78 Q485.67,575.39 484.97,575.56 Q484.27,575.72 483.62,575.63 Q482.98,575.53 482.45,575.22 Q481.92,574.91 481.49,574.47 Q481.06,574.02 480.67,573.41 Q480.28,572.8 480.45,572.08 Q480.62,571.36 481.18,570.91 Q481.74,570.46 482.34,570.2 Q482.95,569.94 483.59,570 Q484.22,570.06 484.81,570.3 Q485.4,570.55 485.87,571.01 Q486.34,571.48 486.44,572.14 Z" fill="none" stroke="#484848" stroke-width="0.8" stroke-dasharray="1.6 1.4"/>
<path d="M484.53,572.36 Q484.67,572.6 484.68,572.91 Q484.69,573.22 484.51,573.49 Q484.33,573.76 484.04,573.95 Q483.75,574.13 483.42,574.05 Q483.09,573.97 482.81,573.83 Q482.53,573.69 482.32,573.46 Q482.11,573.22 482.16,572.91 Q482.21,572.6 482.25,572.33 Q482.29,572.06 482.38,571.75 Q482.48,571.44 482.76,571.25 Q483.05,571.06 483.41,571.03 Q483.77,570.99 484.02,571.25 Q484.27,571.51 484.32,571.82 Q484.38,572.13 484.53,572.36 Z" fill="none" stroke="#aaa" stroke-width="0.7" stroke-dasharray="1.2 0.9"/>
<path d="M476.75,573.87 Q476.82,574.4 476.78,574.94 Q476.75,575.48 476.53,576.08 Q476.32,576.68 475.72,576.91 Q475.13,577.14 474.53,577.04 Q473.92,576.93 473.42,576.66 Q472.92,576.38 472.62,575.92 Q472.32,575.45 472.14,574.92 Q471.96,574.4 472.05,573.83 Q472.14,573.26 472.53,572.84 Q472.92,572.42 473.4,572.06 Q473.88,571.69 474.51,571.66 Q475.13,571.62 475.62,572.01 Q476.1,572.39 476.4,572.87 Q476.69,573.35 476.75,573.87 Z" fill="#858585" stroke="#c4c4c4" stroke-width="0.9"/>
<path d="M477.33,574.23 Q477.39,574.8 477.36,575.38 Q477.32,575.97 477.09,576.61 Q476.86,577.25 476.22,577.5 Q475.57,577.76 474.93,577.64 Q474.28,577.52 473.74,577.23 Q473.2,576.94 472.88,576.43 Q472.56,575.93 472.36,575.36 Q472.17,574.8 472.26,574.19 Q472.35,573.57 472.78,573.12 Q473.2,572.67 473.72,572.28 Q474.24,571.89 474.91,571.85 Q475.58,571.81 476.1,572.22 Q476.62,572.64 476.94,573.15 Q477.26,573.66 477.33,574.23 Z" fill="none" stroke="#484848" stroke-width="0.8" stroke-dasharray="1.6 1.4"/>
<path d="M476.02,574.3 Q476.08,574.6 475.99,574.89 Q475.89,575.17 475.74,575.45 Q475.6,575.73 475.29,575.78 Q474.98,575.83 474.72,575.73 Q474.46,575.64 474.21,575.58 Q473.96,575.52 473.75,575.34 Q473.53,575.17 473.35,574.88 Q473.18,574.6 473.24,574.26 Q473.3,573.93 473.63,573.79 Q473.95,573.66 474.2,573.59 Q474.45,573.52 474.71,573.47 Q474.97,573.42 475.22,573.52 Q475.48,573.63 475.72,573.81 Q475.96,573.99 476.02,574.3 Z" fill="none" stroke="#aaa" stroke-width="0.7" stroke-dasharray="1.2 0.9"/>
<path d="M504.74,581.14 Q504.69,581.81 504.2,582.28 Q503.72,582.75 502.91,582.71 Q502.09,582.67 501.36,582.5 Q500.63,582.32 499.92,581.98 Q499.22,581.63 498.6,581.08 Q497.98,580.53 497.56,579.79 Q497.13,579.05 497.42,578.42 Q497.71,577.79 498.36,577.5 Q499,577.22 499.64,577.04 Q500.29,576.87 501.04,577.01 Q501.8,577.15 502.54,577.52 Q503.27,577.88 503.87,578.47 Q504.48,579.06 504.63,579.76 Q504.79,580.46 504.74,581.14 Z" fill="#858585" stroke="#c4c4c4" stroke-width="0.9"/>
<path d="M505.33,581.6 Q505.27,582.32 504.75,582.82 Q504.24,583.33 503.38,583.29 Q502.52,583.26 501.75,583.07 Q500.97,582.89 500.23,582.53 Q499.49,582.17 498.84,581.59 Q498.19,581 497.75,580.22 Q497.3,579.43 497.62,578.76 Q497.93,578.08 498.61,577.77 Q499.29,577.47 499.98,577.27 Q500.66,577.08 501.46,577.23 Q502.26,577.37 503.03,577.75 Q503.81,578.14 504.44,578.76 Q505.07,579.38 505.23,580.13 Q505.39,580.88 505.33,581.6 Z" fill="none" stroke="#484848" stroke-width="0.8" stroke-dasharray="1.6 1.4"/>
<path d="M503.05,580.57 Q502.74,580.77 502.55,580.95 Q502.37,581.14 502.12,581.33 Q501.87,581.52 501.47,581.51 Q501.06,581.5 500.61,581.32 Q500.17,581.14 499.96,580.76 Q499.76,580.37 499.77,580.04 Q499.78,579.7 499.78,579.38 Q499.77,579.06 500.03,578.88 Q500.3,578.71 500.63,578.66 Q500.97,578.61 501.35,578.59 Q501.73,578.57 502.12,578.77 Q502.52,578.97 502.87,579.28 Q503.22,579.59 503.29,579.98 Q503.36,580.36 503.05,580.57 Z" fill="none" stroke="#aaa" stroke-width="0.7" stroke-dasharray="1.2 0.9"/>
<path d="M500.27,585.27 Q500.54,586 500.3,586.74 Q500.06,587.47 499.46,587.9 Q498.86,588.33 498.27,588.66 Q497.68,588.99 496.99,589.03 Q496.3,589.07 495.7,588.73 Q495.1,588.38 494.58,587.9 Q494.07,587.41 493.87,586.71 Q493.67,586 493.81,585.26 Q493.95,584.53 494.4,583.92 Q494.86,583.31 495.6,583.21 Q496.34,583.11 496.98,583.2 Q497.62,583.29 498.29,583.42 Q498.95,583.55 499.48,584.05 Q500.01,584.55 500.27,585.27 Z" fill="#858585" stroke="#c4c4c4" stroke-width="0.9"/>
<path d="M500.88,585.63 Q501.16,586.4 500.9,587.18 Q500.65,587.96 500.01,588.42 Q499.37,588.87 498.75,589.23 Q498.13,589.58 497.39,589.62 Q496.66,589.66 496.02,589.3 Q495.38,588.93 494.83,588.42 Q494.29,587.9 494.07,587.15 Q493.86,586.4 494.01,585.62 Q494.16,584.84 494.64,584.19 Q495.12,583.54 495.91,583.44 Q496.7,583.33 497.38,583.43 Q498.06,583.52 498.77,583.66 Q499.48,583.8 500.04,584.33 Q500.6,584.86 500.88,585.63 Z" fill="none" stroke="#484848" stroke-width="0.8" stroke-dasharray="1.6 1.4"/>
<path d="M498.8,585.84 Q498.9,586.2 498.84,586.58 Q498.79,586.96 498.52,587.25 Q498.26,587.53 497.9,587.61 Q497.54,587.69 497.19,587.73 Q496.84,587.78 496.56,587.57 Q496.28,587.36 496.14,587.07 Q496,586.78 495.78,586.49 Q495.56,586.2 495.56,585.81 Q495.56,585.41 495.81,585.09 Q496.06,584.77 496.44,584.65 Q496.82,584.54 497.15,584.74 Q497.49,584.94 497.76,585.05 Q498.02,585.17 498.36,585.32 Q498.7,585.48 498.8,585.84 Z" fill="none" stroke="#aaa" stroke-width="0.7" stroke-dasharray="1.2 0.9"/>
<path d="M508.96,583.33 Q509.11,584 508.84,584.62 Q508.56,585.24 508.09,585.63 Q507.61,586.02 507.13,586.45 Q506.66,586.88 505.97,587.02 Q505.28,587.17 504.62,586.86 Q503.97,586.55 503.56,585.96 Q503.14,585.38 503.18,584.69 Q503.22,584 503.37,583.4 Q503.52,582.81 503.82,582.22 Q504.12,581.64 504.73,581.38 Q505.34,581.13 506.01,581.09 Q506.67,581.04 507.33,581.27 Q507.99,581.51 508.4,582.08 Q508.8,582.65 508.96,583.33 Z" fill="#858585" stroke="#c4c4c4" stroke-width="0.9"/>
<path d="M509.55,583.68 Q509.72,584.4 509.43,585.06 Q509.14,585.72 508.63,586.13 Q508.11,586.55 507.61,587.01 Q507.1,587.47 506.36,587.63 Q505.63,587.78 504.93,587.45 Q504.23,587.12 503.79,586.49 Q503.35,585.87 503.39,585.13 Q503.43,584.4 503.6,583.76 Q503.76,583.13 504.08,582.51 Q504.39,581.88 505.05,581.61 Q505.7,581.34 506.41,581.29 Q507.12,581.25 507.82,581.49 Q508.52,581.74 508.95,582.35 Q509.39,582.96 509.55,583.68 Z" fill="none" stroke="#484848" stroke-width="0.8" stroke-dasharray="1.6 1.4"/>
<path d="M507.72,583.84 Q507.76,584.2 507.52,584.46 Q507.28,584.72 507.14,584.96 Q506.99,585.2 506.77,585.45 Q506.55,585.71 506.18,585.78 Q505.82,585.85 505.46,585.72 Q505.09,585.59 504.97,585.22 Q504.85,584.85 504.9,584.52 Q504.95,584.2 504.93,583.89 Q504.92,583.58 505.1,583.32 Q505.29,583.06 505.58,582.91 Q505.87,582.76 506.22,582.69 Q506.56,582.62 506.87,582.79 Q507.18,582.97 507.43,583.23 Q507.68,583.49 507.72,583.84 Z" fill="none" stroke="#aaa" stroke-width="0.7" stroke-dasharray="1.2 0.9"/>
<path d="M468.26,537.06 L466.04,531.59 L462.79,534.84 Z" fill="#fff"/>
<path d="M490.14,534.66 L495.61,532.44 L492.36,529.19 Z" fill="#fff"/>
<path d="M453.04,542.14 L455.26,547.61 L458.51,544.36 Z" fill="#000"/>
<path d="M484.84,551.44 L487.06,556.91 L490.31,553.66 Z" fill="#fff"/>
<path d="M498.56,559.44 L493.09,561.66 L496.34,564.91 Z" fill="#fff"/>
<path d="M502.16,570.52 L507.17,567.38 L503.4,564.75 Z" fill="#fff"/>
<path d="M463.6,567.8 L458.16,565.5 L458.16,570.1 Z" fill="#000"/>
<path d="M506.26,580.92 L511.27,577.78 L507.5,575.15 Z" fill="#000"/>
<path d="M485.6,590 L487.9,584.56 L483.3,584.56 Z" fill="#000"/>
</g>
<rect x="440.25" y="527.35" width="72.2" height="62.6" fill="none" stroke="#1e1e1e" stroke-width="1.4"/>
</g>
<rect x="0" y="0" width="520" height="1.15" fill="#000"/><rect x="0" y="0" width="1.2" height="615" fill="#000"/><rect x="518.6" y="0" width="1.4" height="615" fill="#000"/><rect x="0" y="613.1" width="520" height="1.9" fill="#000"/>
</svg>
</body></html>
